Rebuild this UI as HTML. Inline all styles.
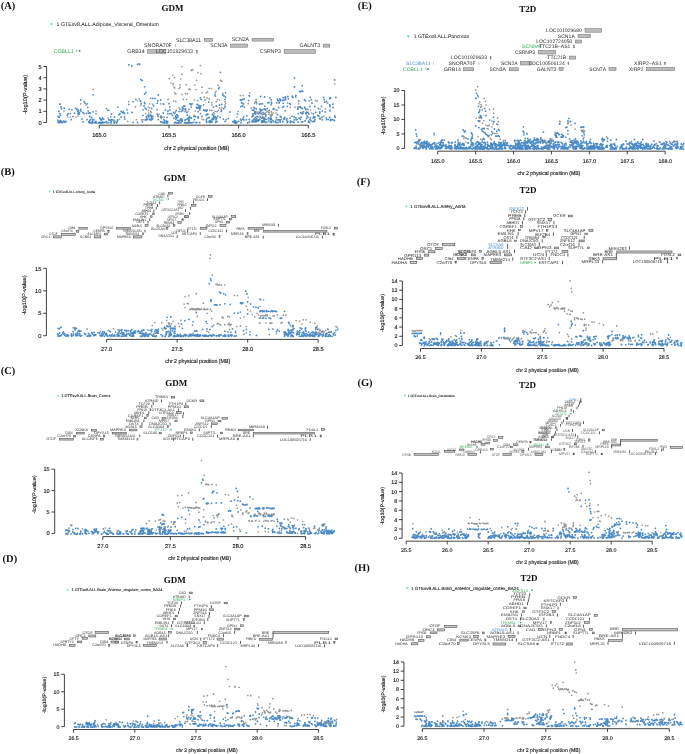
<!DOCTYPE html>
<html><head><meta charset="utf-8"><style>
html,body{margin:0;padding:0;background:#fff;}
svg{display:block;will-change:transform;}
text{font-family:'Liberation Sans',sans-serif;}
text.sb{font-family:'Liberation Serif',serif;font-weight:bold;}
</style></head><body>
<svg width="685" height="754" viewBox="0 0 685 754" fill="#222" text-rendering="geometricPrecision">
<rect width="685" height="754" fill="#fff"/>
<line x1="46.6" y1="122.5" x2="46.6" y2="66.5" stroke="#222" stroke-width="0.85"/>
<line x1="43.40" y1="122.50" x2="46.6" y2="122.50" stroke="#222" stroke-width="0.85"/>
<text x="41.6" y="124.6" font-size="5.72" text-anchor="end" fill="#111" stroke="#111" stroke-width="0.12">0</text>
<line x1="43.40" y1="111.30" x2="46.6" y2="111.30" stroke="#222" stroke-width="0.85"/>
<text x="41.6" y="113.4" font-size="5.72" text-anchor="end" fill="#111" stroke="#111" stroke-width="0.12">1</text>
<line x1="43.40" y1="100.10" x2="46.6" y2="100.10" stroke="#222" stroke-width="0.85"/>
<text x="41.6" y="102.2" font-size="5.72" text-anchor="end" fill="#111" stroke="#111" stroke-width="0.12">2</text>
<line x1="43.40" y1="88.90" x2="46.6" y2="88.90" stroke="#222" stroke-width="0.85"/>
<text x="41.6" y="91.0" font-size="5.72" text-anchor="end" fill="#111" stroke="#111" stroke-width="0.12">3</text>
<line x1="43.40" y1="77.70" x2="46.6" y2="77.70" stroke="#222" stroke-width="0.85"/>
<text x="41.6" y="79.8" font-size="5.72" text-anchor="end" fill="#111" stroke="#111" stroke-width="0.12">4</text>
<line x1="43.40" y1="66.50" x2="46.6" y2="66.50" stroke="#222" stroke-width="0.85"/>
<text x="41.6" y="68.6" font-size="5.72" text-anchor="end" fill="#111" stroke="#111" stroke-width="0.12">5</text>
<line x1="99.30" y1="125.2" x2="308.30" y2="125.2" stroke="#222" stroke-width="0.85"/>
<line x1="99.30" y1="125.2" x2="99.30" y2="128.40" stroke="#222" stroke-width="0.85"/>
<text x="99.3" y="136.7" font-size="5.72" text-anchor="middle" fill="#111" stroke="#111" stroke-width="0.12">165.0</text>
<line x1="168.97" y1="125.2" x2="168.97" y2="128.40" stroke="#222" stroke-width="0.85"/>
<text x="169.0" y="136.7" font-size="5.72" text-anchor="middle" fill="#111" stroke="#111" stroke-width="0.12">165.5</text>
<line x1="238.63" y1="125.2" x2="238.63" y2="128.40" stroke="#222" stroke-width="0.85"/>
<text x="238.6" y="136.7" font-size="5.72" text-anchor="middle" fill="#111" stroke="#111" stroke-width="0.12">166.0</text>
<line x1="308.30" y1="125.2" x2="308.30" y2="128.40" stroke="#222" stroke-width="0.85"/>
<text x="308.3" y="136.7" font-size="5.72" text-anchor="middle" fill="#111" stroke="#111" stroke-width="0.12">166.5</text>
<text x="196.8" y="149.7" font-size="5.72" text-anchor="middle" fill="#111" stroke="#111" stroke-width="0.12" textLength="65.1" lengthAdjust="spacingAndGlyphs">chr 2 physical position (MB)</text>
<text x="26.7" y="94.4" font-size="5.6" text-anchor="middle" fill="#111" stroke="#111" stroke-width="0.12" textLength="39.0" lengthAdjust="spacingAndGlyphs" transform="rotate(-90 26.72 94.4)">-log10(P-value)</text>
<line x1="404.6" y1="148.4" x2="404.6" y2="90.5" stroke="#222" stroke-width="0.85"/>
<line x1="401.40" y1="148.40" x2="404.6" y2="148.40" stroke="#222" stroke-width="0.85"/>
<text x="399.6" y="150.3" font-size="5.4" text-anchor="end" fill="#111" stroke="#111" stroke-width="0.12">0</text>
<line x1="401.40" y1="133.93" x2="404.6" y2="133.93" stroke="#222" stroke-width="0.85"/>
<text x="399.6" y="135.9" font-size="5.4" text-anchor="end" fill="#111" stroke="#111" stroke-width="0.12">5</text>
<line x1="401.40" y1="119.45" x2="404.6" y2="119.45" stroke="#222" stroke-width="0.85"/>
<text x="399.6" y="121.4" font-size="5.4" text-anchor="end" fill="#111" stroke="#111" stroke-width="0.12">10</text>
<line x1="401.40" y1="104.97" x2="404.6" y2="104.97" stroke="#222" stroke-width="0.85"/>
<text x="399.6" y="106.9" font-size="5.4" text-anchor="end" fill="#111" stroke="#111" stroke-width="0.12">15</text>
<line x1="401.40" y1="90.50" x2="404.6" y2="90.50" stroke="#222" stroke-width="0.85"/>
<text x="399.6" y="92.4" font-size="5.4" text-anchor="end" fill="#111" stroke="#111" stroke-width="0.12">20</text>
<line x1="437.70" y1="151.2" x2="665.20" y2="151.2" stroke="#222" stroke-width="0.85"/>
<line x1="437.70" y1="151.2" x2="437.70" y2="154.40" stroke="#222" stroke-width="0.85"/>
<text x="437.7" y="162.5" font-size="5.4" text-anchor="middle" fill="#111" stroke="#111" stroke-width="0.12">165.0</text>
<line x1="475.62" y1="151.2" x2="475.62" y2="154.40" stroke="#222" stroke-width="0.85"/>
<text x="475.6" y="162.5" font-size="5.4" text-anchor="middle" fill="#111" stroke="#111" stroke-width="0.12">165.5</text>
<line x1="513.53" y1="151.2" x2="513.53" y2="154.40" stroke="#222" stroke-width="0.85"/>
<text x="513.5" y="162.5" font-size="5.4" text-anchor="middle" fill="#111" stroke="#111" stroke-width="0.12">166.0</text>
<line x1="551.45" y1="151.2" x2="551.45" y2="154.40" stroke="#222" stroke-width="0.85"/>
<text x="551.5" y="162.5" font-size="5.4" text-anchor="middle" fill="#111" stroke="#111" stroke-width="0.12">166.5</text>
<line x1="589.37" y1="151.2" x2="589.37" y2="154.40" stroke="#222" stroke-width="0.85"/>
<text x="589.4" y="162.5" font-size="5.4" text-anchor="middle" fill="#111" stroke="#111" stroke-width="0.12">167.0</text>
<line x1="627.28" y1="151.2" x2="627.28" y2="154.40" stroke="#222" stroke-width="0.85"/>
<text x="627.3" y="162.5" font-size="5.4" text-anchor="middle" fill="#111" stroke="#111" stroke-width="0.12">167.5</text>
<line x1="665.20" y1="151.2" x2="665.20" y2="154.40" stroke="#222" stroke-width="0.85"/>
<text x="665.2" y="162.5" font-size="5.4" text-anchor="middle" fill="#111" stroke="#111" stroke-width="0.12">168.0</text>
<text x="548.9" y="174.5" font-size="5.4" text-anchor="middle" fill="#111" stroke="#111" stroke-width="0.12" textLength="62.8" lengthAdjust="spacingAndGlyphs">chr 2 physical position (MB)</text>
<text x="385.4" y="115.6" font-size="5.3" text-anchor="middle" fill="#111" stroke="#111" stroke-width="0.12" textLength="38.5" lengthAdjust="spacingAndGlyphs" transform="rotate(-90 385.41 115.6)">-log10(P-value)</text>
<line x1="46.4" y1="335.7" x2="46.4" y2="268.4" stroke="#222" stroke-width="0.85"/>
<line x1="43.20" y1="335.70" x2="46.4" y2="335.70" stroke="#222" stroke-width="0.85"/>
<text x="41.4" y="337.8" font-size="5.72" text-anchor="end" fill="#111" stroke="#111" stroke-width="0.12">0</text>
<line x1="43.20" y1="313.27" x2="46.4" y2="313.27" stroke="#222" stroke-width="0.85"/>
<text x="41.4" y="315.3" font-size="5.72" text-anchor="end" fill="#111" stroke="#111" stroke-width="0.12">5</text>
<line x1="43.20" y1="290.83" x2="46.4" y2="290.83" stroke="#222" stroke-width="0.85"/>
<text x="41.4" y="292.9" font-size="5.72" text-anchor="end" fill="#111" stroke="#111" stroke-width="0.12">10</text>
<line x1="43.20" y1="268.40" x2="46.4" y2="268.40" stroke="#222" stroke-width="0.85"/>
<text x="41.4" y="270.5" font-size="5.72" text-anchor="end" fill="#111" stroke="#111" stroke-width="0.12">15</text>
<line x1="106.60" y1="339.4" x2="318.20" y2="339.4" stroke="#222" stroke-width="0.85"/>
<line x1="106.60" y1="339.4" x2="106.60" y2="342.60" stroke="#222" stroke-width="0.85"/>
<text x="106.6" y="351.0" font-size="5.72" text-anchor="middle" fill="#111" stroke="#111" stroke-width="0.12">27.0</text>
<line x1="177.13" y1="339.4" x2="177.13" y2="342.60" stroke="#222" stroke-width="0.85"/>
<text x="177.1" y="351.0" font-size="5.72" text-anchor="middle" fill="#111" stroke="#111" stroke-width="0.12">27.5</text>
<line x1="247.67" y1="339.4" x2="247.67" y2="342.60" stroke="#222" stroke-width="0.85"/>
<text x="247.7" y="351.0" font-size="5.72" text-anchor="middle" fill="#111" stroke="#111" stroke-width="0.12">28.0</text>
<line x1="318.20" y1="339.4" x2="318.20" y2="342.60" stroke="#222" stroke-width="0.85"/>
<text x="318.2" y="351.0" font-size="5.72" text-anchor="middle" fill="#111" stroke="#111" stroke-width="0.12">28.5</text>
<text x="197.8" y="362.9" font-size="5.72" text-anchor="middle" fill="#111" stroke="#111" stroke-width="0.12" textLength="65.0" lengthAdjust="spacingAndGlyphs">chr 2 physical position (MB)</text>
<text x="26.3" y="295.1" font-size="5.3" text-anchor="middle" fill="#111" stroke="#111" stroke-width="0.12" textLength="39.5" lengthAdjust="spacingAndGlyphs" transform="rotate(-90 26.31 295.1)">-log10(P-value)</text>
<line x1="54.7" y1="533.4" x2="54.7" y2="469.2" stroke="#222" stroke-width="0.85"/>
<line x1="51.50" y1="533.40" x2="54.7" y2="533.40" stroke="#222" stroke-width="0.85"/>
<text x="49.7" y="535.4" font-size="5.62" text-anchor="end" fill="#111" stroke="#111" stroke-width="0.12">0</text>
<line x1="51.50" y1="512.00" x2="54.7" y2="512.00" stroke="#222" stroke-width="0.85"/>
<text x="49.7" y="514.0" font-size="5.62" text-anchor="end" fill="#111" stroke="#111" stroke-width="0.12">5</text>
<line x1="51.50" y1="490.60" x2="54.7" y2="490.60" stroke="#222" stroke-width="0.85"/>
<text x="49.7" y="492.6" font-size="5.62" text-anchor="end" fill="#111" stroke="#111" stroke-width="0.12">10</text>
<line x1="51.50" y1="469.20" x2="54.7" y2="469.20" stroke="#222" stroke-width="0.85"/>
<text x="49.7" y="471.2" font-size="5.62" text-anchor="end" fill="#111" stroke="#111" stroke-width="0.12">15</text>
<line x1="102.80" y1="536.6" x2="305.60" y2="536.6" stroke="#222" stroke-width="0.85"/>
<line x1="102.80" y1="536.6" x2="102.80" y2="539.80" stroke="#222" stroke-width="0.85"/>
<text x="102.8" y="547.9" font-size="5.62" text-anchor="middle" fill="#111" stroke="#111" stroke-width="0.12">27.0</text>
<line x1="170.40" y1="536.6" x2="170.40" y2="539.80" stroke="#222" stroke-width="0.85"/>
<text x="170.4" y="547.9" font-size="5.62" text-anchor="middle" fill="#111" stroke="#111" stroke-width="0.12">27.5</text>
<line x1="238.00" y1="536.6" x2="238.00" y2="539.80" stroke="#222" stroke-width="0.85"/>
<text x="238.0" y="547.9" font-size="5.62" text-anchor="middle" fill="#111" stroke="#111" stroke-width="0.12">28.0</text>
<line x1="305.60" y1="536.6" x2="305.60" y2="539.80" stroke="#222" stroke-width="0.85"/>
<text x="305.6" y="547.9" font-size="5.62" text-anchor="middle" fill="#111" stroke="#111" stroke-width="0.12">28.5</text>
<text x="199.6" y="560.3" font-size="5.62" text-anchor="middle" fill="#111" stroke="#111" stroke-width="0.12" textLength="62.8" lengthAdjust="spacingAndGlyphs">chr 2 physical position (MB)</text>
<text x="36.1" y="494.4" font-size="5.2" text-anchor="middle" fill="#111" stroke="#111" stroke-width="0.12" textLength="38.0" lengthAdjust="spacingAndGlyphs" transform="rotate(-90 36.07 494.4)">-log10(P-value)</text>
<line x1="64.4" y1="726.6" x2="64.4" y2="674.3" stroke="#222" stroke-width="0.85"/>
<line x1="61.20" y1="726.60" x2="64.4" y2="726.60" stroke="#222" stroke-width="0.85"/>
<text x="59.4" y="728.5" font-size="5.29" text-anchor="end" fill="#111" stroke="#111" stroke-width="0.12">0</text>
<line x1="61.20" y1="709.17" x2="64.4" y2="709.17" stroke="#222" stroke-width="0.85"/>
<text x="59.4" y="711.1" font-size="5.29" text-anchor="end" fill="#111" stroke="#111" stroke-width="0.12">5</text>
<line x1="61.20" y1="691.73" x2="64.4" y2="691.73" stroke="#222" stroke-width="0.85"/>
<text x="59.4" y="693.6" font-size="5.29" text-anchor="end" fill="#111" stroke="#111" stroke-width="0.12">10</text>
<line x1="61.20" y1="674.30" x2="64.4" y2="674.30" stroke="#222" stroke-width="0.85"/>
<text x="59.4" y="676.2" font-size="5.29" text-anchor="end" fill="#111" stroke="#111" stroke-width="0.12">15</text>
<line x1="73.60" y1="729.5" x2="318.40" y2="729.5" stroke="#222" stroke-width="0.85"/>
<line x1="73.60" y1="729.5" x2="73.60" y2="732.70" stroke="#222" stroke-width="0.85"/>
<text x="73.6" y="740.3" font-size="5.29" text-anchor="middle" fill="#111" stroke="#111" stroke-width="0.12">26.5</text>
<line x1="134.80" y1="729.5" x2="134.80" y2="732.70" stroke="#222" stroke-width="0.85"/>
<text x="134.8" y="740.3" font-size="5.29" text-anchor="middle" fill="#111" stroke="#111" stroke-width="0.12">27.0</text>
<line x1="196.00" y1="729.5" x2="196.00" y2="732.70" stroke="#222" stroke-width="0.85"/>
<text x="196.0" y="740.3" font-size="5.29" text-anchor="middle" fill="#111" stroke="#111" stroke-width="0.12">27.5</text>
<line x1="257.20" y1="729.5" x2="257.20" y2="732.70" stroke="#222" stroke-width="0.85"/>
<text x="257.2" y="740.3" font-size="5.29" text-anchor="middle" fill="#111" stroke="#111" stroke-width="0.12">28.0</text>
<line x1="318.40" y1="729.5" x2="318.40" y2="732.70" stroke="#222" stroke-width="0.85"/>
<text x="318.4" y="740.3" font-size="5.29" text-anchor="middle" fill="#111" stroke="#111" stroke-width="0.12">28.5</text>
<text x="206.8" y="752.1" font-size="5.29" text-anchor="middle" fill="#111" stroke="#111" stroke-width="0.12" textLength="61.6" lengthAdjust="spacingAndGlyphs">chr 2 physical position (MB)</text>
<text x="45.9" y="695.0" font-size="5.0" text-anchor="middle" fill="#111" stroke="#111" stroke-width="0.12" textLength="36.5" lengthAdjust="spacingAndGlyphs" transform="rotate(-90 45.90 695.0)">-log10(P-value)</text>
<line x1="402.4" y1="345.5" x2="402.4" y2="281.0" stroke="#222" stroke-width="0.85"/>
<line x1="399.20" y1="345.50" x2="402.4" y2="345.50" stroke="#222" stroke-width="0.85"/>
<text x="397.4" y="347.4" font-size="5.29" text-anchor="end" fill="#111" stroke="#111" stroke-width="0.12">0</text>
<line x1="399.20" y1="336.29" x2="402.4" y2="336.29" stroke="#222" stroke-width="0.85"/>
<text x="397.4" y="338.2" font-size="5.29" text-anchor="end" fill="#111" stroke="#111" stroke-width="0.12">2</text>
<line x1="399.20" y1="327.07" x2="402.4" y2="327.07" stroke="#222" stroke-width="0.85"/>
<text x="397.4" y="329.0" font-size="5.29" text-anchor="end" fill="#111" stroke="#111" stroke-width="0.12">4</text>
<line x1="399.20" y1="317.86" x2="402.4" y2="317.86" stroke="#222" stroke-width="0.85"/>
<text x="397.4" y="319.8" font-size="5.29" text-anchor="end" fill="#111" stroke="#111" stroke-width="0.12">6</text>
<line x1="399.20" y1="308.64" x2="402.4" y2="308.64" stroke="#222" stroke-width="0.85"/>
<text x="397.4" y="310.5" font-size="5.29" text-anchor="end" fill="#111" stroke="#111" stroke-width="0.12">8</text>
<line x1="399.20" y1="299.43" x2="402.4" y2="299.43" stroke="#222" stroke-width="0.85"/>
<text x="397.4" y="301.3" font-size="5.29" text-anchor="end" fill="#111" stroke="#111" stroke-width="0.12">10</text>
<line x1="399.20" y1="290.21" x2="402.4" y2="290.21" stroke="#222" stroke-width="0.85"/>
<text x="397.4" y="292.1" font-size="5.29" text-anchor="end" fill="#111" stroke="#111" stroke-width="0.12">12</text>
<line x1="399.20" y1="281.00" x2="402.4" y2="281.00" stroke="#222" stroke-width="0.85"/>
<text x="397.4" y="282.9" font-size="5.29" text-anchor="end" fill="#111" stroke="#111" stroke-width="0.12">14</text>
<line x1="420.50" y1="348.5" x2="664.00" y2="348.5" stroke="#222" stroke-width="0.85"/>
<line x1="420.50" y1="348.5" x2="420.50" y2="351.70" stroke="#222" stroke-width="0.85"/>
<text x="420.5" y="359.2" font-size="5.29" text-anchor="middle" fill="#111" stroke="#111" stroke-width="0.12">26.5</text>
<line x1="481.38" y1="348.5" x2="481.38" y2="351.70" stroke="#222" stroke-width="0.85"/>
<text x="481.4" y="359.2" font-size="5.29" text-anchor="middle" fill="#111" stroke="#111" stroke-width="0.12">27.0</text>
<line x1="542.25" y1="348.5" x2="542.25" y2="351.70" stroke="#222" stroke-width="0.85"/>
<text x="542.2" y="359.2" font-size="5.29" text-anchor="middle" fill="#111" stroke="#111" stroke-width="0.12">27.5</text>
<line x1="603.12" y1="348.5" x2="603.12" y2="351.70" stroke="#222" stroke-width="0.85"/>
<text x="603.1" y="359.2" font-size="5.29" text-anchor="middle" fill="#111" stroke="#111" stroke-width="0.12">28.0</text>
<line x1="664.00" y1="348.5" x2="664.00" y2="351.70" stroke="#222" stroke-width="0.85"/>
<text x="664.0" y="359.2" font-size="5.29" text-anchor="middle" fill="#111" stroke="#111" stroke-width="0.12">28.5</text>
<text x="547.3" y="371.8" font-size="5.29" text-anchor="middle" fill="#111" stroke="#111" stroke-width="0.12" textLength="63.0" lengthAdjust="spacingAndGlyphs">chr 2 physical position (MB)</text>
<text x="383.6" y="313.0" font-size="5.2" text-anchor="middle" fill="#111" stroke="#111" stroke-width="0.12" textLength="38.0" lengthAdjust="spacingAndGlyphs" transform="rotate(-90 383.57 313.0)">-log10(P-value)</text>
<line x1="402.1" y1="538.3" x2="402.1" y2="473.0" stroke="#222" stroke-width="0.85"/>
<line x1="398.90" y1="538.30" x2="402.1" y2="538.30" stroke="#222" stroke-width="0.85"/>
<text x="397.1" y="540.2" font-size="5.29" text-anchor="end" fill="#111" stroke="#111" stroke-width="0.12">0</text>
<line x1="398.90" y1="528.97" x2="402.1" y2="528.97" stroke="#222" stroke-width="0.85"/>
<text x="397.1" y="530.9" font-size="5.29" text-anchor="end" fill="#111" stroke="#111" stroke-width="0.12">2</text>
<line x1="398.90" y1="519.64" x2="402.1" y2="519.64" stroke="#222" stroke-width="0.85"/>
<text x="397.1" y="521.5" font-size="5.29" text-anchor="end" fill="#111" stroke="#111" stroke-width="0.12">4</text>
<line x1="398.90" y1="510.31" x2="402.1" y2="510.31" stroke="#222" stroke-width="0.85"/>
<text x="397.1" y="512.2" font-size="5.29" text-anchor="end" fill="#111" stroke="#111" stroke-width="0.12">6</text>
<line x1="398.90" y1="500.99" x2="402.1" y2="500.99" stroke="#222" stroke-width="0.85"/>
<text x="397.1" y="502.9" font-size="5.29" text-anchor="end" fill="#111" stroke="#111" stroke-width="0.12">8</text>
<line x1="398.90" y1="491.66" x2="402.1" y2="491.66" stroke="#222" stroke-width="0.85"/>
<text x="397.1" y="493.6" font-size="5.29" text-anchor="end" fill="#111" stroke="#111" stroke-width="0.12">10</text>
<line x1="398.90" y1="482.33" x2="402.1" y2="482.33" stroke="#222" stroke-width="0.85"/>
<text x="397.1" y="484.2" font-size="5.29" text-anchor="end" fill="#111" stroke="#111" stroke-width="0.12">12</text>
<line x1="398.90" y1="473.00" x2="402.1" y2="473.00" stroke="#222" stroke-width="0.85"/>
<text x="397.1" y="474.9" font-size="5.29" text-anchor="end" fill="#111" stroke="#111" stroke-width="0.12">14</text>
<line x1="406.20" y1="541.2" x2="652.20" y2="541.2" stroke="#222" stroke-width="0.85"/>
<line x1="406.20" y1="541.2" x2="406.20" y2="544.40" stroke="#222" stroke-width="0.85"/>
<text x="406.2" y="552.0" font-size="5.29" text-anchor="middle" fill="#111" stroke="#111" stroke-width="0.12">25.5</text>
<line x1="447.20" y1="541.2" x2="447.20" y2="544.40" stroke="#222" stroke-width="0.85"/>
<text x="447.2" y="552.0" font-size="5.29" text-anchor="middle" fill="#111" stroke="#111" stroke-width="0.12">26.0</text>
<line x1="488.20" y1="541.2" x2="488.20" y2="544.40" stroke="#222" stroke-width="0.85"/>
<text x="488.2" y="552.0" font-size="5.29" text-anchor="middle" fill="#111" stroke="#111" stroke-width="0.12">26.5</text>
<line x1="529.20" y1="541.2" x2="529.20" y2="544.40" stroke="#222" stroke-width="0.85"/>
<text x="529.2" y="552.0" font-size="5.29" text-anchor="middle" fill="#111" stroke="#111" stroke-width="0.12">27.0</text>
<line x1="570.20" y1="541.2" x2="570.20" y2="544.40" stroke="#222" stroke-width="0.85"/>
<text x="570.2" y="552.0" font-size="5.29" text-anchor="middle" fill="#111" stroke="#111" stroke-width="0.12">27.5</text>
<line x1="611.20" y1="541.2" x2="611.20" y2="544.40" stroke="#222" stroke-width="0.85"/>
<text x="611.2" y="552.0" font-size="5.29" text-anchor="middle" fill="#111" stroke="#111" stroke-width="0.12">28.0</text>
<line x1="652.20" y1="541.2" x2="652.20" y2="544.40" stroke="#222" stroke-width="0.85"/>
<text x="652.2" y="552.0" font-size="5.29" text-anchor="middle" fill="#111" stroke="#111" stroke-width="0.12">28.5</text>
<text x="547.3" y="563.9" font-size="5.29" text-anchor="middle" fill="#111" stroke="#111" stroke-width="0.12" textLength="63.0" lengthAdjust="spacingAndGlyphs">chr 2 physical position (MB)</text>
<text x="383.6" y="505.9" font-size="5.2" text-anchor="middle" fill="#111" stroke="#111" stroke-width="0.12" textLength="38.0" lengthAdjust="spacingAndGlyphs" transform="rotate(-90 383.57 505.9)">-log10(P-value)</text>
<line x1="403.9" y1="726.2" x2="403.9" y2="662.0" stroke="#222" stroke-width="0.85"/>
<line x1="400.70" y1="726.20" x2="403.9" y2="726.20" stroke="#222" stroke-width="0.85"/>
<text x="398.9" y="728.1" font-size="5.29" text-anchor="end" fill="#111" stroke="#111" stroke-width="0.12">0</text>
<line x1="400.70" y1="717.03" x2="403.9" y2="717.03" stroke="#222" stroke-width="0.85"/>
<text x="398.9" y="718.9" font-size="5.29" text-anchor="end" fill="#111" stroke="#111" stroke-width="0.12">2</text>
<line x1="400.70" y1="707.86" x2="403.9" y2="707.86" stroke="#222" stroke-width="0.85"/>
<text x="398.9" y="709.8" font-size="5.29" text-anchor="end" fill="#111" stroke="#111" stroke-width="0.12">4</text>
<line x1="400.70" y1="698.69" x2="403.9" y2="698.69" stroke="#222" stroke-width="0.85"/>
<text x="398.9" y="700.6" font-size="5.29" text-anchor="end" fill="#111" stroke="#111" stroke-width="0.12">6</text>
<line x1="400.70" y1="689.51" x2="403.9" y2="689.51" stroke="#222" stroke-width="0.85"/>
<text x="398.9" y="691.4" font-size="5.29" text-anchor="end" fill="#111" stroke="#111" stroke-width="0.12">8</text>
<line x1="400.70" y1="680.34" x2="403.9" y2="680.34" stroke="#222" stroke-width="0.85"/>
<text x="398.9" y="682.2" font-size="5.29" text-anchor="end" fill="#111" stroke="#111" stroke-width="0.12">10</text>
<line x1="400.70" y1="671.17" x2="403.9" y2="671.17" stroke="#222" stroke-width="0.85"/>
<text x="398.9" y="673.1" font-size="5.29" text-anchor="end" fill="#111" stroke="#111" stroke-width="0.12">12</text>
<line x1="400.70" y1="662.00" x2="403.9" y2="662.00" stroke="#222" stroke-width="0.85"/>
<text x="398.9" y="663.9" font-size="5.29" text-anchor="end" fill="#111" stroke="#111" stroke-width="0.12">14</text>
<line x1="422.30" y1="728.7" x2="669.30" y2="728.7" stroke="#222" stroke-width="0.85"/>
<line x1="422.30" y1="728.7" x2="422.30" y2="731.90" stroke="#222" stroke-width="0.85"/>
<text x="422.3" y="740.1" font-size="5.29" text-anchor="middle" fill="#111" stroke="#111" stroke-width="0.12">26.5</text>
<line x1="484.05" y1="728.7" x2="484.05" y2="731.90" stroke="#222" stroke-width="0.85"/>
<text x="484.1" y="740.1" font-size="5.29" text-anchor="middle" fill="#111" stroke="#111" stroke-width="0.12">27.0</text>
<line x1="545.80" y1="728.7" x2="545.80" y2="731.90" stroke="#222" stroke-width="0.85"/>
<text x="545.8" y="740.1" font-size="5.29" text-anchor="middle" fill="#111" stroke="#111" stroke-width="0.12">27.5</text>
<line x1="607.55" y1="728.7" x2="607.55" y2="731.90" stroke="#222" stroke-width="0.85"/>
<text x="607.5" y="740.1" font-size="5.29" text-anchor="middle" fill="#111" stroke="#111" stroke-width="0.12">28.0</text>
<line x1="669.30" y1="728.7" x2="669.30" y2="731.90" stroke="#222" stroke-width="0.85"/>
<text x="669.3" y="740.1" font-size="5.29" text-anchor="middle" fill="#111" stroke="#111" stroke-width="0.12">28.5</text>
<text x="548.8" y="752.1" font-size="5.29" text-anchor="middle" fill="#111" stroke="#111" stroke-width="0.12" textLength="63.1" lengthAdjust="spacingAndGlyphs">chr 2 physical position (MB)</text>
<text x="384.7" y="694.0" font-size="5.2" text-anchor="middle" fill="#111" stroke="#111" stroke-width="0.12" textLength="37.3" lengthAdjust="spacingAndGlyphs" transform="rotate(-90 384.67 694.0)">-log10(P-value)</text>
<text x="0.7" y="8.9" font-size="10.5" fill="#111" class="sb">(A)</text>
<text x="0.7" y="175.3" font-size="10.5" fill="#111" class="sb">(B)</text>
<text x="0.7" y="374.2" font-size="10.5" fill="#111" class="sb">(C)</text>
<text x="2.6" y="562.3" font-size="10.5" fill="#111" class="sb">(D)</text>
<text x="357.7" y="8.9" font-size="10.5" fill="#111" class="sb">(E)</text>
<text x="356.8" y="185.2" font-size="10.5" fill="#111" class="sb">(F)</text>
<text x="357.4" y="386.2" font-size="10.5" fill="#111" class="sb">(G)</text>
<text x="354.5" y="571.4" font-size="10.5" fill="#111" class="sb">(H)</text>
<text x="172.5" y="11.0" font-size="9" text-anchor="middle" fill="#111" class="sb">GDM</text>
<text x="174.7" y="180.5" font-size="9" text-anchor="middle" fill="#111" class="sb">GDM</text>
<text x="176.2" y="386.0" font-size="9" text-anchor="middle" fill="#111" class="sb">GDM</text>
<text x="174.8" y="582.6" font-size="9" text-anchor="middle" fill="#111" class="sb">GDM</text>
<text x="527.8" y="11.6" font-size="9" text-anchor="middle" fill="#111" class="sb">T2D</text>
<text x="527.9" y="193.0" font-size="9" text-anchor="middle" fill="#111" class="sb">T2D</text>
<text x="527.4" y="387.6" font-size="9" text-anchor="middle" fill="#111" class="sb">T2D</text>
<text x="529.1" y="580.9" font-size="9" text-anchor="middle" fill="#111" class="sb">T2D</text>
<circle cx="51.5" cy="23.9" r="1.26" fill="#86dcc4"/>
<text x="56.5" y="25.8" font-size="5.26" fill="#111" textLength="102.3" lengthAdjust="spacingAndGlyphs">1 GTExv8.ALL.Adipose_Visceral_Omentum</text>
<circle cx="408.4" cy="36.2" r="1.21" fill="#86dcc4"/>
<text x="413.7" y="38.0" font-size="5.04" fill="#111" textLength="55.5" lengthAdjust="spacingAndGlyphs">1 GTExv8.ALL.Pancreas</text>
<circle cx="49.6" cy="191.4" r="1.00" fill="#86dcc4"/>
<text x="52.8" y="192.6" font-size="3.4" fill="#111" textLength="42.1" lengthAdjust="spacingAndGlyphs" stroke="#111" stroke-width="0.08">1 GTExv8.ALL.Artery_Aorta</text>
<circle cx="58.2" cy="396.0" r="1.00" fill="#86dcc4"/>
<text x="61.3" y="397.4" font-size="3.89" fill="#111" textLength="49.1" lengthAdjust="spacingAndGlyphs" stroke="#111" stroke-width="0.08">1 GTExv8.ALL.Brain_Cortex</text>
<circle cx="67.7" cy="590.0" r="1.00" fill="#86dcc4"/>
<text x="71.5" y="591.4" font-size="3.78" fill="#111" textLength="90.8" lengthAdjust="spacingAndGlyphs" stroke="#111" stroke-width="0.08">1 GTExv8.ALL.Brain_Anterior_cingulate_cortex_BA24</text>
<circle cx="406.4" cy="206.5" r="1.07" fill="#86dcc4"/>
<text x="410.2" y="208.1" font-size="4.47" fill="#111" textLength="55.4" lengthAdjust="spacingAndGlyphs" stroke="#111" stroke-width="0.08">1 GTExv8.ALL.Artery_Aorta</text>
<circle cx="404.9" cy="395.6" r="1.00" fill="#86dcc4"/>
<text x="407.8" y="396.7" font-size="3.18" fill="#111" textLength="47.0" lengthAdjust="spacingAndGlyphs" stroke="#111" stroke-width="0.08">1 GTExv8.ALL.Brain_Cerebellum</text>
<circle cx="407.2" cy="588.0" r="1.08" fill="#86dcc4"/>
<text x="411.0" y="589.6" font-size="4.49" fill="#111" textLength="107.8" lengthAdjust="spacingAndGlyphs" stroke="#111" stroke-width="0.08">1 GTExv8.ALL.Brain_Anterior_cingulate_cortex_BA24</text>
<text x="53.8" y="52.7" font-size="5.4" fill="#3aaa5c" textLength="19.8" lengthAdjust="spacingAndGlyphs">COBLL1</text>
<rect x="76.50" y="49.50" width="0.60" height="2.60" fill="#3aaa5c"/>
<circle cx="79.6" cy="50.9" r="0.9" fill="#2e8a6a"/>
<text x="127.3" y="53.1" font-size="5.4" fill="#2a2a2a" textLength="17.5" lengthAdjust="spacingAndGlyphs">GRB14</text>
<rect x="147.60" y="49.60" width="18.20" height="3.60" fill="#bcbcbc" stroke="#6a6a6a" stroke-width="0.5"/>
<text x="155.8" y="53.1" font-size="5.4" fill="#3a3a3a" textLength="37.2" lengthAdjust="spacingAndGlyphs">LOC101929633</text>
<rect x="196.50" y="50.30" width="0.90" height="3.00" fill="#6a6a6a" stroke="#6a6a6a" stroke-width="0.3"/>
<text x="144.1" y="46.9" font-size="5.4" fill="#2a2a2a" textLength="27.7" lengthAdjust="spacingAndGlyphs">SNORA70F</text>
<rect x="174.90" y="43.90" width="0.60" height="2.80" fill="#888"/>
<text x="175.9" y="41.5" font-size="5.4" fill="#2a2a2a" textLength="25.1" lengthAdjust="spacingAndGlyphs">SLC38A11</text>
<rect x="204.40" y="38.50" width="8.30" height="2.80" fill="#bcbcbc" stroke="#6a6a6a" stroke-width="0.5"/>
<text x="231.7" y="41.3" font-size="5.4" fill="#2a2a2a" textLength="17.3" lengthAdjust="spacingAndGlyphs">SCN2A</text>
<rect x="252.10" y="38.30" width="21.50" height="2.80" fill="#bcbcbc" stroke="#6a6a6a" stroke-width="0.5"/>
<text x="210.2" y="47.2" font-size="5.4" fill="#2a2a2a" textLength="17.4" lengthAdjust="spacingAndGlyphs">SCN3A</text>
<rect x="230.70" y="44.00" width="16.90" height="3.20" fill="#bcbcbc" stroke="#6a6a6a" stroke-width="0.5"/>
<text x="299.5" y="47.2" font-size="5.4" fill="#2a2a2a" textLength="20.7" lengthAdjust="spacingAndGlyphs">GALNT3</text>
<rect x="323.20" y="44.10" width="6.60" height="3.00" fill="#bcbcbc" stroke="#6a6a6a" stroke-width="0.5"/>
<text x="259.9" y="52.9" font-size="5.4" fill="#2a2a2a" textLength="21.0" lengthAdjust="spacingAndGlyphs">CSRNP3</text>
<rect x="284.20" y="49.50" width="31.30" height="3.80" fill="#bcbcbc" stroke="#6a6a6a" stroke-width="0.5"/>
<text x="546.1" y="31.9" font-size="5.0" fill="#2a2a2a" textLength="35.7" lengthAdjust="spacingAndGlyphs">LOC101929680</text>
<rect x="585.00" y="28.60" width="16.60" height="3.60" fill="#bcbcbc" stroke="#6a6a6a" stroke-width="0.5"/>
<text x="557.8" y="37.5" font-size="5.0" fill="#2a2a2a" textLength="17.0" lengthAdjust="spacingAndGlyphs">SCN1A</text>
<rect x="578.00" y="34.40" width="12.60" height="3.20" fill="#bcbcbc" stroke="#6a6a6a" stroke-width="0.5"/>
<text x="536.3" y="43.0" font-size="5.0" fill="#2a2a2a" textLength="35.9" lengthAdjust="spacingAndGlyphs">LOC102724058</text>
<rect x="575.30" y="40.00" width="6.20" height="3.00" fill="#bcbcbc" stroke="#6a6a6a" stroke-width="0.5"/>
<text x="539.0" y="48.2" font-size="5.0" fill="#2a2a2a" textLength="31.4" lengthAdjust="spacingAndGlyphs">TTC21B−AS1</text>
<rect x="573.60" y="45.40" width="0.90" height="2.60" fill="#6a6a6a" stroke="#6a6a6a" stroke-width="0.3"/>
<text x="521.9" y="48.2" font-size="5.0" fill="#3aaa5c" textLength="17.5" lengthAdjust="spacingAndGlyphs">SCN9A</text>
<rect x="539.6" y="45.4" width="1.6" height="2" fill="#2e8a6a"/>
<text x="514.9" y="53.8" font-size="5.0" fill="#2a2a2a" textLength="20.1" lengthAdjust="spacingAndGlyphs">CSRNP3</text>
<rect x="538.20" y="50.40" width="17.50" height="3.60" fill="#bcbcbc" stroke="#6a6a6a" stroke-width="0.5"/>
<text x="547.3" y="59.1" font-size="5.0" fill="#2a2a2a" textLength="18.9" lengthAdjust="spacingAndGlyphs">TTC21B</text>
<rect x="569.20" y="56.10" width="6.50" height="3.00" fill="#bcbcbc" stroke="#6a6a6a" stroke-width="0.5"/>
<text x="500.9" y="64.7" font-size="5.0" fill="#2a2a2a" textLength="16.6" lengthAdjust="spacingAndGlyphs">SCN2A</text>
<rect x="520.50" y="61.40" width="11.00" height="3.60" fill="#bcbcbc" stroke="#6a6a6a" stroke-width="0.5"/>
<text x="528.9" y="64.7" font-size="5.0" fill="#2a2a2a" textLength="35.9" lengthAdjust="spacingAndGlyphs">LOC100506124</text>
<rect x="567.90" y="62.00" width="0.90" height="2.80" fill="#6a6a6a" stroke="#6a6a6a" stroke-width="0.3"/>
<text x="536.8" y="70.5" font-size="5.0" fill="#2a2a2a" textLength="19.6" lengthAdjust="spacingAndGlyphs">GALNT3</text>
<rect x="559.00" y="67.50" width="4.10" height="3.00" fill="#bcbcbc" stroke="#6a6a6a" stroke-width="0.5"/>
<text x="589.3" y="70.5" font-size="5.0" fill="#2a2a2a" textLength="16.7" lengthAdjust="spacingAndGlyphs">SCN7A</text>
<rect x="609.00" y="67.50" width="7.00" height="3.00" fill="#bcbcbc" stroke="#6a6a6a" stroke-width="0.5"/>
<text x="489.5" y="71.0" font-size="5.0" fill="#2a2a2a" textLength="16.3" lengthAdjust="spacingAndGlyphs">SCN3A</text>
<rect x="509.30" y="67.80" width="9.10" height="3.00" fill="#bcbcbc" stroke="#6a6a6a" stroke-width="0.5"/>
<text x="451.0" y="59.3" font-size="5.0" fill="#2a2a2a" textLength="36.0" lengthAdjust="spacingAndGlyphs">LOC101929633</text>
<rect x="490.10" y="56.50" width="0.90" height="2.60" fill="#6a6a6a" stroke="#6a6a6a" stroke-width="0.3"/>
<text x="406.0" y="65.0" font-size="5.0" fill="#4a90c8" textLength="24.5" lengthAdjust="spacingAndGlyphs">SLC38A11</text>
<rect x="433.40" y="62.20" width="0.60" height="2.40" fill="#7fb0d8"/>
<text x="448.6" y="65.2" font-size="5.0" fill="#2a2a2a" textLength="27.0" lengthAdjust="spacingAndGlyphs">SNORA70F</text>
<rect x="478.60" y="62.40" width="0.60" height="2.40" fill="#888"/>
<text x="403.0" y="70.8" font-size="5.0" fill="#3aaa5c" textLength="19.5" lengthAdjust="spacingAndGlyphs">COBLL1</text>
<rect x="425.60" y="67.80" width="0.60" height="2.40" fill="#3aaa5c"/>
<circle cx="428.0" cy="69.0" r="0.9" fill="#2e8a6a"/>
<text x="444.0" y="71.0" font-size="5.0" fill="#2a2a2a" textLength="16.9" lengthAdjust="spacingAndGlyphs">GRB14</text>
<rect x="463.50" y="67.80" width="10.20" height="3.00" fill="#bcbcbc" stroke="#6a6a6a" stroke-width="0.5"/>
<text x="634.0" y="65.0" font-size="5.0" fill="#2a2a2a" textLength="27.5" lengthAdjust="spacingAndGlyphs">XIRP2−AS1</text>
<rect x="664.60" y="62.10" width="0.90" height="2.60" fill="#6a6a6a" stroke="#6a6a6a" stroke-width="0.3"/>
<text x="629.0" y="70.5" font-size="5.0" fill="#2a2a2a" textLength="14.5" lengthAdjust="spacingAndGlyphs">XIRP2</text>
<rect x="646.50" y="67.40" width="28.20" height="3.20" fill="#bcbcbc" stroke="#6a6a6a" stroke-width="0.5"/>
<text x="41.1" y="237.8" font-size="3.5" fill="#2a2a2a" textLength="8.8" lengthAdjust="spacingAndGlyphs">ORC1</text>
<text x="49.0" y="234.7" font-size="3.5" fill="#2a2a2a" textLength="8.8" lengthAdjust="spacingAndGlyphs">OTOF</text>
<rect x="53.40" y="235.86" width="7.90" height="2.08" fill="#c6c6c6" stroke="#4a4a4a" stroke-width="0.55"/>
<text x="61.3" y="232.1" font-size="3.5" fill="#2a2a2a" textLength="11.4" lengthAdjust="spacingAndGlyphs">C2orf70</text>
<rect x="61.30" y="233.26" width="14.40" height="2.08" fill="#c6c6c6" stroke="#4a4a4a" stroke-width="0.55"/>
<text x="68.3" y="229.3" font-size="3.5" fill="#2a2a2a" textLength="7.0" lengthAdjust="spacingAndGlyphs">CIB4</text>
<rect x="76.20" y="230.20" width="2.60" height="2.00" fill="#c6c6c6" stroke="#4a4a4a" stroke-width="0.55"/>
<rect x="78.80" y="227.46" width="8.70" height="1.68" fill="#c6c6c6" stroke="#4a4a4a" stroke-width="0.55"/>
<text x="80.1" y="237.8" font-size="3.5" fill="#2a2a2a" textLength="10.9" lengthAdjust="spacingAndGlyphs">KCNK3</text>
<rect x="94.20" y="235.82" width="6.60" height="2.16" fill="#c6c6c6" stroke="#4a4a4a" stroke-width="0.55"/>
<text x="87.6" y="234.8" font-size="3.5" fill="#2a2a2a" textLength="13.6" lengthAdjust="spacingAndGlyphs">SLC35F6</text>
<rect x="104.30" y="233.22" width="3.00" height="1.76" fill="#c6c6c6" stroke="#4a4a4a" stroke-width="0.55"/>
<text x="93.3" y="232.1" font-size="3.5" fill="#2a2a2a" textLength="11.4" lengthAdjust="spacingAndGlyphs">CENPA</text>
<rect x="107.80" y="230.26" width="1.30" height="2.08" fill="#c6c6c6" stroke="#4a4a4a" stroke-width="0.55"/>
<text x="100.3" y="229.2" font-size="3.5" fill="#2a2a2a" textLength="13.2" lengthAdjust="spacingAndGlyphs">DPYSL5</text>
<rect x="116.50" y="227.50" width="14.00" height="1.60" fill="#c6c6c6" stroke="#4a4a4a" stroke-width="0.55"/>
<text x="117.0" y="237.8" font-size="3.5" fill="#2a2a2a" textLength="13.5" lengthAdjust="spacingAndGlyphs">MAPRE3</text>
<rect x="133.60" y="235.82" width="8.30" height="2.16" fill="#c6c6c6" stroke="#4a4a4a" stroke-width="0.55"/>
<text x="122.7" y="232.1" font-size="3.5" fill="#2a2a2a" textLength="19.2" lengthAdjust="spacingAndGlyphs">TMEM214-AS1</text>
<rect x="144.57" y="229.60" width="0.85" height="2.80" fill="#444"/>
<text x="125.3" y="234.8" font-size="3.5" fill="#2a2a2a" textLength="13.6" lengthAdjust="spacingAndGlyphs">TMEM214</text>
<rect x="142.30" y="232.84" width="1.10" height="1.92" fill="#c6c6c6" stroke="#4a4a4a" stroke-width="0.55"/>
<text x="131.7" y="226.6" font-size="3.5" fill="#2a2a2a" textLength="10.5" lengthAdjust="spacingAndGlyphs">AGBL5</text>
<rect x="145.10" y="224.52" width="2.90" height="1.76" fill="#c6c6c6" stroke="#4a4a4a" stroke-width="0.55"/>
<text x="158.5" y="194.7" font-size="3.5" fill="#2a2a2a" textLength="7.0" lengthAdjust="spacingAndGlyphs">CAD</text>
<rect x="168.50" y="192.68" width="4.00" height="1.44" fill="#c6c6c6" stroke="#4a4a4a" stroke-width="0.55"/>
<text x="153.3" y="197.6" font-size="3.5" fill="#2a2a2a" textLength="11.1" lengthAdjust="spacingAndGlyphs">ATRAID</text>
<rect x="167.47" y="194.60" width="0.85" height="2.80" fill="#444"/>
<text x="153.3" y="200.5" font-size="3.5" fill="#3aaa5c" textLength="10.5" lengthAdjust="spacingAndGlyphs">SLC5A6</text>
<rect x="166.15" y="198.06" width="0.50" height="2.07" fill="#7cc99a"/>
<circle cx="168.4" cy="199.1" r="0.75" fill="#2e9a7a"/>
<text x="146.3" y="203.5" font-size="3.5" fill="#2a2a2a" textLength="9.9" lengthAdjust="spacingAndGlyphs">TCF23</text>
<rect x="159.27" y="201.40" width="0.85" height="2.80" fill="#444"/>
<text x="143.4" y="206.4" font-size="3.5" fill="#2a2a2a" textLength="9.9" lengthAdjust="spacingAndGlyphs">PREB</text>
<rect x="156.97" y="204.20" width="0.85" height="2.80" fill="#444"/>
<text x="145.0" y="209.1" font-size="3.5" fill="#2a2a2a" textLength="8.3" lengthAdjust="spacingAndGlyphs">TPRB</text>
<rect x="155.77" y="206.80" width="0.85" height="2.80" fill="#444"/>
<text x="141.6" y="212.0" font-size="3.5" fill="#2a2a2a" textLength="9.9" lengthAdjust="spacingAndGlyphs">ABHD1</text>
<rect x="153.47" y="209.60" width="0.85" height="2.80" fill="#444"/>
<text x="135.2" y="214.9" font-size="3.5" fill="#2a2a2a" textLength="13.4" lengthAdjust="spacingAndGlyphs">CGREF1</text>
<rect x="152.70" y="213.00" width="1.80" height="1.60" fill="#c6c6c6" stroke="#4a4a4a" stroke-width="0.55"/>
<text x="139.9" y="217.8" font-size="3.5" fill="#2a2a2a" textLength="7.0" lengthAdjust="spacingAndGlyphs">KHK</text>
<rect x="150.40" y="215.80" width="1.70" height="1.60" fill="#c6c6c6" stroke="#4a4a4a" stroke-width="0.55"/>
<text x="132.8" y="220.8" font-size="3.5" fill="#2a2a2a" textLength="13.5" lengthAdjust="spacingAndGlyphs">EMILIN1</text>
<rect x="149.38" y="218.20" width="0.85" height="2.80" fill="#444"/>
<text x="136.4" y="223.4" font-size="3.5" fill="#2a2a2a" textLength="8.1" lengthAdjust="spacingAndGlyphs">OST4</text>
<rect x="147.57" y="220.90" width="0.85" height="2.80" fill="#444"/>
<text x="177.8" y="203.2" font-size="3.5" fill="#2a2a2a" textLength="5.8" lengthAdjust="spacingAndGlyphs">FTH1P3</text>
<rect x="193.07" y="200.70" width="0.85" height="3.00" fill="#444"/>
<rect x="191.60" y="204.42" width="4.40" height="1.76" fill="#c6c6c6" stroke="#4a4a4a" stroke-width="0.55"/>
<text x="177.2" y="206.2" font-size="3.5" fill="#2a2a2a" textLength="9.4" lengthAdjust="spacingAndGlyphs">PPM1G</text>
<text x="177.8" y="208.7" font-size="3.5" fill="#2a2a2a" textLength="5.8" lengthAdjust="spacingAndGlyphs">SNX17</text>
<rect x="190.17" y="206.90" width="0.85" height="2.80" fill="#444"/>
<text x="161.5" y="211.4" font-size="3.5" fill="#2a2a2a" textLength="17.5" lengthAdjust="spacingAndGlyphs">GTF3C2-AS1</text>
<rect x="184.97" y="209.10" width="0.85" height="2.80" fill="#444"/>
<text x="175.5" y="214.9" font-size="3.5" fill="#2a2a2a" textLength="8.1" lengthAdjust="spacingAndGlyphs">EIF2B4</text>
<rect x="189.27" y="212.10" width="0.85" height="2.80" fill="#444"/>
<text x="167.9" y="217.6" font-size="3.5" fill="#2a2a2a" textLength="9.9" lengthAdjust="spacingAndGlyphs">GTF3C2</text>
<rect x="184.20" y="215.80" width="4.10" height="1.60" fill="#c6c6c6" stroke="#4a4a4a" stroke-width="0.55"/>
<rect x="185.00" y="215.80" width="3.50" height="1.60" fill="#c6c6c6" stroke="#4a4a4a" stroke-width="0.55"/>
<text x="167.3" y="220.8" font-size="3.5" fill="#2a2a2a" textLength="8.8" lengthAdjust="spacingAndGlyphs">MPV17</text>
<rect x="181.90" y="218.80" width="1.70" height="1.60" fill="#c6c6c6" stroke="#4a4a4a" stroke-width="0.55"/>
<text x="163.2" y="223.7" font-size="3.5" fill="#2a2a2a" textLength="11.1" lengthAdjust="spacingAndGlyphs">TRIM54</text>
<rect x="177.80" y="221.70" width="3.50" height="1.60" fill="#c6c6c6" stroke="#4a4a4a" stroke-width="0.55"/>
<text x="156.2" y="226.6" font-size="3.5" fill="#2a2a2a" textLength="14.0" lengthAdjust="spacingAndGlyphs">SLC30A3</text>
<rect x="173.70" y="224.70" width="1.20" height="1.60" fill="#c6c6c6" stroke="#4a4a4a" stroke-width="0.55"/>
<text x="151.0" y="229.5" font-size="3.5" fill="#2a2a2a" textLength="14.0" lengthAdjust="spacingAndGlyphs">SLC5A6</text>
<rect x="166.10" y="227.60" width="1.80" height="1.60" fill="#c6c6c6" stroke="#4a4a4a" stroke-width="0.55"/>
<text x="187.3" y="229.5" font-size="3.5" fill="#2a2a2a" textLength="9.4" lengthAdjust="spacingAndGlyphs">IFT172</text>
<rect x="200.20" y="227.42" width="6.80" height="1.76" fill="#c6c6c6" stroke="#4a4a4a" stroke-width="0.55"/>
<text x="176.1" y="231.8" font-size="3.5" fill="#2a2a2a" textLength="9.3" lengthAdjust="spacingAndGlyphs">ZNF513</text>
<rect x="187.27" y="229.40" width="0.85" height="2.80" fill="#444"/>
<text x="171.4" y="234.2" font-size="3.5" fill="#2a2a2a" textLength="5.8" lengthAdjust="spacingAndGlyphs">UCN</text>
<text x="181.9" y="234.5" font-size="3.5" fill="#2a2a2a" textLength="14.8" lengthAdjust="spacingAndGlyphs">KRTCAP3</text>
<rect x="199.77" y="232.20" width="0.85" height="2.80" fill="#444"/>
<text x="158.5" y="237.3" font-size="3.5" fill="#2a2a2a" textLength="15.2" lengthAdjust="spacingAndGlyphs">DNAJC5G</text>
<rect x="176.77" y="235.20" width="0.85" height="2.80" fill="#444"/>
<text x="204.3" y="237.7" font-size="3.5" fill="#2a2a2a" textLength="11.7" lengthAdjust="spacingAndGlyphs">C2orf16</text>
<rect x="219.10" y="235.46" width="0.90" height="2.08" fill="#c6c6c6" stroke="#4a4a4a" stroke-width="0.55"/>
<text x="208.4" y="232.1" font-size="3.5" fill="#2a2a2a" textLength="14.6" lengthAdjust="spacingAndGlyphs">CCDC121</text>
<rect x="226.07" y="229.60" width="0.85" height="2.80" fill="#444"/>
<text x="205.4" y="226.6" font-size="3.5" fill="#2a2a2a" textLength="11.1" lengthAdjust="spacingAndGlyphs">ZNF512</text>
<rect x="220.00" y="224.70" width="5.90" height="1.60" fill="#c6c6c6" stroke="#4a4a4a" stroke-width="0.55"/>
<text x="214.8" y="223.4" font-size="3.5" fill="#2a2a2a" textLength="8.2" lengthAdjust="spacingAndGlyphs">GPN1</text>
<rect x="226.70" y="221.32" width="2.90" height="1.76" fill="#c6c6c6" stroke="#4a4a4a" stroke-width="0.55"/>
<text x="213.6" y="220.4" font-size="3.5" fill="#2a2a2a" textLength="12.3" lengthAdjust="spacingAndGlyphs">SUPT7L</text>
<rect x="229.70" y="218.40" width="1.80" height="1.60" fill="#c6c6c6" stroke="#4a4a4a" stroke-width="0.55"/>
<text x="211.9" y="217.6" font-size="3.5" fill="#2a2a2a" textLength="15.7" lengthAdjust="spacingAndGlyphs">SLC4A1AP</text>
<rect x="231.70" y="215.70" width="4.10" height="1.60" fill="#c6c6c6" stroke="#4a4a4a" stroke-width="0.55"/>
<text x="196.1" y="197.6" font-size="3.5" fill="#2a2a2a" textLength="8.8" lengthAdjust="spacingAndGlyphs">GCKR</text>
<rect x="208.40" y="195.70" width="3.70" height="1.60" fill="#c6c6c6" stroke="#4a4a4a" stroke-width="0.55"/>
<text x="193.2" y="200.5" font-size="3.5" fill="#2a2a2a" textLength="10.5" lengthAdjust="spacingAndGlyphs">FNDC4</text>
<rect x="206.97" y="198.20" width="0.85" height="2.80" fill="#444"/>
<text x="236.4" y="229.5" font-size="3.5" fill="#2a2a2a" textLength="8.2" lengthAdjust="spacingAndGlyphs">RBKS</text>
<rect x="248.10" y="227.46" width="15.50" height="1.68" fill="#c6c6c6" stroke="#4a4a4a" stroke-width="0.55"/>
<text x="253.9" y="232.1" font-size="3.5" fill="#2a2a2a" textLength="5.8" lengthAdjust="spacingAndGlyphs">BRE</text>
<rect x="263.60" y="230.28" width="63.30" height="1.84" fill="#c6c6c6" stroke="#4a4a4a" stroke-width="0.55"/>
<text x="231.1" y="234.8" font-size="3.5" fill="#2a2a2a" textLength="12.3" lengthAdjust="spacingAndGlyphs">MRPL33</text>
<rect x="247.10" y="232.72" width="0.90" height="1.76" fill="#c6c6c6" stroke="#4a4a4a" stroke-width="0.55"/>
<text x="245.1" y="237.7" font-size="3.5" fill="#2a2a2a" textLength="14.6" lengthAdjust="spacingAndGlyphs">BRE-AS1</text>
<rect x="262.77" y="235.80" width="0.85" height="2.80" fill="#444"/>
<text x="262.3" y="226.2" font-size="3.5" fill="#2a2a2a" textLength="13.1" lengthAdjust="spacingAndGlyphs">MIR4263</text>
<rect x="278.07" y="223.80" width="0.85" height="2.80" fill="#444"/>
<text x="320.7" y="229.0" font-size="3.5" fill="#2a2a2a" textLength="10.5" lengthAdjust="spacingAndGlyphs">FOSL2</text>
<rect x="334.30" y="227.18" width="3.10" height="1.84" fill="#c6c6c6" stroke="#4a4a4a" stroke-width="0.55"/>
<text x="315.0" y="235.2" font-size="3.5" fill="#2a2a2a" textLength="15.0" lengthAdjust="spacingAndGlyphs">PLB1</text>
<rect x="333.00" y="233.20" width="1.30" height="2.00" fill="#c6c6c6" stroke="#4a4a4a" stroke-width="0.55"/>
<text x="295.8" y="238.0" font-size="3.5" fill="#2a2a2a" textLength="23.0" lengthAdjust="spacingAndGlyphs">LOC100505716</text>
<rect x="321.88" y="235.80" width="0.85" height="2.80" fill="#444"/>
<text x="46.4" y="440.4" font-size="3.6" fill="#2a2a2a" textLength="9.4" lengthAdjust="spacingAndGlyphs">OTOF</text>
<rect x="59.30" y="438.32" width="14.00" height="1.76" fill="#c6c6c6" stroke="#4a4a4a" stroke-width="0.55"/>
<text x="57.3" y="437.4" font-size="3.6" fill="#2a2a2a" textLength="13.7" lengthAdjust="spacingAndGlyphs">C2orf70</text>
<rect x="73.60" y="435.50" width="2.00" height="1.60" fill="#c6c6c6" stroke="#4a4a4a" stroke-width="0.55"/>
<text x="65.1" y="434.3" font-size="3.6" fill="#2a2a2a" textLength="7.6" lengthAdjust="spacingAndGlyphs">CIB4</text>
<rect x="76.20" y="432.40" width="8.20" height="1.60" fill="#c6c6c6" stroke="#4a4a4a" stroke-width="0.55"/>
<text x="75.4" y="431.1" font-size="3.6" fill="#2a2a2a" textLength="12.5" lengthAdjust="spacingAndGlyphs">KCNK3</text>
<rect x="91.40" y="429.50" width="5.20" height="1.60" fill="#c6c6c6" stroke="#4a4a4a" stroke-width="0.55"/>
<text x="94.3" y="434.3" font-size="3.6" fill="#2a2a2a" textLength="14.6" lengthAdjust="spacingAndGlyphs">DPYSL5</text>
<rect x="112.20" y="432.40" width="14.20" height="1.60" fill="#c6c6c6" stroke="#4a4a4a" stroke-width="0.55"/>
<text x="88.1" y="437.4" font-size="3.6" fill="#2a2a2a" textLength="12.6" lengthAdjust="spacingAndGlyphs">CENPA</text>
<rect x="103.60" y="435.04" width="1.20" height="1.92" fill="#c6c6c6" stroke="#4a4a4a" stroke-width="0.55"/>
<text x="81.8" y="440.4" font-size="3.6" fill="#2a2a2a" textLength="16.0" lengthAdjust="spacingAndGlyphs">SLC35F6</text>
<rect x="100.70" y="438.32" width="2.90" height="1.76" fill="#c6c6c6" stroke="#4a4a4a" stroke-width="0.55"/>
<text x="110.0" y="431.1" font-size="3.6" fill="#2a2a2a" textLength="15.8" lengthAdjust="spacingAndGlyphs">MAPRE3</text>
<rect x="129.30" y="429.12" width="7.60" height="1.76" fill="#c6c6c6" stroke="#4a4a4a" stroke-width="0.55"/>
<text x="155.0" y="398.4" font-size="3.6" fill="#2a2a2a" textLength="12.8" lengthAdjust="spacingAndGlyphs">TRIM54</text>
<rect x="171.30" y="396.50" width="3.50" height="1.60" fill="#c6c6c6" stroke="#4a4a4a" stroke-width="0.55"/>
<text x="145.0" y="401.6" font-size="3.6" fill="#2a2a2a" textLength="13.5" lengthAdjust="spacingAndGlyphs">ATRAID</text>
<rect x="160.97" y="399.36" width="0.85" height="2.88" fill="#444"/>
<text x="138.6" y="404.7" font-size="3.6" fill="#2a2a2a" textLength="11.1" lengthAdjust="spacingAndGlyphs">TCF23</text>
<rect x="152.77" y="402.06" width="0.85" height="2.88" fill="#444"/>
<text x="136.3" y="407.7" font-size="3.6" fill="#2a2a2a" textLength="11.7" lengthAdjust="spacingAndGlyphs">PREB</text>
<rect x="151.38" y="404.86" width="0.85" height="2.88" fill="#444"/>
<text x="137.4" y="410.9" font-size="3.6" fill="#2a2a2a" textLength="9.4" lengthAdjust="spacingAndGlyphs">PPM1B</text>
<rect x="149.88" y="408.16" width="0.85" height="2.88" fill="#444"/>
<text x="133.9" y="413.8" font-size="3.6" fill="#2a2a2a" textLength="10.6" lengthAdjust="spacingAndGlyphs">ABHD1</text>
<rect x="148.38" y="411.16" width="0.85" height="2.88" fill="#444"/>
<text x="128.1" y="416.7" font-size="3.6" fill="#2a2a2a" textLength="15.2" lengthAdjust="spacingAndGlyphs">CGREF1</text>
<rect x="146.80" y="414.70" width="1.70" height="1.60" fill="#c6c6c6" stroke="#4a4a4a" stroke-width="0.55"/>
<text x="130.4" y="419.4" font-size="3.6" fill="#2a2a2a" textLength="8.8" lengthAdjust="spacingAndGlyphs">KHK</text>
<rect x="144.50" y="417.20" width="1.70" height="1.60" fill="#c6c6c6" stroke="#4a4a4a" stroke-width="0.55"/>
<text x="125.8" y="422.2" font-size="3.6" fill="#2a2a2a" textLength="14.0" lengthAdjust="spacingAndGlyphs">EMILIN1</text>
<rect x="143.47" y="419.56" width="0.85" height="2.88" fill="#444"/>
<text x="128.7" y="424.9" font-size="3.6" fill="#2a2a2a" textLength="9.9" lengthAdjust="spacingAndGlyphs">OST4</text>
<rect x="141.57" y="422.36" width="0.85" height="2.88" fill="#444"/>
<text x="125.2" y="427.8" font-size="3.6" fill="#2a2a2a" textLength="11.7" lengthAdjust="spacingAndGlyphs">AGBL5</text>
<rect x="139.80" y="425.80" width="2.30" height="1.60" fill="#c6c6c6" stroke="#4a4a4a" stroke-width="0.55"/>
<text x="114.7" y="437.2" font-size="3.6" fill="#2a2a2a" textLength="21.0" lengthAdjust="spacingAndGlyphs">TMEM214-AS1</text>
<rect x="139.38" y="434.56" width="0.85" height="2.88" fill="#444"/>
<text x="117.0" y="440.4" font-size="3.6" fill="#2a2a2a" textLength="17.5" lengthAdjust="spacingAndGlyphs">TMEM214</text>
<rect x="137.00" y="438.32" width="0.90" height="1.76" fill="#c6c6c6" stroke="#4a4a4a" stroke-width="0.55"/>
<text x="169.0" y="404.7" font-size="3.6" fill="#2a2a2a" textLength="14.0" lengthAdjust="spacingAndGlyphs">FTH1P3</text>
<rect x="185.38" y="402.36" width="0.85" height="2.88" fill="#444"/>
<rect x="184.30" y="405.84" width="4.30" height="1.92" fill="#c6c6c6" stroke="#4a4a4a" stroke-width="0.55"/>
<text x="167.8" y="407.7" font-size="3.6" fill="#2a2a2a" textLength="13.4" lengthAdjust="spacingAndGlyphs">PPM1G</text>
<text x="151.5" y="410.5" font-size="3.6" fill="#2a2a2a" textLength="23.3" lengthAdjust="spacingAndGlyphs">GTF3C2-AS1</text>
<text x="159.0" y="413.6" font-size="3.6" fill="#2a2a2a" textLength="14.6" lengthAdjust="spacingAndGlyphs">GTF3C2</text>
<rect x="176.60" y="411.44" width="4.60" height="1.92" fill="#c6c6c6" stroke="#4a4a4a" stroke-width="0.55"/>
<rect x="177.88" y="408.56" width="0.85" height="2.88" fill="#444"/>
<text x="167.2" y="415.5" font-size="3.6" fill="#2a2a2a" textLength="11.1" lengthAdjust="spacingAndGlyphs">SNX17</text>
<text x="166.6" y="419.1" font-size="3.6" fill="#2a2a2a" textLength="11.1" lengthAdjust="spacingAndGlyphs">EIF2B4</text>
<rect x="182.47" y="414.75" width="0.85" height="3.50" fill="#444"/>
<rect x="183.07" y="412.25" width="0.85" height="2.50" fill="#444"/>
<text x="159.0" y="422.2" font-size="3.6" fill="#2a2a2a" textLength="10.6" lengthAdjust="spacingAndGlyphs">MPV17</text>
<rect x="174.80" y="420.10" width="2.40" height="1.60" fill="#c6c6c6" stroke="#4a4a4a" stroke-width="0.55"/>
<text x="151.5" y="419.4" font-size="3.6" fill="#2a2a2a" textLength="7.5" lengthAdjust="spacingAndGlyphs">CAD</text>
<rect x="162.00" y="417.40" width="3.50" height="1.60" fill="#c6c6c6" stroke="#4a4a4a" stroke-width="0.55"/>
<text x="149.1" y="424.9" font-size="3.6" fill="#2a2a2a" textLength="18.1" lengthAdjust="spacingAndGlyphs">DNAJC5G</text>
<rect x="169.67" y="422.56" width="0.85" height="2.88" fill="#444"/>
<text x="148.0" y="427.8" font-size="3.6" fill="#2a2a2a" textLength="16.3" lengthAdjust="spacingAndGlyphs">SLC30A3</text>
<rect x="167.20" y="425.70" width="1.20" height="1.60" fill="#c6c6c6" stroke="#4a4a4a" stroke-width="0.55"/>
<text x="154.4" y="431.1" font-size="3.6" fill="#3aaa5c" textLength="12.2" lengthAdjust="spacingAndGlyphs">IFT172</text>
<rect x="169.65" y="428.76" width="0.50" height="2.07" fill="#7cc99a"/>
<circle cx="171.0" cy="429.8" r="0.75" fill="#2e9a7a"/>
<text x="143.3" y="434.3" font-size="3.6" fill="#2a2a2a" textLength="14.0" lengthAdjust="spacingAndGlyphs">SLC5A6</text>
<rect x="159.60" y="432.20" width="1.80" height="1.60" fill="#c6c6c6" stroke="#4a4a4a" stroke-width="0.55"/>
<text x="175.4" y="434.3" font-size="3.6" fill="#2a2a2a" textLength="12.3" lengthAdjust="spacingAndGlyphs">NRBP1</text>
<rect x="190.50" y="432.00" width="1.80" height="1.60" fill="#c6c6c6" stroke="#4a4a4a" stroke-width="0.55"/>
<text x="167.8" y="437.2" font-size="3.6" fill="#2a2a2a" textLength="13.4" lengthAdjust="spacingAndGlyphs">ZNF513</text>
<rect x="183.17" y="434.56" width="0.85" height="2.88" fill="#444"/>
<text x="163.1" y="440.4" font-size="3.6" fill="#2a2a2a" textLength="6.5" lengthAdjust="spacingAndGlyphs">UCN</text>
<text x="170.7" y="440.4" font-size="3.6" fill="#2a2a2a" textLength="19.3" lengthAdjust="spacingAndGlyphs">KRTCAP3</text>
<rect x="173.17" y="437.86" width="0.85" height="2.88" fill="#444"/>
<rect x="192.38" y="437.76" width="0.85" height="2.88" fill="#444"/>
<text x="186.4" y="401.6" font-size="3.6" fill="#2a2a2a" textLength="10.5" lengthAdjust="spacingAndGlyphs">GCKR</text>
<rect x="199.90" y="399.92" width="4.00" height="1.76" fill="#c6c6c6" stroke="#4a4a4a" stroke-width="0.55"/>
<text x="200.4" y="419.4" font-size="3.6" fill="#2a2a2a" textLength="19.3" lengthAdjust="spacingAndGlyphs">SLC4A1AP</text>
<rect x="222.00" y="417.60" width="5.30" height="1.60" fill="#c6c6c6" stroke="#4a4a4a" stroke-width="0.55"/>
<text x="205.1" y="422.2" font-size="3.6" fill="#2a2a2a" textLength="9.9" lengthAdjust="spacingAndGlyphs">GPN1</text>
<rect x="218.00" y="420.20" width="2.90" height="1.60" fill="#c6c6c6" stroke="#4a4a4a" stroke-width="0.55"/>
<text x="195.2" y="424.9" font-size="3.6" fill="#2a2a2a" textLength="13.4" lengthAdjust="spacingAndGlyphs">ZNF512</text>
<rect x="211.50" y="422.92" width="5.90" height="1.76" fill="#c6c6c6" stroke="#4a4a4a" stroke-width="0.55"/>
<text x="194.0" y="427.8" font-size="3.6" fill="#2a2a2a" textLength="13.4" lengthAdjust="spacingAndGlyphs">CCDC121</text>
<rect x="210.88" y="425.06" width="0.85" height="2.88" fill="#444"/>
<text x="184.1" y="431.1" font-size="3.6" fill="#2a2a2a" textLength="12.3" lengthAdjust="spacingAndGlyphs">EMX1</text>
<rect x="198.88" y="428.46" width="0.85" height="2.88" fill="#444"/>
<text x="203.4" y="434.3" font-size="3.6" fill="#2a2a2a" textLength="12.8" lengthAdjust="spacingAndGlyphs">SUPT7L</text>
<rect x="220.30" y="432.20" width="2.30" height="1.60" fill="#c6c6c6" stroke="#4a4a4a" stroke-width="0.55"/>
<text x="196.9" y="437.4" font-size="3.6" fill="#2a2a2a" textLength="17.6" lengthAdjust="spacingAndGlyphs">CCDC121</text>
<rect x="216.97" y="434.76" width="0.85" height="2.88" fill="#444"/>
<text x="219.1" y="440.4" font-size="3.6" fill="#2a2a2a" textLength="15.8" lengthAdjust="spacingAndGlyphs">MRPL33</text>
<rect x="237.20" y="438.12" width="1.20" height="1.76" fill="#c6c6c6" stroke="#4a4a4a" stroke-width="0.55"/>
<text x="225.0" y="431.1" font-size="3.6" fill="#2a2a2a" textLength="11.1" lengthAdjust="spacingAndGlyphs">RBKS</text>
<rect x="238.40" y="429.20" width="15.20" height="1.60" fill="#c6c6c6" stroke="#4a4a4a" stroke-width="0.55"/>
<text x="243.1" y="434.3" font-size="3.6" fill="#2a2a2a" textLength="7.0" lengthAdjust="spacingAndGlyphs">BRE</text>
<rect x="253.60" y="432.40" width="60.90" height="1.60" fill="#c6c6c6" stroke="#4a4a4a" stroke-width="0.55"/>
<text x="233.1" y="437.4" font-size="3.6" fill="#2a2a2a" textLength="17.6" lengthAdjust="spacingAndGlyphs">BRE-AS1</text>
<rect x="252.88" y="434.30" width="0.85" height="3.00" fill="#444"/>
<text x="248.9" y="428.4" font-size="3.6" fill="#2a2a2a" textLength="16.0" lengthAdjust="spacingAndGlyphs">MIR4263</text>
<rect x="266.97" y="425.86" width="0.85" height="2.88" fill="#444"/>
<text x="306.5" y="430.9" font-size="3.6" fill="#2a2a2a" textLength="11.7" lengthAdjust="spacingAndGlyphs">FOSL2</text>
<rect x="321.30" y="428.64" width="3.10" height="1.92" fill="#c6c6c6" stroke="#4a4a4a" stroke-width="0.55"/>
<text x="300.2" y="437.1" font-size="3.6" fill="#2a2a2a" textLength="16.8" lengthAdjust="spacingAndGlyphs">PLB1</text>
<rect x="320.10" y="435.04" width="1.60" height="1.92" fill="#c6c6c6" stroke="#4a4a4a" stroke-width="0.55"/>
<text x="279.8" y="440.5" font-size="3.6" fill="#2a2a2a" textLength="27.3" lengthAdjust="spacingAndGlyphs">LOC100505716</text>
<rect x="309.77" y="438.06" width="0.85" height="2.88" fill="#444"/>
<text x="82.4" y="633.6" font-size="3.6" fill="#2a2a2a" textLength="10.5" lengthAdjust="spacingAndGlyphs">OTOF</text>
<rect x="95.20" y="631.36" width="13.40" height="2.08" fill="#c6c6c6" stroke="#4a4a4a" stroke-width="0.55"/>
<text x="75.4" y="636.7" font-size="3.6" fill="#2a2a2a" textLength="10.5" lengthAdjust="spacingAndGlyphs">ORC1</text>
<rect x="88.80" y="635.00" width="7.00" height="2.00" fill="#c6c6c6" stroke="#4a4a4a" stroke-width="0.55"/>
<text x="69.5" y="640.0" font-size="3.6" fill="#2a2a2a" textLength="9.4" lengthAdjust="spacingAndGlyphs">CFTY</text>
<rect x="82.10" y="637.60" width="5.50" height="1.60" fill="#c6c6c6" stroke="#4a4a4a" stroke-width="0.55"/>
<text x="60.2" y="643.3" font-size="3.6" fill="#2a2a2a" textLength="13.4" lengthAdjust="spacingAndGlyphs">SPRTY2</text>
<rect x="77.50" y="641.02" width="4.30" height="1.76" fill="#c6c6c6" stroke="#4a4a4a" stroke-width="0.55"/>
<text x="53.2" y="646.4" font-size="3.6" fill="#2a2a2a" textLength="12.8" lengthAdjust="spacingAndGlyphs">HADHB</text>
<rect x="69.30" y="644.26" width="5.80" height="2.08" fill="#c6c6c6" stroke="#4a4a4a" stroke-width="0.55"/>
<text x="99.9" y="643.3" font-size="3.6" fill="#2a2a2a" textLength="8.2" lengthAdjust="spacingAndGlyphs">CIB4</text>
<rect x="111.00" y="641.00" width="7.60" height="2.00" fill="#c6c6c6" stroke="#4a4a4a" stroke-width="0.55"/>
<text x="92.3" y="646.4" font-size="3.6" fill="#2a2a2a" textLength="13.4" lengthAdjust="spacingAndGlyphs">C2orf70</text>
<rect x="108.60" y="644.34" width="1.20" height="1.92" fill="#c6c6c6" stroke="#4a4a4a" stroke-width="0.55"/>
<text x="109.2" y="640.0" font-size="3.6" fill="#2a2a2a" textLength="12.9" lengthAdjust="spacingAndGlyphs">KCNK3</text>
<text x="115.0" y="636.9" font-size="3.6" fill="#2a2a2a" textLength="15.8" lengthAdjust="spacingAndGlyphs">SLC30A3</text>
<rect x="133.70" y="634.92" width="1.70" height="1.76" fill="#c6c6c6" stroke="#4a4a4a" stroke-width="0.55"/>
<rect x="124.30" y="638.12" width="5.30" height="1.76" fill="#c6c6c6" stroke="#4a4a4a" stroke-width="0.55"/>
<text x="120.8" y="643.5" font-size="3.6" fill="#2a2a2a" textLength="12.3" lengthAdjust="spacingAndGlyphs">CENPA</text>
<rect x="136.00" y="641.32" width="1.20" height="1.76" fill="#c6c6c6" stroke="#4a4a4a" stroke-width="0.55"/>
<text x="178.7" y="594.2" font-size="3.6" fill="#2a2a2a" textLength="7.5" lengthAdjust="spacingAndGlyphs">CAD</text>
<rect x="189.20" y="592.10" width="3.50" height="1.60" fill="#c6c6c6" stroke="#4a4a4a" stroke-width="0.55"/>
<text x="172.8" y="597.6" font-size="3.6" fill="#2a2a2a" textLength="12.9" lengthAdjust="spacingAndGlyphs">ATRAID</text>
<rect x="188.77" y="595.56" width="0.85" height="2.88" fill="#444"/>
<text x="172.8" y="600.9" font-size="3.6" fill="#3aaa5c" textLength="12.3" lengthAdjust="spacingAndGlyphs">NRBP1</text>
<rect x="187.45" y="598.57" width="0.50" height="2.07" fill="#7cc99a"/>
<circle cx="189.8" cy="599.6" r="0.75" fill="#2e9a7a"/>
<text x="167.0" y="604.1" font-size="3.6" fill="#2a2a2a" textLength="11.1" lengthAdjust="spacingAndGlyphs">TCF23</text>
<rect x="181.17" y="601.56" width="0.85" height="2.88" fill="#444"/>
<text x="164.0" y="607.3" font-size="3.6" fill="#2a2a2a" textLength="12.3" lengthAdjust="spacingAndGlyphs">PREB</text>
<rect x="179.97" y="604.56" width="0.85" height="2.88" fill="#444"/>
<text x="165.8" y="610.6" font-size="3.6" fill="#2a2a2a" textLength="9.9" lengthAdjust="spacingAndGlyphs">PPM1B</text>
<rect x="179.07" y="607.86" width="0.85" height="2.88" fill="#444"/>
<text x="162.9" y="614.0" font-size="3.6" fill="#2a2a2a" textLength="11.7" lengthAdjust="spacingAndGlyphs">ABHD1</text>
<rect x="178.17" y="611.26" width="0.85" height="2.88" fill="#444"/>
<text x="156.5" y="617.2" font-size="3.6" fill="#2a2a2a" textLength="15.1" lengthAdjust="spacingAndGlyphs">CGREF1</text>
<rect x="175.10" y="615.20" width="2.40" height="1.60" fill="#c6c6c6" stroke="#4a4a4a" stroke-width="0.55"/>
<text x="162.9" y="620.4" font-size="3.6" fill="#2a2a2a" textLength="7.6" lengthAdjust="spacingAndGlyphs">KHK</text>
<rect x="173.40" y="618.20" width="2.30" height="1.60" fill="#c6c6c6" stroke="#4a4a4a" stroke-width="0.55"/>
<text x="154.7" y="623.7" font-size="3.6" fill="#2a2a2a" textLength="14.6" lengthAdjust="spacingAndGlyphs">EMILIN1</text>
<rect x="172.38" y="620.96" width="0.85" height="2.88" fill="#444"/>
<text x="159.4" y="627.2" font-size="3.6" fill="#2a2a2a" textLength="8.7" lengthAdjust="spacingAndGlyphs">OST4</text>
<rect x="171.17" y="624.46" width="0.85" height="2.88" fill="#444"/>
<text x="154.1" y="630.3" font-size="3.6" fill="#3aaa5c" textLength="12.9" lengthAdjust="spacingAndGlyphs">TRIM54</text>
<rect x="169.95" y="627.97" width="0.50" height="2.07" fill="#7cc99a"/>
<circle cx="172.0" cy="629.0" r="0.75" fill="#2e9a7a"/>
<text x="154.1" y="633.6" font-size="3.6" fill="#2a2a2a" textLength="11.7" lengthAdjust="spacingAndGlyphs">AGBL5</text>
<rect x="168.70" y="631.50" width="2.90" height="1.60" fill="#c6c6c6" stroke="#4a4a4a" stroke-width="0.55"/>
<text x="144.8" y="637.1" font-size="3.6" fill="#2a2a2a" textLength="22.8" lengthAdjust="spacingAndGlyphs">AGBL5-AS1</text>
<rect x="168.27" y="634.36" width="0.85" height="2.88" fill="#444"/>
<text x="143.6" y="640.3" font-size="3.6" fill="#2a2a2a" textLength="12.9" lengthAdjust="spacingAndGlyphs">MAPRE3</text>
<rect x="159.10" y="638.00" width="7.30" height="2.00" fill="#c6c6c6" stroke="#4a4a4a" stroke-width="0.55"/>
<text x="146.5" y="643.5" font-size="3.6" fill="#2a2a2a" textLength="16.4" lengthAdjust="spacingAndGlyphs">TMEM214</text>
<rect x="166.57" y="640.76" width="0.85" height="2.88" fill="#444"/>
<text x="126.7" y="646.8" font-size="3.6" fill="#2a2a2a" textLength="14.0" lengthAdjust="spacingAndGlyphs">DPYSL5</text>
<rect x="143.60" y="644.50" width="12.90" height="2.00" fill="#c6c6c6" stroke="#4a4a4a" stroke-width="0.55"/>
<text x="170.5" y="646.8" font-size="3.6" fill="#2a2a2a" textLength="13.4" lengthAdjust="spacingAndGlyphs">SLC5A6</text>
<rect x="186.97" y="644.06" width="0.85" height="2.88" fill="#444"/>
<text x="176.9" y="623.7" font-size="3.6" fill="#2a2a2a" textLength="18.1" lengthAdjust="spacingAndGlyphs">GTF3C2</text>
<text x="175.1" y="627.2" font-size="3.6" fill="#2a2a2a" textLength="16.4" lengthAdjust="spacingAndGlyphs">SLC30A3</text>
<text x="186.2" y="630.4" font-size="3.6" fill="#2a2a2a" textLength="11.1" lengthAdjust="spacingAndGlyphs">MPV17</text>
<rect x="201.40" y="628.30" width="1.10" height="1.60" fill="#c6c6c6" stroke="#4a4a4a" stroke-width="0.55"/>
<text x="175.7" y="633.7" font-size="3.6" fill="#2a2a2a" textLength="17.5" lengthAdjust="spacingAndGlyphs">DNAJC5G</text>
<rect x="196.88" y="630.96" width="0.85" height="2.88" fill="#444"/>
<text x="115.0" y="637.1" font-size="3.6" fill="#2a2a2a" textLength="15.8" lengthAdjust="spacingAndGlyphs">SLC35F6</text>
<text x="109.0" y="640.3" font-size="3.6" fill="#2a2a2a" textLength="11.3" lengthAdjust="spacingAndGlyphs">KCNK3</text>
<rect x="115.00" y="641.40" width="3.50" height="1.60" fill="#c6c6c6" stroke="#4a4a4a" stroke-width="0.55"/>
<text x="210.1" y="604.2" font-size="3.6" fill="#2a2a2a" textLength="10.5" lengthAdjust="spacingAndGlyphs">GCKR</text>
<rect x="224.10" y="602.20" width="3.50" height="1.60" fill="#c6c6c6" stroke="#4a4a4a" stroke-width="0.55"/>
<text x="194.3" y="607.4" font-size="3.6" fill="#2a2a2a" textLength="13.5" lengthAdjust="spacingAndGlyphs">FTH1P3</text>
<rect x="210.88" y="605.06" width="0.85" height="2.88" fill="#444"/>
<rect x="209.50" y="608.82" width="4.10" height="1.76" fill="#c6c6c6" stroke="#4a4a4a" stroke-width="0.55"/>
<text x="193.8" y="610.5" font-size="3.6" fill="#2a2a2a" textLength="13.4" lengthAdjust="spacingAndGlyphs">PPM1G</text>
<text x="193.2" y="614.1" font-size="3.6" fill="#2a2a2a" textLength="13.4" lengthAdjust="spacingAndGlyphs">ZNF513</text>
<text x="194.3" y="617.3" font-size="3.6" fill="#2a2a2a" textLength="11.1" lengthAdjust="spacingAndGlyphs">SNX17</text>
<rect x="209.17" y="611.90" width="0.85" height="3.20" fill="#444"/>
<rect x="208.57" y="614.90" width="0.85" height="3.20" fill="#444"/>
<text x="192.0" y="620.6" font-size="3.6" fill="#2a2a2a" textLength="12.9" lengthAdjust="spacingAndGlyphs">EIF2B4</text>
<rect x="207.38" y="618.06" width="0.85" height="2.88" fill="#444"/>
<text x="185.0" y="624.0" font-size="3.6" fill="#2a2a2a" textLength="16.4" lengthAdjust="spacingAndGlyphs">GTF3C2-AS1</text>
<rect x="203.88" y="621.36" width="0.85" height="2.88" fill="#444"/>
<rect x="193.80" y="625.12" width="1.00" height="1.76" fill="#c6c6c6" stroke="#4a4a4a" stroke-width="0.55"/>
<text x="223.0" y="617.1" font-size="3.6" fill="#2a2a2a" textLength="18.6" lengthAdjust="spacingAndGlyphs">SLC4A1AP</text>
<rect x="244.60" y="615.20" width="4.00" height="1.60" fill="#c6c6c6" stroke="#4a4a4a" stroke-width="0.55"/>
<text x="225.9" y="620.6" font-size="3.6" fill="#2a2a2a" textLength="14.0" lengthAdjust="spacingAndGlyphs">SUPT7L</text>
<rect x="243.60" y="618.62" width="1.00" height="1.76" fill="#c6c6c6" stroke="#4a4a4a" stroke-width="0.55"/>
<text x="227.0" y="626.9" font-size="3.6" fill="#2a2a2a" textLength="10.0" lengthAdjust="spacingAndGlyphs">GPN1</text>
<rect x="240.50" y="624.80" width="2.90" height="1.60" fill="#c6c6c6" stroke="#4a4a4a" stroke-width="0.55"/>
<text x="218.9" y="630.4" font-size="3.6" fill="#2a2a2a" textLength="12.8" lengthAdjust="spacingAndGlyphs">ZNF512</text>
<rect x="234.60" y="628.22" width="5.30" height="1.76" fill="#c6c6c6" stroke="#4a4a4a" stroke-width="0.55"/>
<text x="218.3" y="633.7" font-size="3.6" fill="#2a2a2a" textLength="12.8" lengthAdjust="spacingAndGlyphs">C2orf16</text>
<rect x="234.17" y="630.96" width="0.85" height="2.88" fill="#444"/>
<text x="207.8" y="636.9" font-size="3.6" fill="#2a2a2a" textLength="12.2" lengthAdjust="spacingAndGlyphs">FNDC4</text>
<rect x="223.07" y="634.16" width="0.85" height="2.88" fill="#444"/>
<text x="189.7" y="640.4" font-size="3.6" fill="#2a2a2a" textLength="8.1" lengthAdjust="spacingAndGlyphs">UCN</text>
<rect x="200.38" y="637.66" width="0.85" height="2.88" fill="#444"/>
<text x="203.1" y="640.4" font-size="3.6" fill="#2a2a2a" textLength="11.7" lengthAdjust="spacingAndGlyphs">IFT172</text>
<rect x="217.10" y="638.10" width="6.40" height="2.00" fill="#c6c6c6" stroke="#4a4a4a" stroke-width="0.55"/>
<text x="185.0" y="643.6" font-size="3.6" fill="#2a2a2a" textLength="15.2" lengthAdjust="spacingAndGlyphs">GTF3C2</text>
<rect x="203.10" y="641.30" width="3.50" height="2.00" fill="#c6c6c6" stroke="#4a4a4a" stroke-width="0.55"/>
<text x="197.3" y="646.8" font-size="3.6" fill="#2a2a2a" textLength="17.5" lengthAdjust="spacingAndGlyphs">KRTCAP3</text>
<rect x="217.27" y="644.06" width="0.85" height="2.88" fill="#444"/>
<text x="220.0" y="643.6" font-size="3.6" fill="#2a2a2a" textLength="17.0" lengthAdjust="spacingAndGlyphs">CCDC121</text>
<rect x="240.07" y="640.86" width="0.85" height="2.88" fill="#444"/>
<text x="240.5" y="646.8" font-size="3.6" fill="#2a2a2a" textLength="14.6" lengthAdjust="spacingAndGlyphs">MRPL33</text>
<rect x="258.18" y="644.06" width="0.85" height="2.88" fill="#444"/>
<text x="246.3" y="640.4" font-size="3.6" fill="#2a2a2a" textLength="9.9" lengthAdjust="spacingAndGlyphs">RBKS</text>
<rect x="259.30" y="638.20" width="13.10" height="2.00" fill="#c6c6c6" stroke="#4a4a4a" stroke-width="0.55"/>
<text x="252.7" y="636.8" font-size="3.6" fill="#2a2a2a" textLength="16.6" lengthAdjust="spacingAndGlyphs">BRE-AS1</text>
<text x="261.8" y="633.7" font-size="3.6" fill="#2a2a2a" textLength="7.5" lengthAdjust="spacingAndGlyphs">BRE</text>
<rect x="273.00" y="631.48" width="55.80" height="2.24" fill="#c6c6c6" stroke="#4a4a4a" stroke-width="0.55"/>
<rect x="272.57" y="632.50" width="0.85" height="6.00" fill="#444"/>
<text x="268.0" y="643.6" font-size="3.6" fill="#2a2a2a" textLength="14.9" lengthAdjust="spacingAndGlyphs">MIR4263</text>
<rect x="285.57" y="640.86" width="0.85" height="2.88" fill="#444"/>
<text x="320.1" y="640.2" font-size="3.6" fill="#2a2a2a" textLength="11.8" lengthAdjust="spacingAndGlyphs">FOSL2</text>
<rect x="335.00" y="638.02" width="2.50" height="1.76" fill="#c6c6c6" stroke="#4a4a4a" stroke-width="0.55"/>
<text x="313.9" y="643.6" font-size="3.6" fill="#2a2a2a" textLength="17.4" lengthAdjust="spacingAndGlyphs">PLB1</text>
<rect x="333.80" y="641.42" width="1.20" height="1.76" fill="#c6c6c6" stroke="#4a4a4a" stroke-width="0.55"/>
<text x="295.3" y="647.1" font-size="3.6" fill="#2a2a2a" textLength="26.1" lengthAdjust="spacingAndGlyphs">LOC100505716</text>
<rect x="324.07" y="644.36" width="0.85" height="2.88" fill="#444"/>
<rect x="187.00" y="644.62" width="0.80" height="1.76" fill="#c6c6c6" stroke="#4a4a4a" stroke-width="0.55"/>
<text x="427.0" y="246.1" font-size="4.2" fill="#2a2a2a" textLength="12.3" lengthAdjust="spacingAndGlyphs">OTOF</text>
<rect x="442.20" y="243.58" width="12.60" height="2.24" fill="#c6c6c6" stroke="#4a4a4a" stroke-width="0.55"/>
<text x="420.0" y="249.6" font-size="4.2" fill="#2a2a2a" textLength="12.3" lengthAdjust="spacingAndGlyphs">ORC1</text>
<rect x="435.50" y="247.46" width="7.00" height="2.08" fill="#c6c6c6" stroke="#4a4a4a" stroke-width="0.55"/>
<text x="414.8" y="253.1" font-size="4.2" fill="#2a2a2a" textLength="9.9" lengthAdjust="spacingAndGlyphs">EFR3B</text>
<rect x="428.40" y="250.76" width="6.60" height="2.08" fill="#c6c6c6" stroke="#4a4a4a" stroke-width="0.55"/>
<text x="404.3" y="256.6" font-size="4.2" fill="#2a2a2a" textLength="16.9" lengthAdjust="spacingAndGlyphs">GPR113</text>
<rect x="424.50" y="254.06" width="4.30" height="2.08" fill="#c6c6c6" stroke="#4a4a4a" stroke-width="0.55"/>
<text x="397.8" y="260.1" font-size="4.2" fill="#2a2a2a" textLength="15.2" lengthAdjust="spacingAndGlyphs">HADHB</text>
<rect x="416.30" y="257.64" width="6.30" height="1.92" fill="#c6c6c6" stroke="#4a4a4a" stroke-width="0.55"/>
<text x="391.4" y="263.6" font-size="4.2" fill="#2a2a2a" textLength="15.8" lengthAdjust="spacingAndGlyphs">HADHA</text>
<rect x="410.10" y="261.26" width="6.70" height="2.08" fill="#c6c6c6" stroke="#4a4a4a" stroke-width="0.55"/>
<text x="444.6" y="260.1" font-size="4.2" fill="#2a2a2a" textLength="8.7" lengthAdjust="spacingAndGlyphs">CIB4</text>
<rect x="457.30" y="257.64" width="7.70" height="1.92" fill="#c6c6c6" stroke="#4a4a4a" stroke-width="0.55"/>
<text x="436.4" y="263.6" font-size="4.2" fill="#2a2a2a" textLength="15.8" lengthAdjust="spacingAndGlyphs">C2orf70</text>
<rect x="455.00" y="261.14" width="1.50" height="1.92" fill="#c6c6c6" stroke="#4a4a4a" stroke-width="0.55"/>
<text x="453.3" y="256.4" font-size="4.2" fill="#2a2a2a" textLength="13.4" lengthAdjust="spacingAndGlyphs">KCNK3</text>
<rect x="471.40" y="253.94" width="4.00" height="1.92" fill="#c6c6c6" stroke="#4a4a4a" stroke-width="0.55"/>
<text x="457.9" y="253.1" font-size="4.2" fill="#2a2a2a" textLength="12.1" lengthAdjust="spacingAndGlyphs">SLC30A3</text>
<text x="508.7" y="210.3" font-size="4.2" fill="#4a90c8" textLength="15.2" lengthAdjust="spacingAndGlyphs">ZNF513</text>
<rect x="526.98" y="207.12" width="0.85" height="3.36" fill="#444"/>
<text x="510.5" y="213.2" font-size="4.2" fill="#2a2a2a" textLength="12.2" lengthAdjust="spacingAndGlyphs">TCF23</text>
<rect x="525.28" y="210.22" width="0.85" height="3.36" fill="#444"/>
<text x="508.1" y="216.7" font-size="4.2" fill="#2a2a2a" textLength="13.5" lengthAdjust="spacingAndGlyphs">PREB</text>
<rect x="524.38" y="213.62" width="0.85" height="3.36" fill="#444"/>
<text x="509.3" y="220.2" font-size="4.2" fill="#2a2a2a" textLength="11.1" lengthAdjust="spacingAndGlyphs">PPM1B</text>
<rect x="523.48" y="217.02" width="0.85" height="3.36" fill="#444"/>
<text x="506.4" y="224.3" font-size="4.2" fill="#2a2a2a" textLength="12.8" lengthAdjust="spacingAndGlyphs">ABHD1</text>
<rect x="522.18" y="221.12" width="0.85" height="3.36" fill="#444"/>
<text x="499.4" y="227.8" font-size="4.2" fill="#2a2a2a" textLength="17.5" lengthAdjust="spacingAndGlyphs">CGREF1</text>
<rect x="520.40" y="225.70" width="2.30" height="1.60" fill="#c6c6c6" stroke="#4a4a4a" stroke-width="0.55"/>
<text x="507.0" y="231.6" font-size="4.2" fill="#2a2a2a" textLength="8.7" lengthAdjust="spacingAndGlyphs">KHK</text>
<rect x="518.60" y="229.20" width="1.80" height="1.60" fill="#c6c6c6" stroke="#4a4a4a" stroke-width="0.55"/>
<text x="497.6" y="235.1" font-size="4.2" fill="#2a2a2a" textLength="16.4" lengthAdjust="spacingAndGlyphs">EMILIN1</text>
<rect x="517.68" y="231.92" width="0.85" height="3.36" fill="#444"/>
<text x="503.5" y="238.6" font-size="4.2" fill="#2a2a2a" textLength="9.9" lengthAdjust="spacingAndGlyphs">OST4</text>
<rect x="516.48" y="235.42" width="0.85" height="3.36" fill="#444"/>
<text x="497.6" y="242.4" font-size="4.2" fill="#2a2a2a" textLength="14.0" lengthAdjust="spacingAndGlyphs">AGBL5</text>
<rect x="514.60" y="240.10" width="1.70" height="1.60" fill="#c6c6c6" stroke="#4a4a4a" stroke-width="0.55"/>
<text x="488.3" y="245.9" font-size="4.2" fill="#4a90c8" textLength="15.2" lengthAdjust="spacingAndGlyphs">SLC5A6</text>
<text x="488.3" y="249.1" font-size="4.2" fill="#4a90c8" textLength="15.2" lengthAdjust="spacingAndGlyphs">ATRAID</text>
<rect x="507.18" y="243.90" width="0.85" height="5.00" fill="#444"/>
<text x="457.9" y="252.9" font-size="4.2" fill="#2a2a2a" textLength="18.7" lengthAdjust="spacingAndGlyphs">SLC35F6</text>
<rect x="479.50" y="250.60" width="1.80" height="1.60" fill="#c6c6c6" stroke="#4a4a4a" stroke-width="0.55"/>
<text x="486.5" y="252.9" font-size="4.2" fill="#2a2a2a" textLength="24.6" lengthAdjust="spacingAndGlyphs">AGBL5-AS1</text>
<rect x="514.18" y="249.72" width="0.85" height="3.36" fill="#444"/>
<text x="455.0" y="256.4" font-size="4.2" fill="#2a2a2a" textLength="11.7" lengthAdjust="spacingAndGlyphs">KCNK3</text>
<text x="483.6" y="256.4" font-size="4.2" fill="#2a2a2a" textLength="17.5" lengthAdjust="spacingAndGlyphs">MAPRE3</text>
<rect x="504.60" y="253.94" width="7.00" height="1.92" fill="#c6c6c6" stroke="#4a4a4a" stroke-width="0.55"/>
<text x="464.9" y="259.9" font-size="4.2" fill="#2a2a2a" textLength="14.0" lengthAdjust="spacingAndGlyphs">CENPA</text>
<rect x="481.90" y="257.52" width="1.70" height="1.76" fill="#c6c6c6" stroke="#4a4a4a" stroke-width="0.55"/>
<text x="490.0" y="260.5" font-size="4.2" fill="#2a2a2a" textLength="19.9" lengthAdjust="spacingAndGlyphs">TMEM214</text>
<rect x="512.38" y="257.32" width="0.85" height="3.36" fill="#444"/>
<text x="470.2" y="264.0" font-size="4.2" fill="#2a2a2a" textLength="16.3" lengthAdjust="spacingAndGlyphs">DPYSL5</text>
<rect x="490.00" y="261.46" width="11.70" height="2.08" fill="#c6c6c6" stroke="#4a4a4a" stroke-width="0.55"/>
<text x="520.0" y="264.0" font-size="4.2" fill="#3aaa5c" textLength="12.8" lengthAdjust="spacingAndGlyphs">NRBP1</text>
<rect x="533.85" y="261.46" width="0.50" height="2.07" fill="#7cc99a"/>
<circle cx="535.2" cy="262.5" r="0.75" fill="#2e9a7a"/>
<text x="528.2" y="221.1" font-size="4.2" fill="#2a2a2a" textLength="16.9" lengthAdjust="spacingAndGlyphs">GTF3C2</text>
<rect x="548.00" y="218.72" width="3.80" height="1.76" fill="#c6c6c6" stroke="#4a4a4a" stroke-width="0.55"/>
<text x="536.4" y="224.3" font-size="4.2" fill="#2a2a2a" textLength="14.6" lengthAdjust="spacingAndGlyphs">SNX17</text>
<rect x="553.48" y="221.12" width="0.85" height="3.36" fill="#444"/>
<text x="537.5" y="228.1" font-size="4.2" fill="#2a2a2a" textLength="16.4" lengthAdjust="spacingAndGlyphs">FTH1P3</text>
<rect x="555.78" y="224.92" width="0.85" height="3.36" fill="#444"/>
<text x="528.8" y="231.9" font-size="4.2" fill="#2a2a2a" textLength="14.6" lengthAdjust="spacingAndGlyphs">MPV17</text>
<rect x="546.30" y="229.60" width="1.70" height="1.60" fill="#c6c6c6" stroke="#4a4a4a" stroke-width="0.55"/>
<text x="535.2" y="235.6" font-size="4.2" fill="#2a2a2a" textLength="15.2" lengthAdjust="spacingAndGlyphs">EIF2B4</text>
<rect x="552.88" y="232.42" width="0.85" height="3.36" fill="#444"/>
<text x="524.7" y="238.6" font-size="4.2" fill="#2a2a2a" textLength="14.6" lengthAdjust="spacingAndGlyphs">TRIM54</text>
<rect x="542.80" y="236.30" width="2.30" height="1.60" fill="#c6c6c6" stroke="#4a4a4a" stroke-width="0.55"/>
<text x="520.0" y="242.4" font-size="4.2" fill="#2a2a2a" textLength="18.7" lengthAdjust="spacingAndGlyphs">DNAJC5G</text>
<rect x="541.78" y="239.22" width="0.85" height="3.36" fill="#444"/>
<text x="520.0" y="245.6" font-size="4.2" fill="#2a2a2a" textLength="15.8" lengthAdjust="spacingAndGlyphs">SLC30A3</text>
<rect x="538.88" y="242.42" width="0.85" height="3.36" fill="#444"/>
<text x="520.0" y="249.4" font-size="4.2" fill="#2a2a2a" textLength="11.7" lengthAdjust="spacingAndGlyphs">CAD</text>
<rect x="534.60" y="247.10" width="3.50" height="1.60" fill="#c6c6c6" stroke="#4a4a4a" stroke-width="0.55"/>
<text x="537.5" y="249.4" font-size="4.2" fill="#2a2a2a" textLength="14.0" lengthAdjust="spacingAndGlyphs">GPN3</text>
<rect x="554.50" y="247.02" width="4.00" height="1.76" fill="#c6c6c6" stroke="#4a4a4a" stroke-width="0.55"/>
<text x="545.1" y="252.9" font-size="4.2" fill="#2a2a2a" textLength="12.3" lengthAdjust="spacingAndGlyphs">IFT172</text>
<rect x="562.00" y="250.40" width="5.90" height="2.00" fill="#c6c6c6" stroke="#4a4a4a" stroke-width="0.55"/>
<text x="532.8" y="256.4" font-size="4.2" fill="#2a2a2a" textLength="11.1" lengthAdjust="spacingAndGlyphs">UCN</text>
<rect x="545.88" y="253.22" width="0.85" height="3.36" fill="#444"/>
<text x="550.4" y="256.4" font-size="4.2" fill="#2a2a2a" textLength="14.6" lengthAdjust="spacingAndGlyphs">FNDC4</text>
<rect x="567.48" y="253.22" width="0.85" height="3.36" fill="#444"/>
<text x="520.0" y="259.9" font-size="4.2" fill="#2a2a2a" textLength="26.3" lengthAdjust="spacingAndGlyphs">GTF3C2-AS1</text>
<rect x="548.78" y="256.72" width="0.85" height="3.36" fill="#444"/>
<text x="538.7" y="264.0" font-size="4.2" fill="#2a2a2a" textLength="19.8" lengthAdjust="spacingAndGlyphs">KRTCAP3</text>
<rect x="562.18" y="260.82" width="0.85" height="3.36" fill="#444"/>
<text x="553.3" y="217.3" font-size="4.2" fill="#2a2a2a" textLength="12.2" lengthAdjust="spacingAndGlyphs">GCKR</text>
<rect x="568.50" y="215.12" width="4.10" height="1.76" fill="#c6c6c6" stroke="#4a4a4a" stroke-width="0.55"/>
<text x="563.8" y="231.9" font-size="4.2" fill="#2a2a2a" textLength="21.6" lengthAdjust="spacingAndGlyphs">SLC4A1AP</text>
<rect x="588.90" y="229.52" width="4.10" height="1.76" fill="#c6c6c6" stroke="#4a4a4a" stroke-width="0.55"/>
<text x="570.2" y="235.4" font-size="4.2" fill="#2a2a2a" textLength="11.1" lengthAdjust="spacingAndGlyphs">GPN1</text>
<rect x="584.80" y="233.10" width="2.90" height="1.60" fill="#c6c6c6" stroke="#4a4a4a" stroke-width="0.55"/>
<text x="560.9" y="238.9" font-size="4.2" fill="#2a2a2a" textLength="16.9" lengthAdjust="spacingAndGlyphs">CCDC121</text>
<rect x="583.78" y="235.72" width="0.85" height="3.36" fill="#444"/>
<text x="559.7" y="242.4" font-size="4.2" fill="#2a2a2a" textLength="15.2" lengthAdjust="spacingAndGlyphs">ZNF512</text>
<rect x="579.00" y="240.02" width="5.20" height="1.76" fill="#c6c6c6" stroke="#4a4a4a" stroke-width="0.55"/>
<text x="559.7" y="245.9" font-size="4.2" fill="#2a2a2a" textLength="15.2" lengthAdjust="spacingAndGlyphs">C2orf16</text>
<rect x="578.58" y="242.72" width="0.85" height="3.36" fill="#444"/>
<text x="567.9" y="249.4" font-size="4.2" fill="#2a2a2a" textLength="16.3" lengthAdjust="spacingAndGlyphs">SUPT7L</text>
<rect x="587.70" y="247.10" width="1.80" height="1.60" fill="#c6c6c6" stroke="#4a4a4a" stroke-width="0.55"/>
<text x="581.5" y="263.3" font-size="4.2" fill="#2a2a2a" textLength="17.7" lengthAdjust="spacingAndGlyphs">MRPL33</text>
<rect x="602.28" y="260.12" width="0.85" height="3.36" fill="#444"/>
<text x="608.4" y="249.5" font-size="4.2" fill="#2a2a2a" textLength="18.4" lengthAdjust="spacingAndGlyphs">MIR4263</text>
<rect x="628.98" y="246.32" width="0.85" height="3.36" fill="#444"/>
<text x="604.5" y="252.6" font-size="4.2" fill="#2a2a2a" textLength="8.5" lengthAdjust="spacingAndGlyphs">BRE</text>
<rect x="616.80" y="250.96" width="55.20" height="2.08" fill="#c6c6c6" stroke="#4a4a4a" stroke-width="0.55"/>
<text x="593.0" y="256.4" font-size="4.2" fill="#2a2a2a" textLength="20.0" lengthAdjust="spacingAndGlyphs">BRE-AS1</text>
<text x="588.4" y="259.5" font-size="4.2" fill="#2a2a2a" textLength="11.6" lengthAdjust="spacingAndGlyphs">RBKS</text>
<rect x="603.00" y="257.76" width="13.80" height="2.08" fill="#c6c6c6" stroke="#4a4a4a" stroke-width="0.55"/>
<rect x="615.88" y="253.00" width="0.85" height="5.00" fill="#444"/>
<text x="661.2" y="256.4" font-size="4.2" fill="#2a2a2a" textLength="13.8" lengthAdjust="spacingAndGlyphs">FOSL2</text>
<rect x="678.10" y="254.02" width="2.80" height="1.76" fill="#c6c6c6" stroke="#4a4a4a" stroke-width="0.55"/>
<text x="653.6" y="259.5" font-size="4.2" fill="#2a2a2a" textLength="19.9" lengthAdjust="spacingAndGlyphs">PLB1</text>
<rect x="676.50" y="257.12" width="1.00" height="1.76" fill="#c6c6c6" stroke="#4a4a4a" stroke-width="0.55"/>
<text x="632.9" y="263.3" font-size="4.2" fill="#2a2a2a" textLength="29.1" lengthAdjust="spacingAndGlyphs">LOC100505716</text>
<rect x="666.98" y="260.12" width="0.85" height="3.36" fill="#444"/>
<text x="402.2" y="455.7" font-size="3.55" fill="#505050" textLength="8.6" lengthAdjust="spacingAndGlyphs">DTNB</text>
<rect x="414.10" y="453.52" width="24.30" height="1.76" fill="#c6c6c6" stroke="#4a4a4a" stroke-width="0.55"/>
<text x="431.8" y="452.6" font-size="3.55" fill="#505050" textLength="8.5" lengthAdjust="spacingAndGlyphs">NCOA1</text>
<rect x="444.30" y="450.42" width="10.50" height="1.76" fill="#c6c6c6" stroke="#4a4a4a" stroke-width="0.55"/>
<text x="446.9" y="450.5" font-size="3.55" fill="#505050" textLength="9.2" lengthAdjust="spacingAndGlyphs">ADCY3</text>
<text x="459.4" y="448.2" font-size="3.55" fill="#3aaa5c" textLength="12.5" lengthAdjust="spacingAndGlyphs">SELENOI</text>
<rect x="459.40" y="448.96" width="4.60" height="1.28" fill="#c6c6c6" stroke="#4a4a4a" stroke-width="0.55"/>
<rect x="476.05" y="446.10" width="0.50" height="1.80" fill="#7cc99a"/>
<circle cx="477.2" cy="447.0" r="0.75" fill="#2e9a7a"/>
<text x="463.3" y="452.8" font-size="3.55" fill="#505050" textLength="11.9" lengthAdjust="spacingAndGlyphs">CAMKMT</text>
<text x="455.4" y="455.7" font-size="3.55" fill="#505050" textLength="9.2" lengthAdjust="spacingAndGlyphs">RAB10</text>
<rect x="467.90" y="453.52" width="8.60" height="1.76" fill="#c6c6c6" stroke="#4a4a4a" stroke-width="0.55"/>
<text x="467.3" y="445.6" font-size="3.55" fill="#505050" textLength="9.2" lengthAdjust="spacingAndGlyphs">HADHB</text>
<text x="471.2" y="443.0" font-size="3.55" fill="#505050" textLength="11.2" lengthAdjust="spacingAndGlyphs">HADHA</text>
<rect x="481.10" y="443.60" width="3.90" height="1.60" fill="#c6c6c6" stroke="#4a4a4a" stroke-width="0.55"/>
<text x="475.3" y="450.5" font-size="3.55" fill="#505050" textLength="12.4" lengthAdjust="spacingAndGlyphs">GPR113</text>
<rect x="479.97" y="450.58" width="0.85" height="2.84" fill="#444"/>
<text x="487.1" y="438.4" font-size="3.55" fill="#505050" textLength="8.5" lengthAdjust="spacingAndGlyphs">ORC1</text>
<rect x="498.30" y="436.62" width="4.60" height="1.76" fill="#c6c6c6" stroke="#4a4a4a" stroke-width="0.55"/>
<text x="482.5" y="441.0" font-size="3.55" fill="#505050" textLength="8.5" lengthAdjust="spacingAndGlyphs">EFR3B</text>
<rect x="493.70" y="439.70" width="3.90" height="1.60" fill="#c6c6c6" stroke="#4a4a4a" stroke-width="0.55"/>
<text x="471.3" y="443.4" font-size="3.55" fill="#505050" textLength="10.5" lengthAdjust="spacingAndGlyphs">HADHB</text>
<rect x="485.80" y="442.12" width="3.90" height="1.76" fill="#c6c6c6" stroke="#4a4a4a" stroke-width="0.55"/>
<rect x="490.40" y="448.40" width="3.30" height="1.60" fill="#c6c6c6" stroke="#4a4a4a" stroke-width="0.55"/>
<text x="496.9" y="448.2" font-size="3.55" fill="#505050" textLength="12.5" lengthAdjust="spacingAndGlyphs">C2orf70</text>
<rect x="510.70" y="446.20" width="2.00" height="1.60" fill="#c6c6c6" stroke="#4a4a4a" stroke-width="0.55"/>
<text x="502.9" y="446.0" font-size="3.55" fill="#505050" textLength="7.2" lengthAdjust="spacingAndGlyphs">CIB4</text>
<rect x="513.40" y="443.90" width="4.60" height="1.60" fill="#c6c6c6" stroke="#4a4a4a" stroke-width="0.55"/>
<text x="516.0" y="443.4" font-size="3.55" fill="#505050" textLength="11.8" lengthAdjust="spacingAndGlyphs">CENPA</text>
<rect x="529.80" y="441.30" width="1.30" height="1.60" fill="#c6c6c6" stroke="#4a4a4a" stroke-width="0.55"/>
<text x="509.4" y="452.8" font-size="3.55" fill="#505050" textLength="9.9" lengthAdjust="spacingAndGlyphs">KCNK3</text>
<rect x="521.90" y="450.70" width="2.00" height="1.60" fill="#c6c6c6" stroke="#4a4a4a" stroke-width="0.55"/>
<text x="491.7" y="455.7" font-size="3.55" fill="#505050" textLength="8.5" lengthAdjust="spacingAndGlyphs">OTOF</text>
<rect x="502.90" y="453.52" width="8.50" height="1.76" fill="#c6c6c6" stroke="#4a4a4a" stroke-width="0.55"/>
<text x="519.9" y="455.7" font-size="3.55" fill="#505050" textLength="11.9" lengthAdjust="spacingAndGlyphs">DPYSL5</text>
<rect x="535.00" y="453.52" width="7.90" height="1.76" fill="#c6c6c6" stroke="#4a4a4a" stroke-width="0.55"/>
<text x="513.4" y="450.5" font-size="3.55" fill="#505050" textLength="11.1" lengthAdjust="spacingAndGlyphs">SLC35F6</text>
<rect x="528.08" y="447.78" width="0.85" height="2.84" fill="#444"/>
<text x="529.1" y="448.2" font-size="3.55" fill="#505050" textLength="13.2" lengthAdjust="spacingAndGlyphs">MAPRE3</text>
<rect x="545.60" y="446.02" width="3.90" height="1.76" fill="#c6c6c6" stroke="#4a4a4a" stroke-width="0.55"/>
<text x="531.1" y="452.8" font-size="3.55" fill="#505050" textLength="15.1" lengthAdjust="spacingAndGlyphs">AGBL5-AS1</text>
<rect x="551.08" y="450.08" width="0.85" height="2.84" fill="#444"/>
<text x="533.1" y="445.6" font-size="3.55" fill="#3aaa5c" textLength="10.5" lengthAdjust="spacingAndGlyphs">ATRAID</text>
<rect x="546.55" y="443.40" width="0.50" height="1.80" fill="#7cc99a"/>
<circle cx="547.6" cy="444.3" r="0.75" fill="#2e9a7a"/>
<text x="533.1" y="441.0" font-size="3.55" fill="#505050" textLength="14.4" lengthAdjust="spacingAndGlyphs">TMEM214</text>
<text x="538.3" y="438.1" font-size="3.55" fill="#505050" textLength="10.5" lengthAdjust="spacingAndGlyphs">AGBL5</text>
<text x="538.3" y="433.8" font-size="3.55" fill="#505050" textLength="11.2" lengthAdjust="spacingAndGlyphs">EMILIN1</text>
<text x="541.6" y="431.2" font-size="3.55" fill="#505050" textLength="7.2" lengthAdjust="spacingAndGlyphs">KHK</text>
<text x="539.6" y="428.9" font-size="3.55" fill="#505050" textLength="11.2" lengthAdjust="spacingAndGlyphs">CGREF1</text>
<text x="550.2" y="450.5" font-size="3.55" fill="#505050" textLength="9.8" lengthAdjust="spacingAndGlyphs">SLC5A6</text>
<rect x="551.50" y="436.20" width="1.90" height="1.60" fill="#c6c6c6" stroke="#4a4a4a" stroke-width="0.55"/>
<text x="569.0" y="400.6" font-size="3.55" fill="#4a90c8" textLength="9.2" lengthAdjust="spacingAndGlyphs">GPN1</text>
<rect x="580.38" y="398.08" width="0.85" height="2.84" fill="#444"/>
<text x="565.0" y="402.7" font-size="3.55" fill="#505050" textLength="10.2" lengthAdjust="spacingAndGlyphs">ZNF513</text>
<rect x="579.80" y="401.00" width="1.40" height="1.60" fill="#c6c6c6" stroke="#4a4a4a" stroke-width="0.55"/>
<text x="565.0" y="404.9" font-size="3.55" fill="#505050" textLength="9.2" lengthAdjust="spacingAndGlyphs">TCF23</text>
<text x="564.0" y="407.0" font-size="3.55" fill="#505050" textLength="9.2" lengthAdjust="spacingAndGlyphs">PREB</text>
<text x="556.8" y="409.2" font-size="3.55" fill="#505050" textLength="10.2" lengthAdjust="spacingAndGlyphs">PPM1B</text>
<text x="552.7" y="411.6" font-size="3.55" fill="#505050" textLength="14.3" lengthAdjust="spacingAndGlyphs">ABHD1</text>
<rect x="570.68" y="408.88" width="0.85" height="2.84" fill="#444"/>
<text x="556.3" y="414.9" font-size="3.55" fill="#3aaa5c" textLength="10.7" lengthAdjust="spacingAndGlyphs">IFT172</text>
<rect x="569.65" y="412.70" width="0.50" height="1.80" fill="#7cc99a"/>
<circle cx="570.8" cy="413.6" r="0.75" fill="#2e9a7a"/>
<text x="551.7" y="417.2" font-size="3.55" fill="#505050" textLength="10.2" lengthAdjust="spacingAndGlyphs">SLC30A3</text>
<text x="549.6" y="419.7" font-size="3.55" fill="#505050" textLength="11.3" lengthAdjust="spacingAndGlyphs">DNAJC5G</text>
<rect x="566.00" y="417.60" width="1.20" height="1.60" fill="#c6c6c6" stroke="#4a4a4a" stroke-width="0.55"/>
<text x="547.6" y="421.8" font-size="3.55" fill="#505050" textLength="10.2" lengthAdjust="spacingAndGlyphs">TRIM54</text>
<text x="545.5" y="424.1" font-size="3.55" fill="#505050" textLength="11.3" lengthAdjust="spacingAndGlyphs">MPV17</text>
<text x="545.5" y="426.4" font-size="3.55" fill="#505050" textLength="10.3" lengthAdjust="spacingAndGlyphs">CAD</text>
<text x="540.4" y="428.9" font-size="3.55" fill="#505050" textLength="12.3" lengthAdjust="spacingAndGlyphs">EMILIN1</text>
<rect x="555.30" y="426.80" width="1.20" height="1.60" fill="#c6c6c6" stroke="#4a4a4a" stroke-width="0.55"/>
<text x="544.5" y="431.5" font-size="3.55" fill="#505050" textLength="6.2" lengthAdjust="spacingAndGlyphs">OST4</text>
<text x="538.4" y="433.7" font-size="3.55" fill="#505050" textLength="12.3" lengthAdjust="spacingAndGlyphs">AGBL5</text>
<text x="542.5" y="436.1" font-size="3.55" fill="#505050" textLength="6.1" lengthAdjust="spacingAndGlyphs">KHK</text>
<text x="541.5" y="438.1" font-size="3.55" fill="#505050" textLength="6.1" lengthAdjust="spacingAndGlyphs">ABHD1</text>
<text x="533.3" y="440.7" font-size="3.55" fill="#505050" textLength="13.3" lengthAdjust="spacingAndGlyphs">TMEM214</text>
<rect x="579.08" y="402.25" width="0.85" height="2.50" fill="#444"/>
<rect x="577.88" y="404.55" width="0.85" height="2.50" fill="#444"/>
<rect x="576.58" y="406.75" width="0.85" height="2.50" fill="#444"/>
<rect x="573.08" y="410.25" width="0.85" height="2.50" fill="#444"/>
<rect x="568.58" y="414.75" width="0.85" height="2.50" fill="#444"/>
<rect x="567.08" y="417.25" width="0.85" height="2.50" fill="#444"/>
<rect x="563.08" y="419.55" width="0.85" height="2.50" fill="#444"/>
<rect x="561.58" y="421.75" width="0.85" height="2.50" fill="#444"/>
<rect x="560.08" y="424.05" width="0.85" height="2.50" fill="#444"/>
<rect x="556.58" y="428.75" width="0.85" height="2.50" fill="#444"/>
<rect x="555.08" y="431.25" width="0.85" height="2.50" fill="#444"/>
<rect x="553.88" y="433.55" width="0.85" height="2.50" fill="#444"/>
<rect x="552.58" y="435.75" width="0.85" height="2.50" fill="#444"/>
<rect x="551.08" y="438.25" width="0.85" height="2.50" fill="#444"/>
<text x="566.1" y="423.9" font-size="3.55" fill="#505050" textLength="15.2" lengthAdjust="spacingAndGlyphs">KRTCAP3</text>
<rect x="583.18" y="421.18" width="0.85" height="2.84" fill="#444"/>
<text x="565.5" y="426.3" font-size="3.55" fill="#505050" textLength="14.0" lengthAdjust="spacingAndGlyphs">FTH1P3</text>
<rect x="579.68" y="423.58" width="0.85" height="2.84" fill="#444"/>
<text x="563.2" y="431.7" font-size="3.55" fill="#505050" textLength="7.0" lengthAdjust="spacingAndGlyphs">UCN</text>
<rect x="572.08" y="428.98" width="0.85" height="2.84" fill="#444"/>
<text x="583.0" y="431.2" font-size="3.55" fill="#505050" textLength="15.8" lengthAdjust="spacingAndGlyphs">SLC4A1AP</text>
<rect x="602.30" y="429.20" width="2.30" height="1.60" fill="#c6c6c6" stroke="#4a4a4a" stroke-width="0.55"/>
<text x="581.3" y="434.1" font-size="3.55" fill="#505050" textLength="14.6" lengthAdjust="spacingAndGlyphs">CCDC121</text>
<rect x="598.98" y="431.38" width="0.85" height="2.84" fill="#444"/>
<text x="555.0" y="436.4" font-size="3.55" fill="#505050" textLength="19.3" lengthAdjust="spacingAndGlyphs">GTF3C2-AS1</text>
<rect x="574.98" y="433.68" width="0.85" height="2.84" fill="#444"/>
<text x="565.5" y="439.1" font-size="3.55" fill="#505050" textLength="9.4" lengthAdjust="spacingAndGlyphs">SNX17</text>
<rect x="577.38" y="435.58" width="0.85" height="2.84" fill="#444"/>
<text x="576.0" y="441.1" font-size="3.55" fill="#505050" textLength="9.4" lengthAdjust="spacingAndGlyphs">GPN1</text>
<rect x="588.30" y="438.88" width="1.70" height="2.24" fill="#c6c6c6" stroke="#4a4a4a" stroke-width="0.55"/>
<text x="574.3" y="443.1" font-size="3.55" fill="#505050" textLength="11.1" lengthAdjust="spacingAndGlyphs">ZNF512</text>
<text x="559.1" y="445.4" font-size="3.55" fill="#505050" textLength="11.7" lengthAdjust="spacingAndGlyphs">GTF3C2</text>
<rect x="574.30" y="443.20" width="2.30" height="1.60" fill="#c6c6c6" stroke="#4a4a4a" stroke-width="0.55"/>
<text x="569.0" y="447.7" font-size="3.55" fill="#505050" textLength="10.5" lengthAdjust="spacingAndGlyphs">EIF2B4</text>
<rect x="582.58" y="444.78" width="0.85" height="2.84" fill="#444"/>
<text x="580.7" y="450.4" font-size="3.55" fill="#505050" textLength="11.7" lengthAdjust="spacingAndGlyphs">DNAJC5G</text>
<text x="580.7" y="452.8" font-size="3.55" fill="#505050" textLength="12.8" lengthAdjust="spacingAndGlyphs">C2orf16</text>
<rect x="594.88" y="450.08" width="0.85" height="2.84" fill="#444"/>
<text x="586.0" y="455.4" font-size="3.55" fill="#505050" textLength="12.2" lengthAdjust="spacingAndGlyphs">SUPT7L</text>
<rect x="601.10" y="453.20" width="1.20" height="1.60" fill="#c6c6c6" stroke="#4a4a4a" stroke-width="0.55"/>
<text x="559.1" y="455.4" font-size="3.55" fill="#505050" textLength="11.1" lengthAdjust="spacingAndGlyphs">MPV17</text>
<rect x="573.10" y="453.20" width="1.20" height="1.60" fill="#c6c6c6" stroke="#4a4a4a" stroke-width="0.55"/>
<text x="555.0" y="450.8" font-size="3.55" fill="#505050" textLength="7.0" lengthAdjust="spacingAndGlyphs">SLC30A3</text>
<rect x="563.80" y="448.70" width="1.00" height="1.60" fill="#c6c6c6" stroke="#4a4a4a" stroke-width="0.55"/>
<text x="611.1" y="440.5" font-size="3.55" fill="#505050" textLength="5.8" lengthAdjust="spacingAndGlyphs">BRE</text>
<text x="602.9" y="442.8" font-size="3.55" fill="#505050" textLength="14.0" lengthAdjust="spacingAndGlyphs">BRE-AS1</text>
<text x="600.5" y="445.4" font-size="3.55" fill="#505050" textLength="8.2" lengthAdjust="spacingAndGlyphs">RBKS</text>
<rect x="611.60" y="444.04" width="8.80" height="1.92" fill="#c6c6c6" stroke="#4a4a4a" stroke-width="0.55"/>
<text x="595.3" y="448.1" font-size="3.55" fill="#505050" textLength="13.4" lengthAdjust="spacingAndGlyphs">MRPL33</text>
<rect x="611.18" y="445.58" width="0.85" height="2.84" fill="#444"/>
<rect x="620.40" y="439.24" width="37.10" height="1.92" fill="#c6c6c6" stroke="#4a4a4a" stroke-width="0.55"/>
<rect x="619.98" y="440.50" width="0.85" height="5.00" fill="#444"/>
<text x="613.4" y="452.8" font-size="3.55" fill="#505050" textLength="12.8" lengthAdjust="spacingAndGlyphs">MIR4263</text>
<rect x="629.28" y="450.08" width="0.85" height="2.84" fill="#444"/>
<text x="648.9" y="450.3" font-size="3.55" fill="#505050" textLength="10.0" lengthAdjust="spacingAndGlyphs">FOSL2</text>
<text x="644.7" y="453.1" font-size="3.55" fill="#505050" textLength="13.3" lengthAdjust="spacingAndGlyphs">PLB1</text>
<rect x="661.28" y="448.58" width="0.85" height="2.84" fill="#444"/>
<text x="629.0" y="455.0" font-size="3.55" fill="#505050" textLength="22.8" lengthAdjust="spacingAndGlyphs">LOC100505716</text>
<rect x="655.18" y="452.28" width="0.85" height="2.84" fill="#444"/>
<text x="659.8" y="447.9" font-size="3.55" fill="#505050" textLength="7.2" lengthAdjust="spacingAndGlyphs">PPP1CB</text>
<rect x="670.30" y="446.52" width="12.30" height="1.76" fill="#c6c6c6" stroke="#4a4a4a" stroke-width="0.55"/>
<rect x="662.78" y="447.25" width="0.85" height="3.50" fill="#444"/>
<text x="429.5" y="627.4" font-size="3.7" fill="#2a2a2a" textLength="11.0" lengthAdjust="spacingAndGlyphs">OTOF</text>
<rect x="444.60" y="625.36" width="12.30" height="2.08" fill="#c6c6c6" stroke="#4a4a4a" stroke-width="0.55"/>
<text x="422.4" y="630.9" font-size="3.7" fill="#2a2a2a" textLength="12.3" lengthAdjust="spacingAndGlyphs">ORC1</text>
<rect x="437.60" y="628.86" width="7.00" height="2.08" fill="#c6c6c6" stroke="#4a4a4a" stroke-width="0.55"/>
<text x="417.2" y="634.1" font-size="3.7" fill="#2a2a2a" textLength="9.3" lengthAdjust="spacingAndGlyphs">EFR3B</text>
<rect x="430.60" y="631.92" width="6.40" height="1.76" fill="#c6c6c6" stroke="#4a4a4a" stroke-width="0.55"/>
<text x="406.1" y="637.9" font-size="3.7" fill="#2a2a2a" textLength="16.9" lengthAdjust="spacingAndGlyphs">GPR113</text>
<rect x="426.50" y="635.76" width="4.10" height="2.08" fill="#c6c6c6" stroke="#4a4a4a" stroke-width="0.55"/>
<text x="399.7" y="641.4" font-size="3.7" fill="#2a2a2a" textLength="14.6" lengthAdjust="spacingAndGlyphs">HADHB</text>
<rect x="418.40" y="639.26" width="5.60" height="2.08" fill="#c6c6c6" stroke="#4a4a4a" stroke-width="0.55"/>
<text x="395.0" y="644.9" font-size="3.7" fill="#2a2a2a" textLength="12.8" lengthAdjust="spacingAndGlyphs">HADHA</text>
<rect x="411.40" y="642.76" width="6.40" height="2.08" fill="#c6c6c6" stroke="#4a4a4a" stroke-width="0.55"/>
<text x="447.0" y="641.4" font-size="3.7" fill="#2a2a2a" textLength="9.3" lengthAdjust="spacingAndGlyphs">CIB4</text>
<rect x="459.80" y="639.14" width="7.60" height="1.92" fill="#c6c6c6" stroke="#4a4a4a" stroke-width="0.55"/>
<text x="438.8" y="644.9" font-size="3.7" fill="#2a2a2a" textLength="16.9" lengthAdjust="spacingAndGlyphs">C2orf70</text>
<rect x="457.50" y="642.64" width="1.70" height="1.92" fill="#c6c6c6" stroke="#4a4a4a" stroke-width="0.55"/>
<text x="456.3" y="637.9" font-size="3.7" fill="#2a2a2a" textLength="14.6" lengthAdjust="spacingAndGlyphs">KCNK3</text>
<rect x="473.70" y="635.36" width="4.70" height="2.08" fill="#c6c6c6" stroke="#4a4a4a" stroke-width="0.55"/>
<text x="461.0" y="634.3" font-size="3.7" fill="#2a2a2a" textLength="18.5" lengthAdjust="spacingAndGlyphs">SLC35F6</text>
<rect x="482.40" y="632.02" width="1.80" height="1.76" fill="#c6c6c6" stroke="#4a4a4a" stroke-width="0.55"/>
<text x="512.2" y="591.6" font-size="3.7" fill="#3aaa5c" textLength="15.8" lengthAdjust="spacingAndGlyphs">ZNF513</text>
<rect x="531.05" y="589.26" width="0.50" height="2.07" fill="#7cc99a"/>
<circle cx="532.2" cy="590.3" r="0.75" fill="#2e9a7a"/>
<text x="513.4" y="594.7" font-size="3.7" fill="#2a2a2a" textLength="12.8" lengthAdjust="spacingAndGlyphs">TCF23</text>
<rect x="529.28" y="593.30" width="0.85" height="3.00" fill="#444"/>
<text x="511.1" y="598.0" font-size="3.7" fill="#2a2a2a" textLength="14.6" lengthAdjust="spacingAndGlyphs">PREB</text>
<rect x="528.58" y="596.32" width="0.85" height="2.96" fill="#444"/>
<text x="513.4" y="601.3" font-size="3.7" fill="#2a2a2a" textLength="11.7" lengthAdjust="spacingAndGlyphs">PPM1B</text>
<rect x="527.88" y="599.12" width="0.85" height="2.96" fill="#444"/>
<text x="508.7" y="605.0" font-size="3.7" fill="#2a2a2a" textLength="15.2" lengthAdjust="spacingAndGlyphs">ABHD1</text>
<rect x="526.98" y="602.22" width="0.85" height="2.96" fill="#444"/>
<text x="502.9" y="609.1" font-size="3.7" fill="#2a2a2a" textLength="18.1" lengthAdjust="spacingAndGlyphs">CGREF1</text>
<rect x="523.90" y="607.20" width="2.30" height="1.60" fill="#c6c6c6" stroke="#4a4a4a" stroke-width="0.55"/>
<text x="509.9" y="612.9" font-size="3.7" fill="#2a2a2a" textLength="8.7" lengthAdjust="spacingAndGlyphs">KHK</text>
<rect x="522.70" y="610.80" width="1.80" height="1.60" fill="#c6c6c6" stroke="#4a4a4a" stroke-width="0.55"/>
<text x="501.1" y="616.4" font-size="3.7" fill="#2a2a2a" textLength="17.0" lengthAdjust="spacingAndGlyphs">EMILIN1</text>
<rect x="521.18" y="613.62" width="0.85" height="2.96" fill="#444"/>
<text x="505.8" y="620.2" font-size="3.7" fill="#2a2a2a" textLength="11.1" lengthAdjust="spacingAndGlyphs">OST4</text>
<rect x="519.98" y="617.42" width="0.85" height="2.96" fill="#444"/>
<text x="500.5" y="623.7" font-size="3.7" fill="#3aaa5c" textLength="15.2" lengthAdjust="spacingAndGlyphs">TRIM54</text>
<rect x="518.65" y="621.37" width="0.50" height="2.07" fill="#7cc99a"/>
<circle cx="520.7" cy="622.4" r="0.75" fill="#2e9a7a"/>
<text x="501.1" y="627.2" font-size="3.7" fill="#2a2a2a" textLength="14.0" lengthAdjust="spacingAndGlyphs">AGBL5</text>
<rect x="518.10" y="625.10" width="2.30" height="1.60" fill="#c6c6c6" stroke="#4a4a4a" stroke-width="0.55"/>
<text x="491.8" y="630.9" font-size="3.7" fill="#4a90c8" textLength="15.8" lengthAdjust="spacingAndGlyphs">ATRAID</text>
<rect x="510.07" y="628.12" width="0.85" height="2.96" fill="#444"/>
<text x="490.0" y="634.2" font-size="3.7" fill="#2a2a2a" textLength="24.6" lengthAdjust="spacingAndGlyphs">AGBL5-AS1</text>
<rect x="517.68" y="631.42" width="0.85" height="2.96" fill="#444"/>
<text x="486.5" y="637.7" font-size="3.7" fill="#2a2a2a" textLength="18.7" lengthAdjust="spacingAndGlyphs">MAPRE3</text>
<rect x="508.10" y="635.36" width="7.00" height="2.08" fill="#c6c6c6" stroke="#4a4a4a" stroke-width="0.55"/>
<text x="467.8" y="641.2" font-size="3.7" fill="#2a2a2a" textLength="14.1" lengthAdjust="spacingAndGlyphs">CENPA</text>
<rect x="484.80" y="639.02" width="1.10" height="1.76" fill="#c6c6c6" stroke="#4a4a4a" stroke-width="0.55"/>
<text x="493.0" y="641.2" font-size="3.7" fill="#2a2a2a" textLength="20.4" lengthAdjust="spacingAndGlyphs">TMEM214</text>
<rect x="515.88" y="638.42" width="0.85" height="2.96" fill="#444"/>
<text x="473.1" y="645.3" font-size="3.7" fill="#2a2a2a" textLength="16.9" lengthAdjust="spacingAndGlyphs">DPYSL5</text>
<rect x="493.00" y="642.96" width="12.80" height="2.08" fill="#c6c6c6" stroke="#4a4a4a" stroke-width="0.55"/>
<text x="557.4" y="598.6" font-size="3.7" fill="#2a2a2a" textLength="12.8" lengthAdjust="spacingAndGlyphs">GCKR</text>
<rect x="573.10" y="596.62" width="3.50" height="1.76" fill="#c6c6c6" stroke="#4a4a4a" stroke-width="0.55"/>
<text x="543.4" y="601.7" font-size="3.7" fill="#2a2a2a" textLength="21.0" lengthAdjust="spacingAndGlyphs">KRTCAP3</text>
<rect x="566.28" y="598.92" width="0.85" height="2.96" fill="#444"/>
<text x="541.0" y="605.6" font-size="3.7" fill="#2a2a2a" textLength="16.4" lengthAdjust="spacingAndGlyphs">FTH1P3</text>
<rect x="559.88" y="602.82" width="0.85" height="2.96" fill="#444"/>
<text x="540.4" y="609.4" font-size="3.7" fill="#2a2a2a" textLength="14.6" lengthAdjust="spacingAndGlyphs">SNX17</text>
<rect x="557.58" y="606.62" width="0.85" height="2.96" fill="#444"/>
<text x="532.3" y="612.9" font-size="3.7" fill="#2a2a2a" textLength="16.9" lengthAdjust="spacingAndGlyphs">GTF3C2</text>
<rect x="552.10" y="610.72" width="3.50" height="1.76" fill="#c6c6c6" stroke="#4a4a4a" stroke-width="0.55"/>
<text x="539.3" y="616.4" font-size="3.7" fill="#2a2a2a" textLength="14.6" lengthAdjust="spacingAndGlyphs">EIF2B4</text>
<rect x="556.98" y="613.62" width="0.85" height="2.96" fill="#444"/>
<text x="520.0" y="620.4" font-size="3.7" fill="#2a2a2a" textLength="19.3" lengthAdjust="spacingAndGlyphs">SLC30A3</text>
<rect x="543.48" y="617.62" width="0.85" height="2.96" fill="#444"/>
<text x="532.8" y="623.7" font-size="3.7" fill="#2a2a2a" textLength="14.1" lengthAdjust="spacingAndGlyphs">MPV17</text>
<rect x="550.40" y="621.52" width="1.10" height="1.76" fill="#c6c6c6" stroke="#4a4a4a" stroke-width="0.55"/>
<text x="520.0" y="627.2" font-size="3.7" fill="#2a2a2a" textLength="22.8" lengthAdjust="spacingAndGlyphs">DNAJC5G</text>
<rect x="545.88" y="624.42" width="0.85" height="2.96" fill="#444"/>
<text x="525.8" y="630.7" font-size="3.7" fill="#2a2a2a" textLength="9.4" lengthAdjust="spacingAndGlyphs">CAD</text>
<rect x="538.70" y="628.52" width="3.50" height="1.76" fill="#c6c6c6" stroke="#4a4a4a" stroke-width="0.55"/>
<text x="542.8" y="630.7" font-size="3.7" fill="#2a2a2a" textLength="13.4" lengthAdjust="spacingAndGlyphs">GPN3</text>
<rect x="559.10" y="628.52" width="3.50" height="1.76" fill="#c6c6c6" stroke="#4a4a4a" stroke-width="0.55"/>
<text x="546.9" y="634.2" font-size="3.7" fill="#2a2a2a" textLength="14.0" lengthAdjust="spacingAndGlyphs">NRBP1</text>
<rect x="565.00" y="632.02" width="1.70" height="1.76" fill="#c6c6c6" stroke="#4a4a4a" stroke-width="0.55"/>
<text x="536.9" y="637.5" font-size="3.7" fill="#2a2a2a" textLength="10.5" lengthAdjust="spacingAndGlyphs">UCN</text>
<rect x="549.38" y="634.72" width="0.85" height="2.96" fill="#444"/>
<text x="555.0" y="637.7" font-size="3.7" fill="#2a2a2a" textLength="15.2" lengthAdjust="spacingAndGlyphs">FNDC4</text>
<rect x="572.68" y="634.92" width="0.85" height="2.96" fill="#444"/>
<text x="522.3" y="641.0" font-size="3.7" fill="#2a2a2a" textLength="27.5" lengthAdjust="spacingAndGlyphs">GTF3C2-AS1</text>
<rect x="552.88" y="638.22" width="0.85" height="2.96" fill="#444"/>
<text x="517.5" y="645.3" font-size="3.7" fill="#2a2a2a" textLength="17.7" lengthAdjust="spacingAndGlyphs">SLC5A6</text>
<rect x="536.90" y="643.12" width="1.20" height="1.76" fill="#c6c6c6" stroke="#4a4a4a" stroke-width="0.55"/>
<text x="550.4" y="645.3" font-size="3.7" fill="#2a2a2a" textLength="13.4" lengthAdjust="spacingAndGlyphs">IFT172</text>
<rect x="566.70" y="642.96" width="5.90" height="2.08" fill="#c6c6c6" stroke="#4a4a4a" stroke-width="0.55"/>
<text x="567.9" y="616.4" font-size="3.7" fill="#2a2a2a" textLength="22.8" lengthAdjust="spacingAndGlyphs">SLC4A1AP</text>
<rect x="594.20" y="614.52" width="3.50" height="1.76" fill="#c6c6c6" stroke="#4a4a4a" stroke-width="0.55"/>
<text x="566.1" y="620.4" font-size="3.7" fill="#2a2a2a" textLength="18.1" lengthAdjust="spacingAndGlyphs">CCDC121</text>
<rect x="589.08" y="617.62" width="0.85" height="2.96" fill="#444"/>
<text x="565.0" y="623.9" font-size="3.7" fill="#2a2a2a" textLength="15.7" lengthAdjust="spacingAndGlyphs">ZNF512</text>
<rect x="584.20" y="621.64" width="5.30" height="1.92" fill="#c6c6c6" stroke="#4a4a4a" stroke-width="0.55"/>
<text x="564.4" y="627.4" font-size="3.7" fill="#2a2a2a" textLength="16.3" lengthAdjust="spacingAndGlyphs">C2orf16</text>
<rect x="583.18" y="624.62" width="0.85" height="2.96" fill="#444"/>
<text x="574.3" y="630.7" font-size="3.7" fill="#2a2a2a" textLength="11.7" lengthAdjust="spacingAndGlyphs">GPN1</text>
<rect x="589.50" y="628.52" width="2.90" height="1.76" fill="#c6c6c6" stroke="#4a4a4a" stroke-width="0.55"/>
<text x="573.1" y="634.2" font-size="3.7" fill="#2a2a2a" textLength="15.8" lengthAdjust="spacingAndGlyphs">SUPT7L</text>
<rect x="592.40" y="632.02" width="1.80" height="1.76" fill="#c6c6c6" stroke="#4a4a4a" stroke-width="0.55"/>
<text x="610.1" y="630.4" font-size="3.7" fill="#2a2a2a" textLength="9.0" lengthAdjust="spacingAndGlyphs">BRE</text>
<rect x="622.30" y="628.68" width="55.40" height="2.24" fill="#c6c6c6" stroke="#4a4a4a" stroke-width="0.55"/>
<text x="614.3" y="634.2" font-size="3.7" fill="#2a2a2a" textLength="18.0" lengthAdjust="spacingAndGlyphs">MIR4263</text>
<rect x="635.08" y="631.52" width="0.85" height="2.96" fill="#444"/>
<text x="599.0" y="637.4" font-size="3.7" fill="#2a2a2a" textLength="20.1" lengthAdjust="spacingAndGlyphs">BRE-AS1</text>
<text x="594.2" y="640.4" font-size="3.7" fill="#2a2a2a" textLength="10.4" lengthAdjust="spacingAndGlyphs">RBKS</text>
<rect x="608.40" y="639.36" width="13.90" height="2.08" fill="#c6c6c6" stroke="#4a4a4a" stroke-width="0.55"/>
<rect x="621.88" y="631.80" width="0.85" height="7.00" fill="#444"/>
<text x="590.0" y="644.6" font-size="3.7" fill="#2a2a2a" textLength="14.6" lengthAdjust="spacingAndGlyphs">MRPL33</text>
<rect x="607.58" y="641.82" width="0.85" height="2.96" fill="#444"/>
<text x="639.2" y="644.6" font-size="3.7" fill="#2a2a2a" textLength="31.9" lengthAdjust="spacingAndGlyphs">LOC100505716</text>
<rect x="673.88" y="641.82" width="0.85" height="2.96" fill="#444"/>
<path d="M59.9 103.8h0M64.0 111.0h0M67.5 117.0h0M70.3 117.0h0M80.7 103.8h0M86.0 105.0h0M93.2 89.6h0M96.0 110.9h0M78.0 116.0h0M76.0 117.0h0M104.0 119.0h0M108.0 118.0h0M115.0 121.0h0M119.5 119.0h0M181.9 66.6h0M181.9 74.2h0M191.2 70.4h0M192.3 69.9h0M169.3 78.6h0M170.9 83.0h0M173.1 84.6h0M174.7 87.9h0M179.1 88.5h0M180.2 87.4h0M186.2 84.6h0M189.0 89.0h0M190.0 89.6h0M174.7 92.8h0M175.8 93.9h0M181.9 94.5h0M173.6 101.0h0M175.8 101.4h0M163.8 104.3h0M160.5 103.8h0M152.8 104.3h0M149.6 103.8h0M139.2 98.9h0M137.5 101.0h0M148.5 107.0h0M149.6 108.0h0M148.5 110.4h0M150.7 111.5h0M151.2 112.6h0M179.1 108.2h0M184.6 109.3h0M185.7 110.4h0M187.9 111.5h0M164.3 117.0h0M162.7 117.0h0M127.7 121.3h0M136.4 119.7h0M143.0 119.7h0M123.3 111.0h0M128.8 101.6h0M200.4 65.5h0M191.1 70.4h0M192.7 69.9h0M201.0 73.7h0M220.4 80.3h0M194.9 85.0h0M202.0 87.2h0M190.0 89.0h0M196.0 89.6h0M202.0 92.8h0M206.4 92.8h0M207.5 91.8h0M204.2 97.2h0M207.0 97.8h0M209.2 98.9h0M215.2 92.8h0M222.8 93.4h0M194.4 100.0h0M197.7 100.5h0M211.9 102.7h0M216.3 101.6h0M211.9 104.9h0M225.0 101.6h0M225.6 103.2h0M225.0 104.9h0M219.6 108.2h0M221.8 107.6h0M211.9 110.4h0M213.5 112.5h0M215.2 111.5h0M214.1 113.6h0M194.4 115.3h0M202.0 119.1h0M203.7 119.7h0M240.4 95.6h0M243.1 95.6h0M249.7 92.8h0M255.7 101.6h0M256.2 99.4h0M254.6 103.2h0M256.8 103.8h0M251.3 108.2h0M253.5 107.1h0M238.2 111.5h0M237.1 117.0h0M240.4 119.1h0M258.3 121.2h0M256.9 112.0h0M261.6 118.2h0M257.7 113.7h0M258.0 120.2h0M259.8 119.2h0M263.6 112.3h0M255.9 113.5h0M262.3 121.3h0M260.1 113.2h0M255.7 117.3h0M264.3 119.3h0M263.7 114.2h0M258.0 112.0h0M257.1 121.1h0M262.0 118.1h0M262.4 112.5h0M262.8 116.6h0M334.7 84.0h0M298.5 103.8h0M298.0 106.7h0M290.4 107.3h0M327.7 103.2h0M330.0 106.7h0M265.7 109.5h0M276.1 113.1h0M265.1 108.9h0M268.7 114.3h0M268.4 112.2h0M266.1 114.7h0M277.0 110.2h0M271.4 114.9h0M262.6 109.8h0M264.0 108.8h0M271.2 111.5h0M267.1 111.2h0M271.7 113.0h0M273.0 113.0h0M269.3 112.8h0M272.3 114.9h0M265.9 112.5h0M275.0 109.7h0M303.6 111.7h0M303.0 111.8h0M305.9 109.8h0M306.0 109.6h0M302.4 112.1h0M302.7 112.8h0M325.4 109.0h0M330.0 110.2h0M315.0 117.2h0M320.7 118.4h0M209.3 88.4h0M168.1 99.2h0M186.5 99.5h0M172.8 75.3h0M221.8 81.2h0M211.5 88.5h0M221.0 109.5h0M219.5 100.0h0M174.4 77.5h0M218.0 85.3h0M185.0 111.6h0M174.0 87.1h0M180.7 78.8h0M173.2 83.7h0M217.4 99.6h0M180.0 109.2h0M183.2 99.4h0M175.4 111.9h0M218.4 110.2h0M216.0 91.3h0M209.7 110.1h0M195.3 111.0h0M185.5 93.5h0M196.6 80.3h0M215.3 96.2h0M221.6 111.1h0M187.5 93.8h0M180.1 84.8h0M197.9 72.6h0M248.2 103.6h0M242.4 103.6h0M265.0 118.6h0M287.6 103.2h0M324.0 116.2h0M283.8 118.3h0M311.7 113.2h0M301.4 107.7h0M271.0 116.7h0M320.1 119.2h0M310.5 110.1h0M281.7 119.0h0M295.0 107.1h0M283.9 119.4h0M262.6 103.7h0M268.6 118.8h0M320.1 109.0h0M254.8 119.2h0M271.0 118.1h0M255.3 113.4h0M258.0 117.0h0M309.2 100.8h0M331.4 119.6h0M276.5 119.6h0M315.5 100.5h0M157.2 109.7h0M146.2 118.9h0M135.5 106.9h0M159.0 114.1h0M141.7 119.9h0M151.3 119.1h0M140.8 102.0h0M143.0 119.6h0M148.7 113.0h0M145.6 113.6h0M140.9 105.5h0M157.9 115.6h0M147.4 118.6h0M150.5 115.9h0M73.2 327.7h0M75.0 327.7h0M74.5 328.0h0M108.3 330.4h0M87.0 328.9h0M101.8 334.0h0M113.5 328.6h0M92.0 332.7h0M100.5 331.6h0M185.1 296.6h0M188.9 295.8h0M196.3 293.7h0M184.1 304.0h0M187.3 303.5h0M188.3 303.7h0M185.1 307.5h0M194.1 309.3h0M192.6 309.5h0M195.5 309.6h0M190.3 309.2h0M192.8 308.6h0M198.3 308.8h0M191.6 308.6h0M199.1 309.3h0M189.9 309.6h0M194.7 309.2h0M197.6 308.6h0M200.0 309.2h0M194.9 309.2h0M193.5 309.0h0M195.7 309.4h0M199.4 309.4h0M197.3 316.2h0M154.9 322.6h0M152.3 325.5h0M161.8 322.8h0M166.6 320.4h0M172.9 321.3h0M169.4 324.0h0M168.4 322.8h0M169.6 323.4h0M171.6 323.8h0M169.1 324.6h0M178.8 323.6h0M180.9 320.4h0M179.3 326.3h0M161.8 328.4h0M162.9 330.0h0M192.6 325.2h0M193.1 333.2h0M150.5 333.3h0M146.1 335.0h0M153.6 333.6h0M145.7 332.5h0M153.7 334.9h0M142.4 333.5h0M210.5 254.8h0M209.9 258.4h0M212.3 275.1h0M221.6 285.1h0M224.8 285.0h0M218.6 285.1h0M217.2 284.4h0M219.6 284.7h0M216.1 284.4h0M234.4 295.4h0M237.4 295.6h0M248.2 297.5h0M196.2 293.6h0M203.4 303.2h0M204.3 309.1h0M210.4 309.5h0M195.7 309.1h0M207.2 309.4h0M205.7 309.5h0M199.7 309.7h0M204.1 308.7h0M198.0 309.0h0M203.6 309.3h0M205.0 309.6h0M210.5 309.2h0M201.4 309.2h0M197.4 309.7h0M196.7 308.8h0M197.6 309.7h0M207.8 309.2h0M207.5 309.1h0M195.2 309.7h0M211.7 311.0h0M207.0 313.3h0M197.4 316.3h0M246.4 306.2h0M247.6 309.7h0M250.6 311.0h0M252.3 314.5h0M254.7 316.9h0M257.1 313.3h0M258.3 315.1h0M222.7 317.8h0M223.1 317.8h0M222.1 317.1h0M229.7 317.0h0M223.1 317.6h0M240.4 318.1h0M244.0 316.9h0M211.7 318.7h0M220.3 324.7h0M229.9 325.3h0M231.2 324.3h0M224.8 324.7h0M213.8 325.1h0M229.2 323.2h0M230.1 325.0h0M218.8 323.6h0M231.2 324.3h0M231.0 324.6h0M220.4 325.1h0M217.2 323.9h0M229.6 325.0h0M228.1 324.6h0M207.0 323.5h0M236.8 326.5h0M240.4 325.9h0M246.4 326.5h0M229.6 329.4h0M235.6 331.2h0M250.0 331.8h0M207.0 331.2h0M208.7 332.4h0M246.4 333.0h0M244.0 334.2h0M259.5 322.9h0M260.7 318.1h0M263.5 300.0h0M260.0 306.6h0M273.0 316.0h0M267.4 314.8h0M260.6 315.9h0M267.2 315.9h0M265.9 315.2h0M265.4 315.7h0M283.2 315.4h0M265.3 315.3h0M285.9 315.2h0M262.1 315.4h0M283.6 315.0h0M263.7 315.8h0M274.4 315.9h0M277.2 314.9h0M260.0 323.0h0M265.8 323.0h0M270.0 323.3h0M271.9 322.9h0M270.7 323.1h0M281.1 323.1h0M281.3 322.6h0M282.1 322.6h0M296.2 320.6h0M299.7 321.2h0M303.2 319.8h0M306.1 319.8h0M310.2 322.1h0M314.9 323.3h0M302.0 324.1h0M317.2 325.9h0M320.7 330.0h0M325.4 330.5h0M335.9 326.5h0M337.1 327.1h0M269.3 334.6h0M276.4 334.0h0M326.9 333.2h0M322.6 331.9h0M318.2 332.6h0M328.2 329.6h0M319.0 329.1h0M331.0 331.8h0M319.7 333.2h0M320.6 333.8h0M319.6 330.8h0M325.6 330.5h0M328.6 332.3h0M329.8 332.2h0M324.0 331.9h0M322.6 331.0h0M71.9 525.0h0M70.9 524.9h0M71.2 525.7h0M146.7 523.5h0M149.4 520.9h0M94.5 528.6h0M85.5 531.2h0M131.5 530.2h0M105.4 528.0h0M117.1 531.0h0M82.6 528.9h0M201.5 460.5h0M204.1 475.3h0M206.2 484.3h0M208.3 484.6h0M188.6 493.1h0M177.7 495.7h0M181.9 495.4h0M177.2 502.9h0M179.8 502.6h0M178.3 506.5h0M189.0 507.9h0M187.5 507.6h0M194.8 508.0h0M188.7 507.5h0M193.3 508.0h0M185.3 507.3h0M196.1 507.2h0M195.1 508.0h0M182.9 508.0h0M189.2 507.6h0M191.6 507.9h0M197.0 507.4h0M193.6 508.2h0M190.9 507.9h0M189.9 507.5h0M199.7 507.9h0M191.5 508.0h0M198.4 507.9h0M195.8 502.4h0M199.0 512.2h0M189.6 514.3h0M203.6 509.6h0M203.6 516.9h0M205.2 521.0h0M207.7 522.0h0M146.2 523.6h0M149.3 521.0h0M155.5 521.0h0M164.7 521.0h0M158.9 520.2h0M163.2 521.0h0M165.0 521.3h0M160.4 519.4h0M175.1 521.8h0M171.4 521.9h0M173.8 524.2h0M174.4 521.7h0M173.4 524.1h0M185.5 523.0h0M200.0 522.0h0M166.2 530.3h0M164.6 529.4h0M168.2 526.2h0M157.8 527.1h0M163.5 529.7h0M170.8 530.3h0M159.6 529.8h0M159.5 529.7h0M164.1 527.1h0M162.0 529.0h0M160.2 530.3h0M167.9 527.1h0M159.5 527.1h0M156.3 530.0h0M184.5 531.4h0M186.5 530.8h0M205.9 484.2h0M208.4 484.8h0M208.8 484.6h0M206.8 484.4h0M211.9 484.4h0M216.2 485.1h0M225.4 494.5h0M228.5 495.0h0M238.2 497.1h0M253.0 499.1h0M236.7 505.3h0M237.2 508.3h0M240.8 509.9h0M242.8 512.9h0M245.9 511.9h0M246.9 510.9h0M232.1 516.2h0M232.0 515.2h0M232.6 516.4h0M217.7 517.0h0M216.7 515.4h0M217.8 515.1h0M213.3 515.6h0M214.1 517.9h0M271.5 514.8h0M271.6 514.0h0M258.9 514.5h0M259.1 513.0h0M248.9 512.8h0M248.0 513.4h0M242.8 514.3h0M273.2 514.9h0M268.9 514.4h0M254.1 514.8h0M260.6 515.0h0M259.3 513.3h0M272.7 514.6h0M264.3 513.2h0M262.9 515.0h0M273.6 514.4h0M264.1 514.6h0M254.9 514.0h0M264.6 514.3h0M258.8 513.1h0M274.2 514.6h0M269.7 515.0h0M260.7 513.8h0M267.0 514.4h0M266.3 513.2h0M248.9 520.7h0M251.7 521.2h0M272.1 520.5h0M263.9 521.3h0M249.3 520.9h0M268.2 521.1h0M255.6 520.9h0M255.9 520.7h0M259.4 521.0h0M265.5 520.4h0M266.3 520.7h0M274.0 521.1h0M266.7 520.8h0M252.4 521.2h0M219.4 522.5h0M211.0 522.8h0M214.0 521.8h0M207.8 522.9h0M208.0 522.7h0M205.9 522.1h0M211.7 522.0h0M223.4 520.0h0M228.5 525.2h0M231.6 524.2h0M233.6 530.8h0M239.7 529.3h0M258.1 531.8h0M265.3 531.3h0M268.4 531.8h0M274.1 513.9h0M271.0 521.0h0M284.3 519.2h0M287.9 519.0h0M288.4 520.0h0M291.5 518.0h0M294.0 518.3h0M297.6 520.0h0M290.4 522.1h0M302.7 521.6h0M294.5 525.1h0M304.7 524.6h0M281.2 522.6h0M279.2 531.3h0M281.2 530.8h0M309.1 528.4h0M314.8 527.9h0M318.0 529.6h0M319.3 528.2h0M308.4 528.1h0M313.5 528.3h0M324.9 524.0h0M323.5 524.1h0M324.5 524.5h0M323.2 524.3h0M297.6 533.3h0M106.2 719.8h0M135.9 721.2h0M133.2 721.0h0M136.0 721.3h0M91.0 724.9h0M136.7 721.5h0M97.4 724.9h0M116.1 722.3h0M110.9 722.3h0M203.8 696.2h0M207.3 695.7h0M213.5 694.1h0M203.2 702.0h0M206.3 701.8h0M204.3 704.9h0M209.5 705.6h0M212.4 706.4h0M214.3 705.3h0M211.4 705.2h0M212.5 705.7h0M207.1 705.7h0M175.1 718.6h0M177.7 716.6h0M183.8 716.6h0M186.9 715.1h0M191.0 715.1h0M193.0 716.1h0M192.9 721.2h0M187.2 721.5h0M192.0 720.9h0M185.5 721.5h0M195.0 721.6h0M187.5 721.1h0M201.0 718.8h0M199.0 716.8h0M200.4 717.3h0M210.4 718.1h0M214.5 717.1h0M158.9 722.5h0M160.7 723.0h0M164.8 722.4h0M159.1 723.8h0M153.7 723.5h0M159.0 723.7h0M154.2 721.2h0M225.8 666.5h0M227.9 679.3h0M234.7 686.9h0M235.0 686.6h0M229.5 686.5h0M234.9 686.7h0M239.1 687.3h0M213.6 694.1h0M250.7 695.7h0M250.7 695.5h0M247.8 695.5h0M259.0 697.2h0M272.8 698.7h0M225.3 699.2h0M219.7 701.3h0M222.3 706.2h0M219.2 706.4h0M214.2 706.5h0M217.9 706.4h0M211.4 706.4h0M215.2 706.6h0M221.4 706.1h0M213.9 706.5h0M212.7 706.3h0M223.8 706.2h0M219.0 706.5h0M221.5 706.1h0M220.9 706.1h0M222.8 706.5h0M222.8 708.9h0M214.6 711.5h0M227.4 707.4h0M257.5 703.8h0M258.0 705.4h0M269.8 703.8h0M262.1 707.7h0M269.5 707.5h0M262.4 712.9h0M273.9 708.9h0M269.8 712.8h0M280.0 710.2h0M275.6 712.0h0M264.9 712.4h0M268.9 712.7h0M266.8 710.3h0M265.2 712.7h0M264.8 712.9h0M270.6 712.1h0M270.2 712.7h0M279.5 711.5h0M279.0 711.2h0M264.8 711.3h0M263.8 710.5h0M262.5 712.7h0M279.4 709.7h0M267.8 711.7h0M267.8 711.6h0M232.1 717.3h0M240.3 718.0h0M225.4 717.5h0M238.0 717.0h0M236.3 717.8h0M232.3 716.8h0M230.5 717.7h0M236.8 717.6h0M241.8 717.2h0M231.7 718.0h0M239.1 717.0h0M237.1 717.5h0M241.7 717.9h0M232.3 717.6h0M241.4 721.4h0M245.6 722.8h0M242.7 721.1h0M243.7 722.0h0M256.6 718.7h0M255.1 718.7h0M255.5 719.9h0M278.0 725.8h0M286.0 710.9h0M288.9 711.0h0M284.6 710.7h0M283.0 710.9h0M291.4 710.4h0M287.3 710.9h0M279.2 710.8h0M276.9 713.2h0M301.6 715.1h0M304.4 714.9h0M307.7 714.5h0M310.1 714.5h0M313.4 715.6h0M307.3 717.5h0M298.2 718.5h0M336.7 719.4h0M288.7 716.5h0M290.0 717.0h0M286.9 716.2h0M283.3 716.6h0M320.3 724.1h0M327.1 723.4h0M324.7 723.9h0M332.2 723.1h0M320.8 723.0h0M324.7 721.8h0M336.4 721.5h0M328.8 724.1h0M325.0 721.5h0M323.7 723.2h0M321.6 724.2h0M323.1 724.1h0M328.4 722.9h0M330.7 721.6h0M277.8 726.0h0M284.5 725.6h0M286.4 725.6h0M434.1 133.0h0M463.2 136.1h0M464.3 137.0h0M463.8 138.5h0M466.0 142.0h0M468.0 143.0h0M449.0 145.0h0M450.0 146.0h0M477.6 86.6h0M475.8 89.9h0M478.4 97.0h0M484.2 98.3h0M485.6 101.4h0M479.8 101.9h0M478.9 103.7h0M481.1 104.6h0M481.6 106.3h0M480.7 107.2h0M486.0 105.0h0M489.6 109.4h0M493.6 108.8h0M493.6 113.4h0M482.4 109.9h0M476.2 118.3h0M478.9 117.4h0M479.8 117.9h0M483.8 120.6h0M482.4 123.2h0M491.8 121.0h0M493.1 124.1h0M496.7 124.1h0M498.4 121.9h0M497.6 117.9h0M486.0 125.0h0M487.8 125.9h0M489.1 125.4h0M487.3 128.6h0M488.2 129.0h0M492.0 126.8h0M494.9 133.4h0M496.7 133.4h0M478.0 136.6h0M480.7 139.2h0M490.4 138.3h0M491.3 139.7h0M500.2 139.2h0M503.8 140.1h0M505.6 140.6h0M516.2 140.6h0M518.9 141.5h0M523.3 132.1h0M524.2 133.0h0M559.7 121.0h0M560.3 122.0h0M568.9 122.0h0M571.0 125.0h0M575.1 129.1h0M581.3 130.3h0M584.0 130.9h0M583.7 130.1h0M582.2 131.7h0M582.4 131.6h0M584.6 131.0h0M567.9 134.2h0M557.1 133.1h0M555.1 134.7h0M558.0 133.3h0M559.1 134.2h0M559.4 134.6h0M555.1 132.7h0M584.0 137.3h0M541.9 140.9h0M543.8 140.9h0M537.2 139.9h0M541.5 139.3h0M540.4 138.9h0M544.2 140.0h0M549.1 140.7h0M538.1 140.9h0M551.2 140.6h0M533.8 140.3h0M545.6 140.6h0M535.2 139.4h0M541.0 139.5h0M541.7 140.2h0M553.4 140.4h0M551.9 139.1h0M557.7 142.0h0M574.8 146.5h0M572.1 145.3h0M574.7 146.7h0M573.3 146.3h0M602.4 138.4h0M607.7 139.0h0M604.2 140.0h0M607.6 138.1h0M606.6 136.8h0M665.8 141.5h0M663.8 143.7h0M677.1 141.2h0M675.7 141.5h0M669.6 141.2h0M659.3 141.5h0M672.3 142.4h0M412.4 330.7h0M413.7 330.8h0M414.9 331.2h0M416.1 330.5h0M417.7 330.7h0M419.2 330.4h0M420.4 330.7h0M421.9 330.6h0M440.6 334.6h0M460.8 330.3h0M455.4 335.7h0M456.5 336.3h0M451.0 336.8h0M429.3 338.8h0M436.1 338.3h0M434.5 339.3h0M432.5 339.1h0M504.6 328.2h0M514.3 337.4h0M506.9 338.0h0M509.5 338.8h0M519.0 338.8h0M521.3 338.7h0M508.3 338.0h0M510.4 338.0h0M506.3 338.3h0M518.4 337.7h0M516.7 338.2h0M507.2 338.6h0M517.6 338.6h0M507.3 338.2h0M513.1 338.7h0M505.8 338.8h0M507.3 338.4h0M507.2 337.6h0M518.5 337.9h0M486.3 341.6h0M488.2 341.4h0M487.5 341.5h0M523.0 330.7h0M530.2 331.7h0M532.2 330.1h0M536.3 332.7h0M538.4 334.7h0M540.4 336.3h0M530.4 332.7h0M531.8 332.8h0M533.6 332.5h0M535.4 332.6h0M541.2 341.8h0M538.7 341.5h0M540.8 341.1h0M543.9 341.3h0M542.6 341.5h0M544.4 331.0h0M545.0 328.8h0M544.0 331.1h0M528.1 340.4h0M570.1 280.9h0M571.2 288.3h0M571.7 291.9h0M558.4 301.6h0M552.3 302.6h0M548.2 304.6h0M549.7 306.7h0M551.2 305.1h0M554.4 308.8h0M562.2 308.1h0M556.4 308.2h0M562.7 308.5h0M564.4 308.2h0M562.8 308.9h0M560.9 308.9h0M554.2 308.4h0M561.4 308.6h0M554.2 307.8h0M563.0 308.5h0M564.2 308.9h0M557.5 307.6h0M555.1 308.8h0M558.4 308.8h0M564.7 308.1h0M564.5 311.3h0M567.1 313.8h0M568.6 309.7h0M570.7 310.8h0M572.2 311.3h0M583.4 312.8h0M580.6 319.1h0M578.4 318.8h0M576.7 317.9h0M574.7 317.9h0M574.5 319.6h0M577.5 318.5h0M582.0 319.5h0M584.7 319.2h0M582.3 319.4h0M575.3 325.1h0M585.9 324.8h0M584.2 325.6h0M584.4 324.3h0M588.8 324.9h0M592.1 322.0h0M594.2 322.0h0M599.3 323.5h0M603.4 325.1h0M586.0 328.1h0M586.0 330.2h0M570.1 328.1h0M543.5 332.1h0M544.5 330.9h0M546.0 333.1h0M544.1 331.2h0M559.4 332.7h0M567.6 334.3h0M568.6 336.3h0M571.7 338.9h0M548.6 341.7h0M549.3 341.6h0M546.9 341.1h0M546.5 342.6h0M552.4 341.8h0M552.1 342.3h0M586.1 344.4h0M585.1 344.2h0M580.8 344.0h0M582.4 344.2h0M601.2 343.2h0M601.8 344.1h0M609.5 344.7h0M608.6 342.3h0M605.0 344.6h0M601.3 344.0h0M616.7 325.9h0M628.3 339.8h0M613.6 340.1h0M612.5 340.4h0M630.6 340.1h0M612.1 340.9h0M635.4 340.2h0M620.6 340.4h0M631.0 340.9h0M620.5 339.6h0M635.3 341.0h0M622.4 340.7h0M629.0 340.9h0M623.0 339.5h0M621.4 339.9h0M650.6 334.0h0M650.5 334.0h0M652.9 333.9h0M657.0 332.1h0M658.7 338.0h0M665.7 339.7h0M670.4 337.4h0M412.7 523.5h0M442.2 530.1h0M444.4 531.8h0M460.8 529.6h0M470.1 517.5h0M468.3 523.2h0M469.4 523.6h0M471.7 523.1h0M473.0 523.5h0M474.5 523.8h0M475.7 523.6h0M444.9 534.7h0M436.2 532.5h0M426.1 531.8h0M422.4 534.4h0M429.8 535.8h0M444.1 536.0h0M435.2 533.8h0M442.8 532.6h0M419.4 533.4h0M416.1 535.2h0M458.3 535.8h0M445.4 535.8h0M449.3 535.0h0M457.3 532.0h0M479.4 519.5h0M476.0 523.9h0M477.2 523.9h0M479.4 523.3h0M480.7 523.5h0M483.0 523.2h0M484.8 523.6h0M486.3 523.4h0M487.8 523.4h0M517.2 525.7h0M501.8 527.4h0M511.1 529.6h0M512.2 528.5h0M545.1 521.4h0M543.6 530.8h0M545.2 530.7h0M547.4 530.6h0M548.4 531.1h0M490.3 528.5h0M491.4 530.7h0M505.8 534.3h0M503.7 533.2h0M537.6 536.5h0M531.9 536.7h0M514.5 536.6h0M505.6 535.9h0M543.7 534.1h0M500.7 533.5h0M516.2 537.0h0M522.1 534.6h0M546.3 533.3h0M506.4 534.9h0M495.6 536.2h0M533.3 536.2h0M589.1 472.4h0M590.0 480.5h0M590.5 483.7h0M581.3 493.4h0M577.2 494.6h0M574.6 496.2h0M576.2 497.7h0M576.9 500.0h0M585.6 500.3h0M576.0 500.5h0M577.4 500.1h0M579.7 500.7h0M585.4 500.2h0M580.1 499.9h0M585.4 503.3h0M586.9 506.4h0M590.0 503.8h0M598.1 504.9h0M594.5 512.0h0M597.3 511.5h0M597.2 511.3h0M598.8 511.4h0M598.0 511.6h0M593.0 517.6h0M598.1 517.6h0M601.2 515.6h0M605.3 514.6h0M608.9 516.1h0M611.4 517.6h0M600.2 521.3h0M599.4 521.0h0M545.0 521.7h0M562.6 527.3h0M569.8 528.4h0M565.1 526.3h0M558.4 525.0h0M569.0 528.2h0M571.5 528.4h0M573.1 526.4h0M564.0 523.6h0M564.4 527.4h0M564.8 524.4h0M573.5 524.9h0M565.7 524.6h0M565.4 524.7h0M564.2 525.9h0M573.4 522.9h0M566.4 526.0h0M566.5 528.3h0M561.3 522.9h0M580.2 525.4h0M585.4 527.4h0M547.5 531.2h0M547.8 531.1h0M552.8 531.0h0M553.4 530.4h0M611.6 518.0h0M621.0 519.0h0M628.5 532.5h0M633.7 531.9h0M618.1 532.7h0M616.7 532.8h0M627.5 532.7h0M618.3 531.7h0M632.2 532.7h0M623.6 532.3h0M617.6 532.9h0M627.4 532.8h0M625.4 532.9h0M616.6 531.8h0M623.8 532.7h0M629.5 532.3h0M645.7 525.6h0M642.1 525.0h0M647.8 525.6h0M615.7 535.9h0M611.5 536.3h0M613.9 535.9h0M670.3 533.3h0M660.8 532.5h0M655.8 532.4h0M675.6 534.2h0M666.1 532.1h0M652.2 532.8h0M414.7 712.0h0M416.4 712.3h0M417.8 711.8h0M418.6 712.2h0M420.0 712.1h0M421.5 712.2h0M422.9 711.7h0M463.1 711.3h0M452.9 717.6h0M457.0 717.6h0M459.0 716.6h0M465.2 719.6h0M442.7 721.6h0M431.2 721.5h0M444.1 722.6h0M442.3 722.6h0M447.8 721.6h0M507.7 709.4h0M517.1 718.2h0M502.2 719.1h0M522.4 718.2h0M506.8 718.8h0M522.2 718.7h0M504.8 718.2h0M506.7 719.0h0M507.7 718.2h0M511.7 717.9h0M511.8 719.0h0M523.1 719.0h0M511.8 719.1h0M502.5 718.8h0M525.8 719.0h0M511.9 717.9h0M523.9 717.9h0M519.4 717.9h0M514.1 718.5h0M516.3 718.2h0M506.0 717.7h0M520.1 717.8h0M522.4 718.7h0M529.2 712.1h0M529.0 713.5h0M527.1 713.9h0M486.1 721.5h0M491.7 723.0h0M490.5 722.6h0M487.7 722.0h0M537.5 719.6h0M541.7 717.6h0M545.0 719.5h0M537.5 717.9h0M574.7 661.8h0M575.8 669.9h0M576.3 673.0h0M563.0 682.5h0M552.3 685.0h0M555.3 685.5h0M556.9 684.0h0M553.3 688.1h0M557.9 687.1h0M562.5 688.8h0M563.2 689.7h0M560.1 689.6h0M561.4 688.9h0M560.7 689.2h0M567.6 689.8h0M566.5 688.9h0M558.9 689.2h0M568.3 689.4h0M564.8 688.9h0M558.8 689.2h0M568.5 689.8h0M560.0 689.8h0M566.4 689.5h0M569.1 692.2h0M572.7 690.7h0M574.7 691.7h0M576.3 692.5h0M571.7 695.3h0M588.0 693.7h0M589.3 699.8h0M581.4 699.0h0M579.4 700.7h0M579.2 700.6h0M585.4 698.9h0M578.6 700.3h0M581.1 699.1h0M580.5 699.6h0M579.6 700.7h0M581.6 700.2h0M587.3 700.1h0M579.6 700.7h0M583.1 700.2h0M582.7 700.4h0M579.9 706.0h0M590.5 703.4h0M596.8 705.2h0M596.9 705.0h0M591.4 704.5h0M595.6 705.7h0M592.2 704.3h0M604.4 704.5h0M608.5 706.0h0M592.1 709.2h0M591.7 709.3h0M549.8 709.6h0M547.6 710.4h0M548.6 710.6h0M548.6 712.3h0M547.1 713.5h0M572.7 715.7h0M573.7 718.2h0M576.8 719.8h0M606.9 718.8h0M544.4 724.4h0M543.9 724.2h0M548.9 722.0h0M547.2 723.5h0M608.5 706.1h0M622.3 706.9h0M633.0 717.1h0M648.2 716.9h0M653.5 715.1h0M658.6 714.5h0M656.9 714.4h0M662.8 712.8h0M661.6 719.0h0M668.9 718.6h0M673.2 719.2h0M664.3 718.4h0M672.0 719.6h0M664.3 718.9h0" stroke="#959595" stroke-width="1.7" stroke-linecap="round" fill="none"/>
<path d="M58.9 122.1h0M58.2 121.3h0M60.8 121.6h0M62.1 122.5h0M61.4 122.5h0M58.3 122.5h0M64.9 121.9h0M59.5 122.4h0M66.0 121.4h0M61.1 121.5h0M57.9 120.1h0M60.1 120.6h0M58.6 122.4h0M64.8 122.2h0M62.7 122.4h0M60.9 121.3h0M58.1 121.6h0M59.4 122.5h0M61.3 121.2h0M62.8 122.2h0M60.2 121.8h0M63.8 120.8h0M62.7 122.3h0M65.4 121.7h0M60.1 121.0h0M59.9 104.3h0M61.0 107.0h0M61.5 108.7h0M64.2 108.2h0M58.8 111.5h0M59.9 113.6h0M60.4 115.3h0M58.2 116.4h0M59.3 117.2h0M69.2 109.3h0M71.9 109.8h0M70.3 113.6h0M68.1 113.6h0M67.5 115.0h0M75.7 108.2h0M79.5 112.6h0M77.9 113.8h0M79.0 114.0h0M78.4 110.2h0M76.9 109.2h0M78.6 110.8h0M77.7 111.6h0M80.7 109.5h0M79.0 112.3h0M79.2 113.9h0M81.0 111.1h0M76.7 109.7h0M79.0 112.8h0M80.7 100.0h0M84.0 101.6h0M85.0 103.2h0M87.2 103.8h0M83.0 112.5h0M84.0 113.6h0M82.0 119.0h0M83.0 122.0h0M88.3 113.1h0M93.2 94.8h0M96.0 113.6h0M91.5 117.5h0M93.8 119.7h0M90.5 119.7h0M89.4 121.3h0M101.9 123.0h0M91.5 122.8h0M111.0 123.0h0M95.4 122.9h0M114.1 122.2h0M101.5 122.9h0M114.5 121.6h0M113.9 120.1h0M100.5 122.5h0M114.5 122.3h0M92.5 119.3h0M95.0 122.8h0M102.5 122.7h0M95.9 121.4h0M100.6 123.0h0M105.0 122.3h0M108.7 119.3h0M106.5 121.7h0M89.6 120.9h0M111.4 119.7h0M111.9 119.8h0M100.0 122.2h0M107.0 122.9h0M90.0 123.0h0M92.9 122.7h0M89.6 122.4h0M92.5 123.0h0M98.9 122.9h0M114.2 123.0h0M92.5 121.3h0M98.4 122.6h0M91.7 122.3h0M117.8 120.0h0M102.5 121.9h0M91.1 122.9h0M95.9 122.4h0M92.8 120.1h0M116.5 123.0h0M92.4 121.6h0M88.8 121.6h0M117.4 121.6h0M108.9 119.9h0M99.0 122.6h0M111.2 122.8h0M111.4 121.6h0M94.7 122.4h0M117.5 120.2h0M112.2 119.9h0M110.2 120.2h0M103.5 122.7h0M88.9 122.3h0M96.4 123.0h0M108.8 122.6h0M101.4 119.3h0M99.8 118.0h0M101.5 120.2h0M117.9 107.1h0M119.0 114.7h0M120.0 113.6h0M122.3 112.5h0M124.5 113.1h0M128.8 64.9h0M131.8 66.0h0M137.5 64.4h0M139.2 63.8h0M139.7 64.4h0M140.8 79.7h0M142.4 80.3h0M144.6 86.8h0M145.7 92.3h0M144.6 94.0h0M158.3 95.0h0M150.7 98.3h0M152.8 98.3h0M155.0 98.3h0M135.9 99.4h0M133.1 101.6h0M128.8 104.3h0M144.9 103.7h0M141.2 103.8h0M140.4 100.9h0M140.2 100.8h0M144.4 102.5h0M157.8 101.0h0M157.2 103.2h0M144.0 106.0h0M145.2 108.2h0M146.3 109.3h0M143.0 109.8h0M127.1 109.8h0M127.7 113.1h0M124.4 113.6h0M123.3 112.5h0M132.0 112.5h0M124.4 117.0h0M124.9 119.1h0M121.1 117.0h0M133.1 122.4h0M137.5 122.4h0M148.8 116.3h0M151.4 117.6h0M150.3 119.9h0M151.3 115.7h0M148.8 116.9h0M151.3 119.7h0M151.4 119.2h0M148.2 115.2h0M152.6 118.9h0M146.4 117.1h0M146.2 119.9h0M151.5 115.8h0M151.6 119.8h0M150.3 115.2h0M149.4 119.2h0M145.1 119.8h0M150.2 115.2h0M152.5 118.3h0M152.0 118.8h0M146.7 116.4h0M147.3 119.5h0M149.7 119.6h0M143.0 115.3h0M142.4 121.9h0M157.2 114.2h0M160.5 117.0h0M158.3 119.7h0M163.7 122.6h0M167.5 122.9h0M164.0 122.3h0M167.5 121.4h0M167.6 122.1h0M164.6 121.8h0M160.6 121.7h0M161.9 122.0h0M166.7 123.0h0M164.1 122.8h0M164.8 120.7h0M164.5 122.4h0M166.5 121.5h0M164.8 122.9h0M162.6 122.6h0M164.4 120.4h0M166.4 121.5h0M163.9 119.6h0M170.0 110.0h0M168.0 111.0h0M171.5 113.6h0M173.6 112.5h0M174.7 113.6h0M175.8 115.8h0M177.0 114.7h0M181.3 111.5h0M182.4 107.1h0M179.0 111.5h0M181.9 119.5h0M185.0 120.4h0M182.3 120.9h0M189.0 120.7h0M188.0 118.6h0M177.9 115.8h0M189.1 120.0h0M175.8 117.1h0M180.9 122.8h0M177.5 122.9h0M184.6 122.9h0M188.3 117.7h0M185.3 122.7h0M175.9 119.0h0M189.5 116.5h0M189.2 122.4h0M181.6 121.3h0M187.3 115.1h0M180.7 122.6h0M179.2 120.4h0M178.8 122.5h0M173.9 118.4h0M180.8 120.1h0M179.0 123.0h0M182.0 119.4h0M189.8 122.9h0M189.5 117.7h0M178.0 122.8h0M186.4 123.0h0M175.7 122.1h0M188.5 121.2h0M177.8 117.3h0M188.7 122.7h0M185.1 119.9h0M174.5 122.9h0M180.6 118.8h0M189.0 122.9h0M186.7 119.3h0M187.6 122.9h0M187.7 122.9h0M179.2 120.9h0M188.8 120.1h0M175.7 122.1h0M177.5 120.3h0M176.2 122.8h0M190.0 103.8h0M192.3 103.8h0M191.2 107.1h0M189.0 109.3h0M186.8 112.5h0M220.4 72.3h0M219.0 87.4h0M218.7 88.7h0M215.0 94.8h0M222.8 95.0h0M224.0 96.1h0M225.6 97.2h0M225.6 92.8h0M225.0 99.4h0M200.4 97.8h0M201.0 99.4h0M190.7 103.9h0M191.0 104.2h0M191.0 104.7h0M190.6 104.4h0M196.7 107.5h0M196.7 107.8h0M199.0 105.6h0M198.7 107.9h0M197.1 104.3h0M198.5 105.1h0M200.3 106.9h0M198.8 107.3h0M200.9 105.9h0M200.3 107.5h0M199.4 105.8h0M198.1 107.3h0M197.2 108.2h0M199.9 108.2h0M203.8 110.2h0M207.2 109.9h0M206.4 111.3h0M204.2 110.3h0M205.3 110.3h0M205.2 110.1h0M200.4 113.6h0M219.6 105.0h0M221.8 104.3h0M221.2 111.5h0M225.0 107.0h0M216.3 106.0h0M198.2 117.0h0M202.0 116.4h0M194.4 119.7h0M217.0 121.5h0M212.4 114.4h0M217.0 121.6h0M210.3 121.3h0M210.6 122.4h0M211.9 120.0h0M212.0 121.9h0M209.3 122.4h0M210.8 122.3h0M206.6 122.4h0M209.0 121.3h0M212.2 119.0h0M213.6 117.2h0M216.1 117.6h0M210.0 120.7h0M208.0 114.2h0M213.5 117.5h0M215.6 122.4h0M213.3 115.5h0M215.3 117.4h0M212.2 122.1h0M215.6 119.8h0M215.5 116.6h0M216.2 119.0h0M214.0 118.0h0M206.7 121.7h0M210.4 122.1h0M215.6 122.2h0M213.3 119.3h0M213.9 118.6h0M206.4 119.9h0M214.6 116.7h0M212.3 119.8h0M207.1 118.3h0M209.2 117.4h0M209.3 122.3h0M223.4 119.1h0M226.1 119.7h0M228.3 118.6h0M225.0 121.3h0M230.0 112.0h0M192.0 122.7h0M199.7 122.7h0M193.8 122.4h0M196.8 122.4h0M196.1 122.7h0M190.8 122.6h0M234.9 122.9h0M235.4 121.0h0M232.8 121.7h0M235.1 123.0h0M238.8 121.3h0M235.3 121.3h0M236.8 121.9h0M233.7 122.1h0M234.5 120.3h0M240.9 119.8h0M236.7 123.0h0M241.2 120.6h0M235.1 122.2h0M241.0 122.8h0M237.6 114.2h0M240.4 100.0h0M242.6 99.4h0M244.2 98.9h0M241.5 102.7h0M243.7 103.8h0M240.9 106.5h0M242.6 106.0h0M244.2 107.1h0M249.7 96.1h0M249.1 95.6h0M243.7 117.0h0M246.9 115.8h0M246.4 119.7h0M249.5 122.2h0M249.3 122.1h0M247.6 123.0h0M254.6 111.7h0M255.5 112.0h0M256.3 109.0h0M252.5 110.2h0M254.6 108.0h0M253.7 110.0h0M260.0 103.8h0M261.7 103.8h0M264.5 97.2h0M256.0 122.0h0M262.8 121.0h0M261.6 122.4h0M252.9 115.1h0M261.1 113.7h0M255.3 114.1h0M256.7 120.6h0M259.4 112.5h0M257.2 120.7h0M252.0 121.3h0M262.7 122.2h0M264.1 121.2h0M254.9 121.5h0M253.9 119.2h0M264.4 120.5h0M262.4 114.4h0M263.8 117.9h0M258.8 113.5h0M252.0 116.7h0M257.5 116.6h0M260.1 116.3h0M252.0 121.2h0M253.0 113.7h0M256.0 119.6h0M261.4 121.1h0M254.9 112.9h0M255.4 117.6h0M256.7 118.7h0M253.5 121.9h0M263.7 121.7h0M254.3 119.4h0M265.0 114.0h0M253.2 119.9h0M252.5 121.8h0M252.5 120.8h0M254.8 121.5h0M263.5 118.6h0M257.0 116.3h0M258.5 120.2h0M255.9 120.5h0M294.5 77.8h0M294.5 86.9h0M302.3 85.7h0M300.9 91.5h0M302.1 91.0h0M302.8 91.3h0M299.6 91.7h0M334.7 79.9h0M264.7 96.8h0M269.9 98.0h0M280.4 100.8h0M285.7 99.0h0M278.3 100.8h0M284.3 99.5h0M280.1 100.1h0M277.6 99.2h0M282.9 100.4h0M285.0 97.1h0M283.1 97.6h0M280.4 100.6h0M285.7 97.1h0M277.8 100.3h0M285.4 99.6h0M280.5 100.0h0M288.3 98.8h0M277.9 100.6h0M282.4 100.3h0M279.8 98.8h0M295.7 96.9h0M292.3 96.2h0M293.0 97.3h0M292.5 97.0h0M295.9 95.5h0M271.5 102.5h0M267.9 102.9h0M269.0 102.4h0M271.5 103.2h0M279.2 102.9h0M283.2 103.3h0M276.8 102.8h0M279.2 102.4h0M282.6 107.3h0M283.4 106.3h0M278.7 107.5h0M290.4 104.4h0M260.0 103.8h0M264.7 106.1h0M273.1 109.2h0M260.4 109.9h0M265.3 109.8h0M264.6 109.4h0M260.0 109.2h0M264.9 109.3h0M261.7 110.1h0M304.4 99.7h0M305.5 100.9h0M310.2 97.4h0M311.4 99.7h0M312.0 103.2h0M323.6 97.4h0M324.2 99.7h0M326.6 101.5h0M330.7 98.0h0M335.9 97.4h0M330.0 105.5h0M299.8 107.1h0M306.9 112.5h0M302.4 108.7h0M302.9 113.7h0M308.1 112.4h0M301.6 113.3h0M297.8 107.9h0M306.8 112.2h0M297.9 109.2h0M298.1 113.7h0M300.4 107.6h0M307.8 109.4h0M300.6 112.6h0M304.6 107.2h0M305.7 113.0h0M300.6 112.7h0M306.2 113.7h0M304.8 107.7h0M319.7 111.8h0M322.4 111.1h0M325.1 111.9h0M330.0 110.8h0M334.7 116.0h0M335.3 117.2h0M330.8 119.7h0M332.5 119.7h0M330.3 120.6h0M334.2 120.4h0M334.4 120.4h0M278.0 119.7h0M279.9 121.6h0M264.3 118.2h0M301.4 122.1h0M263.6 121.9h0M290.4 122.5h0M313.9 121.5h0M314.3 117.2h0M264.6 121.8h0M287.4 122.4h0M284.6 118.9h0M282.9 121.9h0M297.1 119.6h0M306.6 118.5h0M266.7 119.3h0M276.2 117.7h0M280.5 120.0h0M271.0 118.6h0M273.5 121.9h0M308.6 122.2h0M277.9 119.9h0M314.6 121.2h0M272.7 120.4h0M295.9 118.0h0M265.6 116.1h0M305.1 120.7h0M310.3 117.7h0M276.2 122.5h0M270.4 122.3h0M292.1 116.3h0M280.5 116.8h0M284.7 117.4h0M302.8 121.8h0M265.8 116.6h0M294.1 119.8h0M280.3 122.0h0M271.2 122.3h0M293.0 121.9h0M271.2 119.4h0M278.0 122.5h0M270.2 119.1h0M271.2 121.6h0M290.1 118.1h0M265.6 122.4h0M290.3 121.2h0M265.0 119.5h0M298.2 122.2h0M275.6 121.1h0M312.4 121.6h0M291.2 121.6h0M282.9 121.4h0M314.8 117.4h0M270.8 121.3h0M271.2 118.7h0M309.6 122.5h0M305.1 121.0h0M308.6 121.1h0M268.9 120.8h0M290.3 122.5h0M310.0 119.5h0M294.2 122.4h0M287.7 121.3h0M275.6 122.3h0M310.9 120.4h0M287.0 122.4h0M313.2 118.0h0M267.0 122.1h0M313.7 116.6h0M262.9 120.6h0M281.3 116.8h0M294.1 117.0h0M268.8 117.8h0M319.6 118.4h0M321.9 117.2h0M283.4 106.7h0M285.1 110.8h0M207.3 114.5h0M163.3 113.0h0M153.6 105.9h0M169.0 103.7h0M223.8 108.7h0M199.8 109.9h0M150.1 115.2h0M161.2 117.9h0M182.4 109.2h0M217.2 111.6h0M167.0 117.4h0M151.7 108.3h0M176.6 118.0h0M176.8 117.6h0M193.8 116.4h0M165.3 109.9h0M185.6 109.0h0M220.2 117.3h0M161.2 116.2h0M197.9 117.6h0M208.7 102.2h0M169.8 113.8h0M198.4 118.0h0M176.3 110.5h0M183.3 108.5h0M205.0 100.1h0M217.8 116.1h0M189.9 117.9h0M167.8 113.7h0M208.4 117.8h0M191.3 118.0h0M160.7 100.0h0M195.6 116.7h0M198.1 111.7h0M163.1 103.9h0M172.5 115.3h0M216.7 117.9h0M203.7 104.8h0M213.3 118.0h0M184.9 105.9h0M183.9 106.0h0M157.9 116.4h0M152.9 116.3h0M206.2 114.9h0M213.4 107.2h0M169.9 106.8h0M182.7 110.7h0M289.7 103.3h0M301.0 117.4h0M260.6 96.5h0M241.4 99.9h0M262.4 117.5h0M329.7 104.9h0M271.1 104.8h0M271.2 99.9h0M326.2 117.8h0M305.8 108.6h0M333.0 107.5h0M319.8 113.1h0M321.5 106.4h0M308.8 113.9h0M269.2 110.4h0M299.1 118.2h0M326.5 119.7h0M242.6 119.1h0M328.3 119.4h0M253.5 115.9h0M244.0 119.9h0M300.2 106.6h0M310.0 106.5h0M296.1 119.8h0M317.7 115.5h0M324.7 102.2h0M322.4 119.8h0M329.7 98.5h0M259.5 119.4h0M243.3 119.4h0M317.1 101.1h0M318.4 108.5h0M267.3 108.6h0M249.3 119.5h0M259.5 104.4h0M280.3 116.4h0M264.4 120.0h0M308.0 117.1h0M270.5 115.4h0M287.9 96.5h0M298.7 101.0h0M279.2 119.9h0M313.4 113.9h0M306.9 115.9h0M260.6 111.3h0M248.6 100.6h0M256.2 102.2h0M259.2 120.0h0M332.9 104.2h0M286.6 120.0h0M315.7 112.5h0M287.0 118.6h0M319.0 115.9h0M329.7 117.5h0M260.4 117.1h0M287.3 106.4h0M300.5 119.4h0M314.9 119.7h0M314.8 106.5h0M273.8 108.7h0M277.5 114.7h0M88.2 111.1h0M103.2 119.1h0M71.3 119.7h0M58.5 117.0h0M114.5 116.9h0M93.0 111.9h0M90.3 113.1h0M100.7 119.5h0M110.8 116.8h0M87.8 107.3h0M111.4 114.2h0M72.9 116.6h0M121.1 111.4h0M107.8 110.3h0M106.3 108.6h0M89.6 112.9h0M102.5 117.9h0M87.0 119.7h0M108.8 110.1h0M74.5 113.2h0M89.7 116.5h0M86.3 113.3h0M133.8 336.1h0M61.2 335.5h0M88.1 335.8h0M89.5 336.2h0M111.4 335.3h0M77.5 335.5h0M114.8 335.9h0M98.0 332.7h0M119.5 335.9h0M73.4 335.4h0M117.5 336.1h0M106.4 333.5h0M100.8 335.1h0M132.2 335.9h0M106.8 335.5h0M120.6 333.4h0M79.8 335.1h0M66.6 334.8h0M84.5 333.3h0M77.7 333.2h0M76.6 335.5h0M71.3 335.3h0M113.2 336.2h0M76.0 335.7h0M94.3 335.7h0M106.6 335.3h0M85.1 334.3h0M123.6 332.8h0M121.5 336.2h0M118.1 332.9h0M121.8 336.1h0M58.0 334.4h0M131.2 336.2h0M76.4 334.3h0M68.0 336.1h0M117.5 335.9h0M68.7 335.6h0M118.7 332.9h0M126.5 336.0h0M117.9 334.5h0M126.7 334.2h0M122.4 333.6h0M111.0 336.0h0M114.8 334.9h0M125.8 335.2h0M77.5 334.8h0M67.7 335.9h0M61.4 335.0h0M68.1 335.1h0M95.8 335.0h0M124.3 334.8h0M122.5 336.2h0M100.8 335.1h0M122.5 334.2h0M89.6 335.5h0M62.7 332.6h0M106.5 334.4h0M104.5 336.2h0M129.6 334.2h0M133.6 335.6h0M94.7 335.0h0M59.5 333.0h0M105.7 334.0h0M124.2 335.6h0M93.9 335.5h0M117.1 334.9h0M90.8 335.9h0M100.1 335.3h0M79.7 333.4h0M88.4 333.4h0M78.0 335.0h0M133.0 335.0h0M118.7 334.3h0M81.6 335.6h0M102.7 335.7h0M118.1 334.4h0M113.3 336.2h0M99.5 333.0h0M80.3 336.2h0M71.7 336.2h0M104.4 332.8h0M118.5 334.3h0M104.6 332.9h0M105.8 334.5h0M103.4 334.1h0M73.4 334.2h0M92.6 334.2h0M64.7 333.7h0M59.7 336.0h0M128.3 333.7h0M85.6 334.3h0M118.3 333.4h0M77.0 334.7h0M89.8 335.7h0M90.5 335.6h0M129.8 334.4h0M101.2 336.2h0M66.1 336.2h0M101.8 333.5h0M91.7 332.8h0M87.1 336.2h0M130.1 334.6h0M94.0 332.4h0M64.8 335.3h0M73.4 334.4h0M58.0 336.0h0M110.3 336.2h0M132.4 336.1h0M124.8 336.1h0M58.2 336.1h0M75.7 334.0h0M71.5 333.9h0M117.3 336.2h0M123.7 334.0h0M63.4 333.9h0M112.3 334.4h0M129.7 335.2h0M132.2 335.8h0M57.7 334.0h0M107.7 336.2h0M63.0 333.4h0M113.8 335.7h0M124.1 336.0h0M61.5 335.1h0M101.8 335.5h0M109.7 335.2h0M119.2 336.1h0M107.2 335.5h0M89.5 334.4h0M118.3 335.4h0M118.2 329.8h0M79.7 331.2h0M133.0 332.3h0M121.5 330.8h0M104.2 331.9h0M121.8 329.6h0M80.9 331.1h0M126.3 331.6h0M110.4 331.8h0M126.9 331.1h0M79.0 330.4h0M77.4 332.3h0M102.7 331.7h0M126.2 330.3h0M122.0 332.3h0M124.6 330.3h0M78.2 331.2h0M119.9 330.2h0M128.3 330.8h0M63.5 331.8h0M119.2 331.3h0M115.5 332.1h0M75.1 329.8h0M109.8 331.1h0M73.0 331.5h0M60.8 327.5h0M59.3 328.6h0M61.0 327.2h0M58.2 328.5h0M76.5 328.4h0M74.6 328.8h0M74.9 328.2h0M130.6 331.8h0M158.3 333.2h0M143.9 329.9h0M137.5 331.6h0M142.2 330.5h0M151.9 329.4h0M157.6 330.2h0M131.1 332.8h0M135.2 332.9h0M131.5 333.1h0M154.9 331.6h0M157.1 332.1h0M131.8 329.6h0M141.4 331.4h0M157.4 333.1h0M146.1 332.8h0M157.4 331.2h0M141.2 331.1h0M134.6 332.1h0M158.4 329.2h0M131.1 332.9h0M140.1 332.8h0M155.9 329.7h0M131.3 330.1h0M150.3 330.4h0M158.2 331.2h0M134.1 333.2h0M156.9 330.6h0M138.5 331.0h0M151.7 331.5h0M139.3 333.1h0M133.6 332.8h0M134.8 332.0h0M134.1 332.8h0M130.4 331.0h0M135.6 330.8h0M156.5 333.2h0M156.7 332.9h0M155.4 329.9h0M142.8 333.1h0M156.6 333.1h0M148.0 330.1h0M139.7 332.1h0M143.7 330.2h0M134.1 331.3h0M132.1 334.0h0M133.1 334.4h0M154.4 336.3h0M147.1 336.1h0M144.9 336.3h0M145.9 334.0h0M148.4 336.2h0M155.0 335.9h0M156.2 336.3h0M154.8 336.4h0M144.0 334.8h0M145.2 335.5h0M143.8 336.1h0M156.4 335.8h0M155.3 333.2h0M145.2 336.3h0M141.5 333.7h0M145.3 334.5h0M140.9 333.3h0M146.0 334.2h0M140.6 336.3h0M149.0 334.1h0M147.5 336.2h0M144.1 333.7h0M142.8 335.2h0M152.9 336.2h0M143.7 334.6h0M142.0 336.4h0M148.5 335.0h0M143.9 336.0h0M151.9 335.0h0M149.9 334.2h0M141.6 336.2h0M147.1 334.5h0M167.1 317.3h0M170.8 317.0h0M164.7 327.1h0M168.3 326.7h0M175.0 326.5h0M164.2 328.0h0M170.1 326.2h0M167.4 326.4h0M174.6 328.8h0M166.1 328.4h0M171.6 328.4h0M170.6 329.0h0M170.5 328.2h0M173.1 328.9h0M175.0 326.7h0M173.0 328.5h0M173.5 328.4h0M175.1 329.0h0M170.3 326.0h0M170.7 327.9h0M164.3 327.9h0M166.8 325.9h0M165.3 328.8h0M174.4 328.7h0M166.0 334.2h0M167.1 331.9h0M171.4 334.2h0M170.5 332.6h0M166.1 331.9h0M172.6 330.9h0M166.3 334.2h0M170.3 332.9h0M166.3 333.7h0M166.5 333.3h0M174.1 332.5h0M171.1 334.0h0M166.7 331.6h0M174.9 331.2h0M169.5 333.4h0M170.6 331.1h0M175.0 333.3h0M168.6 331.5h0M181.4 324.2h0M182.5 328.4h0M184.9 320.7h0M188.9 319.4h0M193.1 321.8h0M196.3 312.5h0M194.7 331.0h0M196.8 331.0h0M173.2 336.2h0M199.2 335.9h0M196.5 334.9h0M193.9 334.8h0M180.6 336.4h0M197.4 334.4h0M176.7 336.2h0M174.4 335.4h0M162.5 335.7h0M180.0 335.9h0M165.3 336.4h0M191.0 334.3h0M185.2 334.4h0M195.3 334.9h0M161.1 334.6h0M170.4 335.4h0M170.7 335.3h0M197.0 335.6h0M169.8 335.4h0M177.2 335.7h0M171.3 334.4h0M185.8 336.1h0M183.6 336.3h0M180.4 334.4h0M178.5 336.2h0M165.7 335.6h0M165.0 336.3h0M176.1 336.1h0M169.5 336.1h0M181.7 336.4h0M184.3 334.8h0M185.9 335.6h0M188.3 336.3h0M181.8 335.8h0M178.6 335.4h0M169.5 336.1h0M180.4 336.2h0M183.3 336.0h0M173.9 336.4h0M169.3 334.7h0M179.5 335.6h0M199.5 336.1h0M190.8 336.1h0M162.4 336.3h0M177.4 334.7h0M175.3 336.4h0M189.3 335.9h0M168.8 336.3h0M189.5 334.4h0M173.3 336.3h0M195.1 335.5h0M197.7 335.3h0M192.8 335.2h0M196.1 335.2h0M192.1 335.2h0M195.6 335.2h0M186.9 335.1h0M185.1 335.1h0M193.8 335.2h0M199.4 335.4h0M191.3 335.4h0M198.1 335.2h0M190.7 335.3h0M191.9 335.4h0M189.4 335.3h0M193.3 335.5h0M189.8 335.5h0M197.7 335.2h0M210.5 278.7h0M211.1 280.5h0M209.3 283.7h0M219.5 292.1h0M220.7 293.0h0M223.7 293.6h0M225.5 294.8h0M245.8 291.2h0M247.0 294.0h0M210.9 299.6h0M210.9 299.9h0M211.2 301.3h0M210.8 300.3h0M216.9 305.0h0M214.6 304.9h0M220.0 304.7h0M215.9 304.9h0M216.1 304.8h0M224.9 303.8h0M230.2 304.4h0M240.5 303.0h0M241.6 303.8h0M242.9 302.9h0M241.4 302.8h0M247.6 302.0h0M250.6 304.0h0M253.5 306.8h0M255.9 307.3h0M258.3 308.0h0M260.1 299.2h0M259.8 311.5h0M264.0 311.2h0M260.0 311.4h0M263.3 311.1h0M259.5 318.1h0M234.4 313.1h0M238.0 313.1h0M240.4 312.1h0M247.6 313.9h0M227.9 316.3h0M206.3 321.7h0M212.3 326.5h0M206.9 328.9h0M209.9 329.4h0M202.8 329.4h0M196.2 331.2h0M232.6 328.9h0M224.9 331.2h0M227.9 331.8h0M230.8 332.4h0M243.4 330.6h0M246.4 329.4h0M235.6 332.4h0M236.2 335.9h0M235.9 336.1h0M204.8 335.7h0M200.6 335.8h0M206.2 335.3h0M220.3 334.9h0M205.6 335.9h0M204.1 335.5h0M200.3 334.9h0M218.3 335.7h0M228.2 336.0h0M223.3 335.9h0M208.4 335.6h0M198.7 335.9h0M231.6 336.1h0M223.5 336.0h0M219.2 336.2h0M216.5 335.9h0M197.8 336.0h0M204.7 336.0h0M225.8 336.2h0M212.3 336.0h0M228.3 334.8h0M232.0 334.9h0M206.9 336.1h0M224.2 336.2h0M210.1 335.4h0M223.3 335.8h0M205.7 335.3h0M210.1 335.0h0M202.8 335.5h0M234.2 336.2h0M225.6 335.3h0M196.7 336.2h0M203.5 336.1h0M211.4 336.0h0M208.4 336.2h0M202.7 335.5h0M219.5 335.0h0M206.0 335.3h0M224.4 335.8h0M195.0 335.9h0M228.4 335.0h0M196.8 336.0h0M221.1 335.0h0M205.5 336.2h0M229.0 336.2h0M234.3 336.1h0M198.7 335.2h0M211.9 335.3h0M230.6 335.2h0M198.9 336.0h0M213.2 334.7h0M224.7 334.8h0M230.7 335.2h0M214.5 335.5h0M225.0 336.2h0M217.0 335.8h0M250.0 334.8h0M256.5 335.4h0M260.6 299.6h0M262.4 310.7h0M260.8 311.0h0M275.1 311.1h0M270.2 311.5h0M271.9 310.7h0M264.7 311.2h0M266.7 311.6h0M263.8 311.4h0M262.6 311.5h0M272.5 311.0h0M264.5 311.5h0M268.3 311.3h0M266.6 310.7h0M276.5 311.5h0M270.5 311.6h0M275.2 311.4h0M274.2 311.2h0M272.5 311.6h0M284.5 311.3h0M265.9 318.4h0M270.6 318.6h0M263.7 317.8h0M262.6 318.1h0M263.6 317.8h0M269.0 317.9h0M280.3 318.3h0M281.5 318.2h0M280.5 318.2h0M288.6 322.4h0M289.2 323.5h0M290.4 325.4h0M293.0 326.5h0M292.9 325.4h0M292.4 326.5h0M268.8 329.4h0M272.8 329.1h0M277.5 330.0h0M279.3 331.1h0M276.4 331.7h0M284.0 332.3h0M284.5 334.6h0M297.1 332.8h0M291.5 331.5h0M288.2 330.8h0M300.1 327.8h0M305.5 330.2h0M292.7 330.0h0M290.6 332.4h0M302.5 332.9h0M293.5 328.5h0M299.9 332.6h0M305.3 328.5h0M302.7 332.6h0M301.9 328.6h0M291.5 332.0h0M294.0 328.6h0M298.3 331.8h0M303.5 331.8h0M288.8 332.4h0M299.7 330.7h0M301.2 328.7h0M305.7 327.9h0M297.3 331.1h0M293.6 332.6h0M289.5 330.6h0M291.1 329.8h0M306.1 331.4h0M288.7 332.8h0M291.6 331.4h0M288.1 329.5h0M317.7 329.4h0M315.7 329.3h0M316.8 327.5h0M315.7 328.3h0M315.8 327.7h0M327.7 329.1h0M335.9 330.5h0M337.7 329.4h0M326.9 334.0h0M292.1 332.4h0M306.7 335.8h0M301.7 334.6h0M287.9 336.1h0M307.6 335.7h0M331.2 331.9h0M334.7 332.7h0M316.0 332.0h0M286.6 333.1h0M315.4 334.0h0M313.4 335.8h0M308.7 332.1h0M299.1 334.2h0M330.0 335.6h0M293.3 336.4h0M306.9 334.0h0M318.1 336.3h0M313.9 335.5h0M311.3 335.3h0M304.2 334.6h0M292.9 336.3h0M312.2 332.5h0M328.8 336.3h0M288.4 335.9h0M296.6 334.8h0M312.5 335.0h0M313.5 336.0h0M310.4 336.3h0M287.6 334.5h0M287.3 335.4h0M328.8 335.2h0M321.0 334.7h0M289.4 333.5h0M321.4 331.8h0M327.1 336.3h0M292.4 335.4h0M313.0 332.0h0M290.6 333.4h0M286.4 333.3h0M303.0 336.0h0M314.7 336.4h0M299.2 336.1h0M305.8 333.8h0M316.1 332.6h0M313.0 332.7h0M329.2 332.3h0M322.6 336.2h0M323.6 335.6h0M326.8 334.0h0M303.0 336.3h0M333.3 333.6h0M285.7 333.7h0M288.6 334.4h0M325.6 334.7h0M332.1 336.3h0M296.8 334.0h0M306.9 336.1h0M314.0 332.9h0M284.5 336.3h0M325.5 336.3h0M312.6 336.1h0M319.5 335.8h0M291.0 335.5h0M311.7 332.7h0M325.9 333.9h0M284.1 332.1h0M291.3 335.6h0M329.3 334.9h0M285.3 333.2h0M326.4 336.1h0M304.0 334.0h0M291.7 335.1h0M304.1 332.9h0M315.5 332.7h0M300.7 336.3h0M330.4 336.1h0M285.7 334.5h0M302.4 336.2h0M313.8 335.1h0M302.0 335.5h0M313.9 336.4h0M284.5 335.7h0M335.3 335.1h0M291.1 336.4h0M297.7 334.0h0M309.7 335.9h0M313.3 335.9h0M333.7 334.8h0M285.2 331.8h0M323.1 335.1h0M323.2 334.0h0M319.0 334.9h0M308.4 335.6h0M326.2 334.3h0M320.4 333.8h0M322.9 335.7h0M315.3 334.5h0M310.5 334.8h0M312.2 335.1h0M310.1 336.0h0M329.7 335.6h0M311.0 335.3h0M307.0 335.8h0M304.1 335.6h0M326.1 336.0h0M313.4 335.3h0M309.1 335.0h0M302.0 335.9h0M309.3 335.7h0M316.5 334.5h0M310.2 333.8h0M317.5 333.8h0M305.4 336.0h0M329.6 335.0h0M323.2 335.6h0M326.0 335.4h0M130.0 532.0h0M91.5 531.7h0M148.1 531.7h0M88.9 533.2h0M145.0 532.9h0M66.1 534.1h0M120.8 533.1h0M96.0 531.7h0M84.6 530.4h0M72.9 531.8h0M76.7 534.2h0M107.8 534.2h0M80.7 532.8h0M96.3 530.7h0M80.3 534.0h0M143.3 531.9h0M67.8 534.0h0M85.8 531.7h0M107.6 530.4h0M94.5 532.4h0M104.3 531.5h0M141.8 533.6h0M127.4 534.1h0M120.0 534.2h0M138.5 533.4h0M113.1 534.2h0M143.2 533.3h0M118.4 530.7h0M86.6 533.9h0M102.0 533.8h0M82.5 533.9h0M119.7 531.8h0M149.5 533.7h0M113.5 533.9h0M138.4 534.0h0M87.9 531.1h0M135.0 531.8h0M93.4 533.7h0M140.8 533.1h0M123.1 534.0h0M103.7 532.6h0M140.1 532.7h0M140.1 533.9h0M131.4 533.5h0M80.7 531.2h0M149.6 531.2h0M67.4 533.7h0M147.8 534.1h0M142.5 534.2h0M127.6 534.0h0M79.6 534.1h0M72.9 532.2h0M143.1 533.6h0M140.0 532.0h0M68.1 530.4h0M132.4 533.9h0M68.5 532.1h0M84.9 533.0h0M74.2 533.3h0M149.2 534.2h0M139.7 533.6h0M106.6 534.1h0M101.6 534.1h0M123.4 534.0h0M127.8 534.0h0M74.8 533.0h0M107.3 533.5h0M94.9 530.8h0M147.2 533.9h0M127.2 531.0h0M80.3 533.8h0M71.1 533.8h0M108.4 534.2h0M112.4 533.4h0M66.2 533.5h0M120.6 532.1h0M111.8 532.8h0M148.5 532.1h0M126.1 531.1h0M92.3 533.4h0M147.7 533.3h0M97.9 533.4h0M77.4 533.3h0M65.7 530.3h0M143.8 532.5h0M117.0 533.8h0M85.7 533.5h0M75.1 534.0h0M131.7 531.3h0M69.5 530.9h0M92.8 532.1h0M111.8 532.3h0M147.6 533.7h0M128.5 534.2h0M108.5 531.2h0M149.6 532.6h0M118.6 533.9h0M97.4 531.8h0M98.6 532.0h0M117.2 532.9h0M92.6 532.2h0M111.3 532.4h0M117.2 533.9h0M142.3 533.8h0M126.4 533.1h0M105.7 532.9h0M77.3 533.9h0M110.1 530.8h0M110.0 532.9h0M85.5 531.5h0M134.9 534.0h0M119.6 533.2h0M141.0 528.3h0M69.0 528.1h0M135.8 529.8h0M75.7 528.3h0M86.6 530.2h0M95.5 530.2h0M109.5 528.4h0M72.8 529.6h0M149.7 529.7h0M103.4 528.8h0M132.9 529.5h0M78.0 528.5h0M96.4 528.8h0M85.4 529.4h0M94.1 529.8h0M66.8 529.8h0M202.6 479.1h0M203.1 480.2h0M201.5 483.0h0M203.7 498.6h0M203.8 498.4h0M203.6 498.6h0M203.4 499.0h0M206.2 503.4h0M208.3 503.4h0M188.6 510.4h0M163.6 515.1h0M162.3 514.4h0M162.8 514.8h0M162.4 514.9h0M177.7 518.4h0M181.9 517.4h0M185.5 519.2h0M198.9 520.0h0M204.1 524.6h0M163.3 523.6h0M162.7 523.6h0M161.9 524.7h0M164.3 524.0h0M163.9 523.9h0M160.7 523.1h0M174.2 522.1h0M174.2 522.3h0M175.2 526.7h0M194.8 526.7h0M198.9 527.2h0M200.0 526.7h0M187.6 528.8h0M189.6 528.5h0M142.2 529.9h0M147.0 528.2h0M146.2 528.9h0M148.4 529.5h0M142.6 530.9h0M141.8 528.7h0M142.6 528.2h0M141.2 531.3h0M151.8 529.0h0M148.2 530.6h0M151.2 531.0h0M141.9 529.5h0M148.6 531.4h0M150.4 531.4h0M142.9 530.9h0M144.0 529.9h0M141.9 530.0h0M144.0 528.2h0M141.9 528.6h0M152.2 528.9h0M140.4 530.6h0M147.9 530.7h0M165.4 531.9h0M164.4 532.3h0M163.9 528.8h0M160.0 529.2h0M160.1 527.9h0M171.0 527.0h0M165.1 526.8h0M162.9 531.6h0M164.8 528.6h0M159.8 526.9h0M169.3 530.6h0M165.3 529.8h0M160.3 532.3h0M169.7 531.7h0M161.4 527.7h0M159.0 527.0h0M170.6 529.8h0M170.3 531.4h0M159.2 529.4h0M164.2 531.4h0M167.8 531.8h0M168.4 532.1h0M159.5 531.6h0M159.8 530.1h0M168.4 530.1h0M164.3 529.8h0M165.0 532.4h0M167.7 534.0h0M165.6 533.9h0M159.5 533.6h0M153.2 533.0h0M176.5 533.9h0M173.6 533.7h0M162.7 532.3h0M151.1 533.9h0M151.8 532.3h0M164.4 533.4h0M162.3 533.9h0M164.4 533.9h0M159.3 533.3h0M160.4 533.9h0M152.1 533.9h0M174.4 533.8h0M175.0 533.3h0M176.6 534.0h0M172.0 533.4h0M169.0 533.2h0M170.8 533.8h0M156.2 533.9h0M160.1 534.0h0M157.1 533.3h0M150.8 532.3h0M155.3 533.2h0M171.8 533.1h0M150.2 532.8h0M166.3 533.8h0M179.4 533.0h0M196.1 533.6h0M187.1 533.3h0M190.2 533.3h0M178.6 533.1h0M188.9 533.1h0M180.6 533.8h0M197.2 533.9h0M182.2 533.5h0M181.9 533.8h0M183.9 533.9h0M203.4 533.8h0M198.6 533.0h0M191.1 533.7h0M201.6 533.3h0M194.7 533.4h0M194.4 533.9h0M198.5 533.2h0M196.7 534.0h0M182.5 533.8h0M195.6 533.1h0M181.8 533.4h0M202.4 533.3h0M197.4 533.2h0M198.9 533.3h0M189.5 533.6h0M198.5 533.3h0M186.0 533.2h0M192.0 533.1h0M181.3 533.1h0M198.5 533.1h0M199.8 533.9h0M183.4 533.9h0M184.4 533.7h0M201.6 533.7h0M196.6 533.5h0M198.4 533.8h0M195.8 533.3h0M199.5 533.1h0M180.5 533.8h0M208.4 533.1h0M207.2 532.7h0M208.2 533.2h0M206.6 532.4h0M177.2 530.3h0M236.2 488.4h0M237.5 491.5h0M250.0 496.8h0M217.1 492.9h0M213.0 491.4h0M212.3 492.9h0M213.8 491.6h0M206.9 503.2h0M207.8 503.4h0M206.9 503.9h0M211.5 503.3h0M216.2 502.9h0M221.4 502.9h0M231.1 501.2h0M234.6 500.1h0M237.7 500.7h0M240.3 501.2h0M247.0 504.4h0M246.6 504.7h0M242.7 504.2h0M244.7 504.9h0M246.0 504.6h0M243.5 504.9h0M272.9 508.6h0M256.5 508.4h0M255.8 508.3h0M250.1 508.0h0M263.7 507.9h0M273.4 508.6h0M255.3 508.7h0M263.3 508.8h0M266.6 508.1h0M270.0 508.5h0M257.0 508.8h0M274.1 508.2h0M267.0 508.2h0M259.3 508.0h0M268.3 507.7h0M259.2 508.6h0M258.1 508.0h0M271.7 508.7h0M262.6 508.4h0M272.4 508.2h0M257.8 508.8h0M259.7 508.8h0M271.2 508.4h0M264.0 508.2h0M263.9 508.5h0M230.6 510.8h0M230.6 511.1h0M229.6 510.7h0M228.5 511.1h0M238.2 511.9h0M218.8 514.0h0M270.0 515.7h0M268.2 515.9h0M269.6 516.0h0M265.5 516.4h0M263.3 516.0h0M250.6 516.3h0M268.3 516.1h0M254.0 516.3h0M251.2 516.3h0M271.8 516.0h0M257.4 515.9h0M250.7 516.0h0M256.6 515.8h0M263.7 516.4h0M255.1 515.5h0M257.6 511.4h0M216.2 528.8h0M221.3 528.5h0M222.5 528.3h0M225.1 529.4h0M225.3 528.3h0M220.9 528.4h0M221.7 529.5h0M223.9 526.2h0M233.6 527.2h0M236.7 526.7h0M240.3 531.3h0M246.4 532.8h0M218.4 532.6h0M223.6 532.7h0M224.7 532.7h0M217.6 532.1h0M223.3 532.8h0M216.9 532.8h0M206.5 532.6h0M222.0 532.3h0M214.4 532.4h0M218.8 532.5h0M225.4 532.7h0M223.9 531.8h0M212.7 531.9h0M206.7 531.8h0M208.1 532.5h0M221.0 532.5h0M215.7 532.2h0M209.5 532.6h0M211.6 532.6h0M222.3 532.7h0M215.3 532.5h0M221.5 532.7h0M211.2 532.7h0M221.5 532.4h0M222.6 531.8h0M258.1 526.7h0M262.2 526.2h0M265.3 528.2h0M268.4 528.8h0M273.0 529.3h0M274.8 532.2h0M274.2 532.0h0M272.6 531.4h0M274.1 508.3h0M271.7 516.0h0M271.3 516.4h0M277.2 519.5h0M277.7 521.6h0M280.7 523.8h0M281.8 523.5h0M280.5 525.7h0M279.9 523.2h0M282.6 526.9h0M279.4 528.5h0M276.9 526.1h0M281.7 526.2h0M283.2 527.3h0M281.8 528.9h0M292.7 527.5h0M285.4 528.6h0M289.5 527.2h0M286.9 528.4h0M293.6 528.7h0M293.9 526.4h0M288.8 524.7h0M288.2 526.3h0M292.9 525.8h0M284.4 528.6h0M290.3 528.4h0M284.4 527.9h0M292.3 525.7h0M284.7 527.6h0M302.7 524.6h0M303.7 527.7h0M305.8 528.7h0M272.6 530.3h0M272.6 532.3h0M278.9 533.1h0M277.4 532.5h0M281.5 532.9h0M279.7 532.8h0M288.5 533.1h0M289.8 530.8h0M291.7 533.2h0M288.1 533.2h0M291.7 532.5h0M292.8 531.9h0M286.9 532.6h0M286.8 531.6h0M290.0 532.5h0M292.9 531.8h0M292.3 533.0h0M290.6 531.7h0M294.7 533.2h0M286.9 532.0h0M295.4 533.0h0M289.9 533.1h0M293.9 531.3h0M293.1 531.9h0M295.9 528.3h0M298.8 529.7h0M295.7 528.3h0M299.3 528.6h0M323.3 533.5h0M322.2 530.2h0M309.6 530.2h0M301.3 533.6h0M304.2 531.2h0M324.6 529.9h0M327.9 533.6h0M318.0 533.6h0M327.2 533.7h0M331.6 530.4h0M329.4 533.8h0M328.4 532.3h0M321.6 532.5h0M327.6 532.1h0M302.5 533.7h0M310.5 532.3h0M301.0 532.9h0M301.5 531.3h0M328.0 530.8h0M304.8 532.7h0M307.7 531.8h0M304.4 532.8h0M319.1 529.9h0M303.9 533.1h0M329.3 531.4h0M304.1 530.7h0M310.9 533.1h0M305.7 531.2h0M333.7 532.0h0M300.9 531.2h0M304.5 533.7h0M320.9 531.6h0M316.1 532.5h0M321.3 532.9h0M331.6 531.8h0M327.5 531.4h0M328.9 530.3h0M301.7 531.5h0M329.3 531.7h0M330.3 532.8h0M332.5 533.6h0M324.5 532.8h0M310.8 533.4h0M311.6 533.1h0M315.6 533.7h0M322.7 529.8h0M326.4 530.2h0M334.2 530.8h0M309.9 531.3h0M314.6 533.4h0M308.5 533.8h0M331.7 530.5h0M326.7 533.2h0M330.7 531.1h0M318.6 531.0h0M328.5 533.7h0M321.8 533.2h0M318.8 533.1h0M306.1 529.9h0M322.6 532.4h0M332.3 532.4h0M331.5 532.9h0M333.3 531.6h0M307.9 533.7h0M331.3 533.3h0M309.5 533.8h0M334.1 531.5h0M315.5 533.6h0M324.0 531.6h0M326.1 531.3h0M309.4 533.4h0M324.0 533.8h0M314.5 526.2h0M323.7 525.5h0M326.0 528.6h0M326.1 527.0h0M326.3 527.1h0M322.5 525.8h0M322.2 524.9h0M91.3 724.6h0M135.0 724.4h0M95.2 725.4h0M88.5 727.2h0M86.1 724.2h0M118.7 725.4h0M87.8 725.4h0M81.5 727.1h0M103.2 723.7h0M117.3 725.5h0M79.0 726.9h0M138.8 727.2h0M147.2 727.1h0M128.9 726.6h0M133.9 727.1h0M101.9 726.9h0M82.6 726.0h0M134.5 726.9h0M103.0 726.8h0M91.1 724.9h0M90.7 727.0h0M101.8 726.5h0M109.9 725.5h0M77.9 724.4h0M137.6 725.4h0M76.3 726.9h0M82.9 726.3h0M128.1 726.2h0M83.0 727.1h0M87.3 726.2h0M107.5 726.9h0M79.3 727.1h0M109.7 726.6h0M116.2 724.0h0M91.0 727.2h0M116.8 725.0h0M147.2 724.4h0M82.5 724.4h0M113.9 723.9h0M87.1 726.9h0M90.2 724.4h0M94.2 727.1h0M109.1 724.1h0M79.7 725.1h0M98.2 726.3h0M124.4 727.0h0M83.2 726.6h0M110.7 723.7h0M74.9 727.0h0M113.2 725.5h0M109.8 727.2h0M114.9 725.0h0M112.0 726.9h0M123.5 725.7h0M135.1 727.1h0M130.3 723.9h0M102.0 724.4h0M87.9 724.2h0M119.5 726.9h0M80.3 724.2h0M76.8 726.9h0M84.8 726.3h0M130.9 727.0h0M145.4 725.8h0M125.6 726.4h0M146.1 727.2h0M110.3 726.9h0M146.1 726.0h0M149.4 726.1h0M90.5 725.6h0M89.4 724.6h0M108.8 723.6h0M147.1 726.9h0M105.0 726.7h0M124.9 726.6h0M102.5 727.2h0M136.9 727.0h0M120.2 727.2h0M108.6 726.8h0M128.1 725.8h0M92.3 727.1h0M147.0 727.1h0M84.5 727.1h0M118.2 726.0h0M78.4 724.3h0M86.8 726.9h0M108.4 725.8h0M141.5 726.4h0M139.4 725.4h0M94.5 723.9h0M105.0 723.9h0M143.5 727.2h0M75.4 727.1h0M96.0 726.8h0M140.2 723.8h0M114.3 726.4h0M135.4 724.5h0M113.0 725.5h0M92.6 727.1h0M118.6 725.4h0M142.3 724.7h0M88.7 723.8h0M142.2 727.2h0M87.9 725.8h0M93.5 725.3h0M101.9 726.9h0M125.5 726.0h0M130.4 727.2h0M109.9 725.6h0M134.8 725.4h0M110.2 727.2h0M127.9 725.3h0M87.8 725.5h0M133.7 723.9h0M106.8 726.9h0M89.8 723.9h0M147.1 726.4h0M91.7 724.2h0M101.4 725.1h0M132.3 725.4h0M91.0 727.1h0M94.3 726.9h0M84.4 727.2h0M106.0 726.4h0M118.3 727.2h0M117.9 723.9h0M127.6 723.2h0M87.4 723.0h0M75.4 722.9h0M86.3 722.4h0M147.2 723.2h0M137.5 722.1h0M122.3 722.5h0M147.4 722.3h0M132.3 723.4h0M93.5 723.3h0M119.7 721.9h0M140.5 721.8h0M89.2 722.6h0M114.7 723.6h0M94.8 722.2h0M74.5 723.6h0M95.1 720.6h0M147.7 716.3h0M147.6 716.1h0M158.8 720.2h0M155.0 726.1h0M148.3 727.0h0M148.5 726.9h0M172.0 725.7h0M175.7 726.7h0M158.3 725.2h0M152.3 726.1h0M166.7 724.4h0M151.0 727.0h0M159.9 725.4h0M153.9 725.3h0M176.1 725.0h0M167.7 726.9h0M172.5 726.8h0M175.7 724.9h0M148.6 726.8h0M166.9 725.5h0M152.5 726.9h0M149.2 725.8h0M154.3 725.6h0M161.4 726.7h0M173.1 726.0h0M173.1 727.0h0M156.3 726.8h0M171.8 725.6h0M180.0 725.7h0M157.1 726.8h0M155.1 725.5h0M153.8 726.9h0M177.1 725.1h0M182.2 725.3h0M157.0 725.0h0M173.0 726.6h0M168.6 727.0h0M146.9 727.0h0M150.9 726.0h0M179.0 724.3h0M152.7 726.2h0M164.7 726.9h0M159.1 726.0h0M165.5 725.3h0M149.1 725.1h0M160.0 727.0h0M154.8 726.1h0M153.6 725.5h0M163.5 726.6h0M174.9 725.3h0M162.3 726.4h0M181.2 724.4h0M149.1 725.7h0M169.7 726.2h0M146.5 726.7h0M180.3 724.1h0M163.1 726.9h0M156.6 725.7h0M174.1 727.0h0M162.0 725.1h0M160.3 727.0h0M182.4 726.9h0M156.2 727.0h0M150.2 725.1h0M147.7 726.9h0M165.6 726.9h0M151.6 724.8h0M174.7 726.8h0M158.1 726.3h0M154.4 726.9h0M149.5 724.1h0M188.9 706.7h0M191.4 709.8h0M192.4 710.4h0M192.7 710.0h0M188.7 710.1h0M193.5 709.5h0M183.5 712.5h0M182.9 712.7h0M191.5 712.0h0M192.0 713.5h0M200.2 712.0h0M195.6 719.1h0M194.0 719.2h0M187.7 718.9h0M190.2 719.0h0M186.6 717.1h0M188.5 717.6h0M193.2 719.1h0M187.0 718.9h0M194.1 718.7h0M191.3 717.6h0M193.5 719.2h0M195.0 718.3h0M188.6 717.3h0M194.1 717.6h0M198.9 715.6h0M198.9 715.8h0M198.0 715.9h0M200.9 715.6h0M198.1 719.7h0M202.2 720.2h0M204.3 720.7h0M207.3 720.7h0M210.9 715.1h0M214.5 721.2h0M179.7 721.7h0M184.9 723.2h0M193.1 723.7h0M194.1 724.2h0M195.4 723.5h0M196.0 724.1h0M194.1 724.0h0M190.0 724.1h0M203.9 725.1h0M199.5 724.4h0M203.1 725.4h0M203.3 724.5h0M212.3 724.4h0M199.6 724.3h0M210.4 724.1h0M208.8 725.0h0M212.7 726.3h0M205.3 725.4h0M211.1 725.9h0M212.7 724.7h0M203.2 726.1h0M198.9 726.1h0M197.6 725.9h0M201.2 724.6h0M198.3 726.3h0M200.7 724.8h0M204.3 725.6h0M214.2 724.6h0M208.4 726.0h0M205.5 724.2h0M210.2 724.2h0M212.7 726.0h0M199.0 725.3h0M211.9 725.3h0M205.8 725.5h0M212.9 725.7h0M200.8 725.0h0M226.7 704.8h0M227.0 704.6h0M226.6 705.5h0M236.5 711.2h0M239.2 711.2h0M235.9 711.6h0M238.7 711.2h0M238.0 710.8h0M227.3 713.2h0M233.5 713.2h0M227.6 713.3h0M228.0 713.2h0M232.6 713.6h0M250.5 716.2h0M250.3 715.9h0M250.3 715.5h0M244.3 715.8h0M249.7 716.1h0M252.9 715.1h0M255.5 712.0h0M257.1 708.3h0M258.1 708.8h0M258.5 708.5h0M259.2 714.0h0M259.1 714.1h0M261.6 714.8h0M265.8 719.1h0M273.4 719.0h0M279.5 717.4h0M279.6 718.6h0M269.7 718.3h0M267.0 718.9h0M279.9 715.8h0M266.1 717.2h0M265.7 719.0h0M275.6 718.6h0M272.1 719.2h0M263.7 717.3h0M276.5 718.3h0M270.7 717.8h0M273.3 716.3h0M269.8 718.6h0M277.6 715.9h0M272.6 716.1h0M266.1 719.1h0M274.8 718.5h0M276.7 719.2h0M271.8 716.8h0M276.6 719.2h0M274.4 718.4h0M275.4 717.8h0M279.3 718.4h0M278.8 715.9h0M210.0 715.1h0M214.1 718.1h0M214.6 721.2h0M223.3 719.2h0M225.8 720.7h0M227.9 719.7h0M241.7 720.7h0M250.4 719.7h0M252.9 719.2h0M257.5 721.2h0M259.0 717.6h0M269.3 721.2h0M274.4 721.2h0M217.8 725.8h0M216.6 726.2h0M229.4 725.3h0M230.1 725.5h0M226.9 725.1h0M228.6 726.2h0M225.0 726.3h0M231.0 726.3h0M216.7 726.0h0M212.0 725.3h0M228.5 725.3h0M228.6 726.3h0M232.2 725.9h0M220.5 725.9h0M212.1 725.2h0M212.5 725.6h0M212.8 726.3h0M220.8 725.4h0M216.3 725.6h0M225.9 725.6h0M222.1 726.4h0M215.3 725.7h0M216.8 725.8h0M232.5 726.2h0M234.4 725.2h0M224.0 726.1h0M228.6 725.5h0M231.2 726.1h0M233.3 726.1h0M220.2 723.2h0M224.3 723.8h0M239.1 725.6h0M239.4 724.8h0M238.3 725.0h0M244.3 723.8h0M239.2 724.8h0M242.2 725.1h0M247.6 726.1h0M243.5 726.3h0M248.1 726.3h0M238.0 724.2h0M243.4 725.6h0M246.6 724.9h0M249.1 725.9h0M239.3 726.2h0M239.1 724.5h0M243.8 726.2h0M239.6 725.9h0M243.4 724.1h0M255.5 723.8h0M260.6 724.3h0M266.7 725.8h0M278.1 723.6h0M278.1 723.8h0M292.1 718.2h0M284.8 717.8h0M287.1 717.3h0M285.9 718.2h0M292.4 718.3h0M292.5 718.4h0M275.2 718.5h0M278.7 718.0h0M277.1 718.0h0M287.0 717.4h0M291.7 717.7h0M287.2 717.0h0M275.0 717.7h0M282.7 718.5h0M280.6 717.1h0M275.2 717.9h0M291.2 718.2h0M289.8 717.9h0M277.0 719.4h0M279.9 719.9h0M280.4 719.7h0M280.1 720.2h0M286.3 722.3h0M286.8 723.1h0M284.9 722.6h0M290.1 722.9h0M288.8 721.5h0M294.8 725.4h0M297.8 725.0h0M299.7 720.8h0M297.6 720.5h0M294.9 723.3h0M297.1 722.8h0M299.1 725.0h0M294.8 725.5h0M294.9 725.8h0M298.6 723.7h0M296.9 725.8h0M297.2 723.8h0M297.1 724.8h0M294.3 726.0h0M305.0 724.9h0M305.0 723.1h0M305.0 722.6h0M307.5 725.9h0M306.0 725.1h0M304.8 723.0h0M311.3 723.6h0M307.8 724.8h0M308.8 721.9h0M303.2 725.7h0M306.0 725.9h0M309.3 725.9h0M305.7 724.9h0M312.3 724.5h0M304.1 725.6h0M305.9 725.4h0M309.9 722.0h0M304.2 724.9h0M303.8 726.0h0M309.3 722.5h0M309.1 725.8h0M307.8 726.0h0M312.0 717.5h0M317.8 718.1h0M312.6 717.8h0M315.1 718.0h0M311.9 718.0h0M314.9 721.4h0M323.4 726.0h0M316.7 726.1h0M336.4 723.3h0M320.6 725.5h0M319.6 723.4h0M329.7 725.2h0M318.2 725.0h0M326.6 726.4h0M334.8 720.5h0M325.7 726.4h0M319.0 724.7h0M325.6 723.4h0M321.1 722.2h0M332.5 721.1h0M317.9 724.8h0M317.6 724.7h0M329.9 723.3h0M336.0 724.1h0M330.3 726.5h0M317.2 722.3h0M316.0 725.6h0M330.5 724.1h0M329.9 725.5h0M330.3 725.4h0M336.0 725.8h0M314.9 725.0h0M330.6 726.4h0M328.6 721.7h0M333.7 726.2h0M317.3 723.0h0M329.4 725.3h0M315.7 726.5h0M333.8 725.5h0M321.7 720.4h0M331.9 721.3h0M327.6 721.7h0M328.8 720.7h0M327.1 720.9h0M326.1 726.1h0M322.1 724.7h0M325.9 725.4h0M319.6 724.0h0M325.7 725.8h0M323.9 724.6h0M318.8 723.5h0M320.8 724.4h0M330.1 722.6h0M326.0 722.5h0M334.9 725.9h0M322.9 724.6h0M323.5 725.8h0M332.6 723.1h0M330.7 724.7h0M324.6 726.1h0M321.4 725.4h0M331.2 725.4h0M319.3 722.9h0M331.2 718.2h0M330.7 719.4h0M330.8 719.3h0M328.3 718.3h0M290.3 725.9h0M292.2 726.5h0M293.9 726.2h0M291.1 726.3h0M415.7 129.8h0M416.2 134.0h0M416.8 136.1h0M434.1 134.6h0M420.3 147.9h0M455.3 144.6h0M434.8 147.0h0M441.4 148.2h0M464.2 145.3h0M462.6 144.1h0M437.7 147.3h0M468.6 148.0h0M423.0 148.5h0M465.7 148.2h0M432.7 144.0h0M463.9 144.0h0M424.9 147.4h0M435.1 144.8h0M464.6 148.7h0M436.4 147.3h0M428.4 146.3h0M436.0 148.9h0M414.8 147.7h0M456.7 147.7h0M452.1 147.9h0M424.7 146.0h0M451.8 148.9h0M430.6 146.1h0M461.9 148.5h0M427.2 143.5h0M446.3 146.3h0M416.2 148.0h0M450.2 148.0h0M442.7 146.2h0M426.1 148.7h0M437.4 148.0h0M464.5 147.8h0M469.2 148.7h0M462.0 148.3h0M447.0 148.3h0M416.3 147.7h0M459.4 144.6h0M457.5 148.2h0M469.3 147.1h0M435.4 148.9h0M449.1 148.4h0M461.2 144.7h0M435.8 146.6h0M420.0 144.5h0M456.2 148.3h0M469.6 147.3h0M440.0 148.8h0M414.3 148.4h0M419.3 148.8h0M438.3 147.7h0M430.3 146.9h0M443.0 145.4h0M423.6 142.7h0M441.7 146.9h0M462.3 147.7h0M463.2 148.5h0M432.9 147.8h0M445.6 146.1h0M418.9 148.1h0M434.8 143.0h0M450.8 148.7h0M432.5 146.7h0M461.4 147.9h0M437.5 147.9h0M434.3 143.0h0M423.2 147.5h0M451.3 145.7h0M436.8 147.3h0M458.3 148.4h0M460.6 147.2h0M455.1 147.7h0M426.5 148.9h0M452.3 142.9h0M441.9 145.6h0M425.2 147.1h0M450.2 148.6h0M428.6 145.5h0M421.8 145.9h0M423.8 146.1h0M431.7 146.9h0M421.7 146.6h0M448.6 147.0h0M431.4 148.7h0M444.7 145.6h0M457.7 146.1h0M426.6 146.4h0M460.5 147.3h0M456.2 146.5h0M439.2 147.8h0M460.1 142.8h0M420.1 145.8h0M416.1 146.1h0M468.4 143.2h0M429.1 145.2h0M424.1 144.1h0M443.3 144.3h0M463.9 148.9h0M460.5 147.3h0M443.9 145.5h0M425.5 143.9h0M433.1 143.6h0M433.0 148.9h0M418.2 148.8h0M420.9 146.0h0M430.5 148.6h0M465.5 148.2h0M462.7 143.5h0M438.8 142.6h0M429.9 144.6h0M459.4 143.3h0M426.9 145.1h0M465.8 148.8h0M448.4 146.6h0M422.2 143.9h0M440.1 145.4h0M439.6 144.6h0M467.6 148.5h0M455.8 148.2h0M428.0 144.2h0M436.3 145.5h0M426.3 148.4h0M434.7 143.0h0M442.2 146.9h0M456.2 148.9h0M463.1 145.0h0M425.9 147.8h0M455.1 147.8h0M436.9 145.8h0M422.8 146.8h0M440.5 143.4h0M458.1 146.9h0M454.5 148.5h0M459.5 147.8h0M429.6 148.8h0M441.1 145.9h0M446.5 147.7h0M438.6 148.4h0M458.8 148.9h0M460.6 148.3h0M447.8 146.6h0M421.2 146.0h0M430.5 144.7h0M458.1 143.9h0M459.7 145.6h0M451.8 147.3h0M424.8 143.0h0M437.2 148.8h0M422.5 146.9h0M462.6 148.4h0M422.5 147.6h0M446.4 148.5h0M440.7 148.5h0M438.7 146.7h0M460.9 146.9h0M466.1 148.9h0M416.3 148.5h0M446.0 144.8h0M426.3 146.7h0M431.3 144.7h0M426.9 145.2h0M450.4 146.4h0M441.0 147.7h0M450.1 148.8h0M422.8 145.5h0M455.1 146.6h0M461.0 148.8h0M417.0 143.8h0M418.9 148.3h0M419.0 148.3h0M428.2 147.0h0M440.0 148.1h0M458.2 147.7h0M420.6 145.2h0M414.7 148.4h0M420.2 147.9h0M457.7 145.4h0M425.9 142.5h0M456.4 148.9h0M466.2 147.5h0M431.6 147.6h0M467.1 148.8h0M438.8 146.8h0M457.1 147.3h0M440.8 144.2h0M436.9 148.6h0M437.0 143.6h0M445.4 145.7h0M446.3 147.2h0M445.3 148.3h0M418.7 143.9h0M463.3 147.7h0M414.9 142.7h0M449.5 146.0h0M440.4 144.1h0M431.0 148.7h0M454.8 145.3h0M450.1 148.5h0M424.5 141.3h0M421.1 143.0h0M423.6 142.5h0M416.1 142.4h0M418.6 141.2h0M418.9 140.7h0M426.9 141.7h0M425.7 142.9h0M429.0 143.0h0M425.6 143.0h0M416.9 142.4h0M422.0 142.3h0M416.0 142.2h0M418.8 141.8h0M420.1 139.7h0M417.6 142.1h0M419.1 139.7h0M427.3 141.3h0M455.1 142.3h0M442.2 142.6h0M449.0 143.0h0M444.1 140.2h0M455.3 142.1h0M443.1 142.6h0M448.5 141.9h0M457.9 139.9h0M451.2 142.7h0M440.7 142.2h0M458.3 142.1h0M451.7 142.5h0M441.3 141.0h0M442.2 139.9h0M463.2 130.0h0M465.3 131.0h0M464.3 132.0h0M462.2 136.1h0M466.0 138.0h0M468.0 139.0h0M471.4 133.0h0M472.4 135.0h0M472.4 138.1h0M471.4 140.2h0M476.4 93.4h0M477.6 95.5h0M475.8 98.3h0M476.2 98.3h0M478.4 106.3h0M479.8 109.9h0M479.3 111.7h0M478.9 112.6h0M484.7 108.6h0M485.6 111.2h0M486.0 115.7h0M480.2 115.7h0M481.1 116.1h0M480.7 117.0h0M481.6 117.9h0M478.4 120.6h0M478.9 121.4h0M479.8 121.0h0M475.8 125.9h0M478.9 127.7h0M489.6 120.1h0M493.6 117.4h0M493.6 121.9h0M494.0 121.4h0M497.6 124.6h0M481.6 129.4h0M482.9 128.5h0M484.2 128.5h0M482.4 131.2h0M483.8 132.1h0M485.1 133.0h0M486.0 134.3h0M487.3 135.2h0M488.2 136.6h0M489.1 135.7h0M491.8 131.7h0M492.7 133.4h0M491.3 134.8h0M494.4 129.0h0M496.7 131.2h0M498.4 129.4h0M499.3 130.3h0M495.8 136.1h0M497.1 136.1h0M498.4 135.7h0M499.3 136.6h0M483.3 138.3h0M484.2 139.2h0M482.4 140.1h0M471.8 133.4h0M472.2 136.6h0M471.3 138.3h0M470.9 140.1h0M496.7 148.1h0M484.0 149.0h0M487.7 148.8h0M475.6 149.0h0M473.0 148.5h0M477.3 148.9h0M475.1 146.7h0M485.5 144.0h0M479.0 148.3h0M471.7 143.8h0M473.6 144.8h0M485.2 142.6h0M502.2 146.1h0M472.4 148.9h0M491.9 145.2h0M480.4 145.0h0M477.0 146.9h0M480.5 147.3h0M481.2 146.2h0M494.0 148.2h0M499.9 148.9h0M478.5 146.9h0M489.0 148.8h0M496.8 146.8h0M485.4 147.7h0M480.2 143.2h0M503.3 142.2h0M505.2 142.1h0M500.4 148.3h0M477.6 146.0h0M494.2 142.0h0M490.8 144.1h0M502.2 148.9h0M479.7 148.6h0M477.2 145.9h0M496.6 147.1h0M494.6 148.9h0M487.7 148.8h0M495.6 145.6h0M477.1 149.0h0M484.6 142.5h0M484.0 147.4h0M497.6 145.2h0M485.0 145.6h0M489.2 146.3h0M505.4 148.6h0M499.0 142.4h0M487.4 142.1h0M479.0 143.8h0M496.7 144.8h0M501.1 142.7h0M480.0 143.4h0M487.7 144.3h0M483.7 148.0h0M501.4 144.2h0M495.0 143.7h0M475.8 148.7h0M477.9 146.3h0M473.8 147.9h0M496.7 148.7h0M501.6 148.5h0M501.7 147.9h0M480.0 148.1h0M470.5 147.6h0M484.2 147.3h0M502.1 149.0h0M470.0 147.7h0M478.5 142.5h0M470.9 148.3h0M496.5 148.9h0M488.8 146.2h0M480.7 148.4h0M483.9 142.4h0M503.1 142.1h0M501.6 148.8h0M496.5 149.0h0M495.9 144.1h0M500.3 146.5h0M490.1 148.7h0M484.9 148.3h0M496.4 148.6h0M499.1 146.3h0M492.3 145.8h0M500.3 142.9h0M482.2 146.3h0M483.8 142.8h0M482.4 148.9h0M504.7 145.1h0M494.7 145.7h0M499.0 142.7h0M487.2 147.2h0M481.9 144.6h0M493.1 148.8h0M479.3 144.1h0M503.3 145.3h0M475.1 148.8h0M482.5 146.9h0M507.2 142.6h0M499.6 147.2h0M476.5 145.8h0M476.5 142.3h0M486.9 148.9h0M487.9 149.0h0M505.6 147.4h0M501.7 147.4h0M491.9 144.4h0M481.4 148.4h0M484.7 146.9h0M488.9 145.7h0M492.6 148.0h0M477.6 142.0h0M470.4 147.9h0M472.1 148.9h0M501.2 147.4h0M506.0 145.2h0M491.9 143.8h0M470.5 146.2h0M479.8 147.6h0M472.4 145.9h0M484.0 146.5h0M485.1 146.9h0M497.3 148.9h0M492.3 144.2h0M492.3 148.8h0M506.8 143.5h0M471.7 144.6h0M494.8 143.4h0M504.3 148.2h0M503.4 143.9h0M491.5 148.3h0M481.0 147.7h0M493.0 144.6h0M490.3 147.9h0M491.1 142.8h0M491.1 143.0h0M471.1 142.1h0M490.6 147.1h0M506.1 144.9h0M487.8 145.9h0M489.9 145.8h0M505.3 145.1h0M482.0 149.0h0M472.2 143.4h0M471.2 144.3h0M499.9 145.7h0M484.2 148.4h0M496.3 148.4h0M492.6 146.6h0M491.9 148.0h0M499.1 142.5h0M479.2 142.6h0M484.4 146.7h0M500.0 147.8h0M490.8 148.6h0M504.9 144.5h0M480.1 149.0h0M504.9 146.9h0M501.4 148.7h0M490.4 147.5h0M472.4 142.8h0M475.8 147.9h0M481.3 148.8h0M491.6 145.2h0M499.9 148.8h0M475.3 146.8h0M500.6 144.0h0M505.0 148.5h0M478.5 144.1h0M502.4 149.0h0M473.6 143.9h0M498.8 144.5h0M501.1 145.8h0M482.2 142.2h0M504.4 143.9h0M495.5 148.0h0M501.7 145.3h0M480.3 146.3h0M490.2 148.3h0M502.1 148.8h0M479.0 143.3h0M495.1 145.2h0M499.0 148.8h0M481.4 144.5h0M480.5 148.9h0M487.4 144.5h0M476.0 144.1h0M483.0 148.8h0M476.0 143.4h0M498.1 148.9h0M494.9 148.9h0M479.2 148.9h0M502.6 145.5h0M486.8 147.5h0M482.7 149.0h0M499.4 148.4h0M499.3 145.0h0M496.1 146.6h0M484.4 148.8h0M480.5 148.1h0M478.0 144.8h0M480.5 148.0h0M493.8 143.5h0M484.2 147.0h0M505.0 142.9h0M491.1 147.2h0M479.6 143.6h0M473.8 148.3h0M512.8 147.9h0M510.4 148.8h0M510.7 145.5h0M513.3 148.3h0M510.0 146.0h0M511.8 148.9h0M513.9 146.8h0M509.5 147.2h0M509.3 147.8h0M510.6 148.1h0M513.7 145.9h0M510.7 145.8h0M508.3 145.6h0M511.8 145.9h0M510.2 146.1h0M507.5 145.5h0M513.1 146.3h0M513.2 148.3h0M526.1 148.3h0M520.8 146.5h0M526.9 148.4h0M515.8 143.7h0M517.9 140.3h0M520.9 147.3h0M528.3 145.5h0M524.3 140.8h0M516.1 147.4h0M522.5 148.9h0M521.4 145.4h0M520.9 140.3h0M520.9 147.5h0M529.1 148.5h0M522.9 145.3h0M518.3 146.9h0M522.1 147.7h0M529.7 146.7h0M517.6 145.6h0M516.9 148.9h0M526.6 147.5h0M518.1 141.6h0M521.3 143.1h0M522.7 145.9h0M515.4 149.0h0M525.2 144.5h0M528.7 147.3h0M519.1 142.6h0M523.0 148.9h0M517.9 144.6h0M522.0 149.0h0M525.9 149.0h0M518.8 144.9h0M518.0 146.7h0M517.2 148.5h0M521.5 142.6h0M519.8 143.9h0M523.7 142.8h0M520.5 144.6h0M517.4 145.6h0M524.9 140.4h0M524.4 145.9h0M519.6 148.8h0M527.6 148.3h0M521.3 149.0h0M526.6 141.9h0M519.1 143.9h0M525.4 148.2h0M525.7 147.8h0M526.3 147.5h0M527.1 145.5h0M520.3 140.2h0M514.6 140.2h0M514.9 141.8h0M520.5 145.8h0M519.3 143.2h0M526.6 148.4h0M526.2 145.7h0M515.0 146.3h0M517.8 143.2h0M514.4 146.5h0M524.8 148.1h0M524.3 143.3h0M525.8 146.7h0M517.6 144.5h0M523.7 145.9h0M517.5 143.7h0M519.8 147.8h0M519.8 148.8h0M523.4 143.7h0M525.8 148.5h0M526.1 148.8h0M515.9 148.7h0M522.4 148.1h0M528.2 148.0h0M518.8 140.9h0M525.3 143.5h0M518.4 145.6h0M529.3 140.8h0M519.5 149.0h0M517.5 147.7h0M528.4 146.9h0M527.4 149.0h0M514.6 147.8h0M518.6 141.5h0M516.2 148.4h0M516.3 147.4h0M518.3 148.5h0M521.4 145.5h0M522.6 147.8h0M525.7 143.2h0M528.7 147.5h0M523.2 143.0h0M519.5 146.5h0M528.2 148.7h0M515.9 145.1h0M528.2 141.1h0M525.3 149.0h0M522.8 148.2h0M523.3 126.8h0M523.3 131.2h0M523.8 134.8h0M526.9 133.9h0M527.8 138.3h0M525.1 138.3h0M568.9 118.4h0M567.9 121.0h0M570.5 121.5h0M559.7 124.0h0M567.9 123.5h0M575.1 123.3h0M565.9 127.6h0M566.9 127.1h0M567.9 130.7h0M580.8 127.4h0M582.3 127.1h0M582.1 126.8h0M583.7 127.0h0M582.2 130.7h0M583.8 132.7h0M584.3 134.7h0M582.2 135.8h0M583.3 138.8h0M527.0 133.7h0M543.4 132.2h0M561.1 137.0h0M557.1 137.3h0M556.0 137.2h0M556.2 135.7h0M555.5 134.2h0M562.5 135.2h0M556.6 137.2h0M558.9 134.4h0M557.7 133.2h0M563.4 136.3h0M563.5 136.6h0M556.4 133.5h0M563.3 135.7h0M562.4 137.2h0M561.5 134.3h0M555.5 135.4h0M565.9 137.3h0M569.7 139.1h0M574.1 140.2h0M573.8 142.3h0M574.3 142.0h0M575.5 142.9h0M574.6 142.1h0M574.7 141.8h0M572.8 142.4h0M572.4 142.9h0M575.0 142.8h0M572.0 140.8h0M575.6 139.0h0M569.6 139.1h0M574.1 140.6h0M590.4 139.3h0M526.1 145.6h0M555.7 142.0h0M582.0 145.7h0M527.0 148.1h0M543.9 142.0h0M534.6 149.0h0M576.8 141.1h0M535.3 148.4h0M571.5 142.3h0M534.2 145.8h0M591.3 147.2h0M554.3 149.0h0M594.8 148.9h0M591.8 148.8h0M576.2 143.0h0M573.7 149.0h0M559.4 146.6h0M560.9 148.7h0M534.2 143.5h0M554.4 142.6h0M541.7 148.2h0M570.3 146.9h0M587.3 145.9h0M560.9 146.4h0M540.1 141.2h0M548.0 149.0h0M533.7 147.9h0M527.4 147.2h0M558.9 142.0h0M573.8 142.6h0M578.1 144.3h0M576.0 148.0h0M563.8 148.5h0M579.3 145.7h0M549.1 148.6h0M581.3 143.2h0M533.3 141.3h0M532.5 148.4h0M577.2 144.4h0M579.6 145.2h0M564.4 146.4h0M570.4 142.0h0M566.2 145.1h0M578.0 146.6h0M534.0 145.9h0M554.5 147.1h0M564.3 147.1h0M552.4 147.6h0M551.0 147.1h0M531.3 141.4h0M575.5 149.0h0M556.4 147.3h0M550.7 145.7h0M526.1 148.3h0M590.7 142.6h0M557.6 148.0h0M529.1 147.8h0M583.6 142.4h0M542.8 148.3h0M580.8 144.7h0M552.1 146.8h0M580.9 148.3h0M585.1 142.8h0M566.6 148.8h0M575.1 141.2h0M535.2 146.9h0M576.2 148.9h0M581.6 148.9h0M558.1 145.0h0M590.3 142.4h0M532.0 145.5h0M554.5 145.8h0M590.0 148.2h0M533.5 144.3h0M549.0 148.3h0M547.7 145.9h0M581.9 147.0h0M575.4 148.6h0M591.1 147.8h0M547.9 141.6h0M532.8 145.6h0M568.6 147.2h0M549.0 145.3h0M533.7 149.0h0M537.0 146.0h0M568.3 147.9h0M561.1 142.3h0M566.0 148.2h0M579.8 148.1h0M543.3 148.7h0M588.6 147.0h0M538.5 148.6h0M540.0 148.7h0M552.7 147.8h0M553.3 144.0h0M552.8 146.7h0M588.2 143.8h0M589.5 147.1h0M593.4 148.2h0M572.7 146.3h0M544.0 147.4h0M587.0 148.7h0M573.9 147.6h0M561.9 146.9h0M537.4 148.5h0M572.7 147.7h0M525.2 146.2h0M555.3 144.5h0M543.2 148.9h0M582.6 148.4h0M547.9 146.1h0M545.4 148.2h0M549.2 148.1h0M580.2 143.6h0M586.9 144.7h0M532.9 145.1h0M536.5 149.0h0M562.0 148.2h0M566.0 143.3h0M541.9 147.1h0M577.7 141.2h0M528.2 147.7h0M542.9 141.2h0M533.2 143.0h0M549.9 145.1h0M545.8 142.5h0M538.9 148.8h0M593.5 143.5h0M572.7 145.2h0M544.1 148.1h0M593.9 148.9h0M567.9 149.0h0M538.1 147.7h0M590.2 147.0h0M536.5 148.3h0M571.0 145.4h0M537.6 146.4h0M532.8 142.6h0M541.9 148.6h0M558.3 146.4h0M575.9 146.1h0M557.8 142.4h0M583.2 149.0h0M547.3 149.0h0M567.2 148.7h0M534.0 143.7h0M584.6 148.0h0M532.6 144.8h0M580.6 144.8h0M535.9 147.3h0M547.3 145.1h0M536.5 148.7h0M533.9 147.3h0M563.6 147.4h0M553.3 146.1h0M531.1 143.5h0M590.3 147.8h0M589.5 142.8h0M562.5 143.9h0M565.1 143.7h0M542.9 148.8h0M586.3 148.8h0M553.5 147.8h0M532.1 146.2h0M580.7 144.6h0M586.7 143.6h0M535.2 147.9h0M573.5 144.0h0M549.0 147.5h0M583.2 148.7h0M581.8 146.9h0M547.5 147.7h0M577.2 146.4h0M549.7 142.5h0M553.3 144.7h0M578.2 142.8h0M550.4 146.1h0M586.9 148.1h0M546.4 143.5h0M538.7 148.9h0M527.7 141.5h0M562.0 143.4h0M562.8 146.1h0M564.0 147.2h0M589.4 148.9h0M534.7 148.8h0M569.9 144.9h0M573.5 143.4h0M528.6 141.9h0M541.6 149.0h0M535.7 143.8h0M578.9 146.3h0M561.9 148.7h0M577.3 142.3h0M558.5 147.3h0M592.2 148.1h0M572.6 143.7h0M576.2 147.9h0M580.9 146.6h0M586.7 147.6h0M556.5 144.8h0M581.3 146.0h0M592.2 146.3h0M587.8 149.0h0M559.3 144.5h0M535.4 142.9h0M575.0 147.7h0M551.1 143.3h0M570.4 141.1h0M533.6 149.0h0M564.9 148.9h0M543.3 147.8h0M530.5 147.0h0M583.7 142.2h0M556.1 146.0h0M567.2 147.9h0M593.3 147.7h0M575.9 141.6h0M530.3 143.2h0M549.2 148.8h0M554.6 148.8h0M583.4 141.2h0M540.5 141.6h0M526.6 148.4h0M529.0 148.1h0M546.0 146.3h0M564.3 144.9h0M546.0 145.7h0M573.2 144.3h0M558.0 144.5h0M545.0 146.8h0M557.6 149.0h0M538.0 145.5h0M586.5 142.8h0M582.1 142.9h0M537.3 146.6h0M576.6 148.1h0M532.8 141.2h0M549.7 149.0h0M566.8 147.7h0M584.1 148.8h0M588.6 147.7h0M546.4 147.8h0M592.6 148.6h0M582.8 145.7h0M563.0 148.9h0M593.9 144.3h0M532.3 141.8h0M594.9 147.5h0M592.0 146.2h0M526.8 148.2h0M543.5 141.7h0M550.2 146.0h0M590.4 145.9h0M586.4 141.7h0M582.5 148.2h0M554.1 149.0h0M542.8 141.7h0M565.7 147.5h0M574.6 148.3h0M531.7 145.1h0M530.0 142.1h0M549.4 144.7h0M530.5 148.7h0M581.0 141.0h0M580.6 146.9h0M589.8 141.4h0M544.2 146.3h0M593.7 146.4h0M571.9 144.3h0M536.7 139.1h0M549.3 141.1h0M549.6 142.7h0M540.4 143.0h0M529.2 141.0h0M537.6 138.5h0M536.8 142.7h0M537.3 140.9h0M527.6 143.0h0M528.8 140.1h0M548.1 142.5h0M550.2 139.0h0M525.1 142.7h0M542.1 139.8h0M525.5 142.1h0M531.8 141.8h0M553.0 140.9h0M527.1 142.6h0M528.1 140.2h0M537.6 142.6h0M534.3 137.9h0M538.6 142.3h0M536.5 142.8h0M534.3 140.2h0M530.3 139.5h0M542.9 142.9h0M551.3 141.6h0M546.3 142.9h0M535.6 140.4h0M542.5 142.8h0M538.5 139.8h0M544.6 141.5h0M537.1 140.8h0M538.3 142.7h0M550.6 141.1h0M540.9 137.8h0M676.6 148.4h0M591.9 147.1h0M622.8 148.1h0M681.9 148.9h0M666.6 144.4h0M629.2 149.0h0M658.2 148.9h0M664.2 145.2h0M601.4 145.3h0M598.7 149.0h0M667.9 144.9h0M612.1 147.2h0M601.3 144.8h0M590.2 148.2h0M629.0 143.7h0M665.3 145.5h0M682.8 146.8h0M677.1 145.4h0M597.7 143.8h0M611.3 145.6h0M622.1 148.2h0M595.7 143.6h0M602.0 147.7h0M636.6 143.5h0M638.9 146.0h0M621.6 145.5h0M660.0 147.8h0M673.4 146.0h0M669.7 148.3h0M643.9 145.7h0M643.3 147.8h0M599.1 148.9h0M601.6 148.2h0M657.4 149.0h0M647.9 145.8h0M657.9 148.6h0M648.2 145.0h0M643.1 148.6h0M615.3 147.9h0M671.3 148.8h0M677.7 146.5h0M614.8 148.7h0M595.6 147.3h0M640.8 148.3h0M675.5 147.4h0M649.9 146.8h0M663.8 146.8h0M590.1 148.0h0M664.5 143.7h0M600.5 148.8h0M651.9 148.6h0M591.9 148.8h0M590.6 147.3h0M625.9 148.4h0M590.2 148.6h0M612.9 148.4h0M629.0 148.2h0M620.5 148.0h0M668.7 149.0h0M636.3 145.7h0M611.9 149.0h0M633.0 144.4h0M667.1 148.6h0M601.5 144.5h0M642.8 147.3h0M620.0 148.9h0M653.3 146.6h0M648.3 146.5h0M596.5 147.9h0M668.7 149.0h0M675.1 144.7h0M662.3 148.9h0M622.5 148.7h0M670.8 148.6h0M668.3 145.1h0M678.0 147.9h0M644.0 148.4h0M612.0 146.2h0M599.4 147.9h0M607.3 145.3h0M616.1 148.8h0M649.9 146.4h0M670.2 147.2h0M609.7 145.6h0M605.9 147.1h0M603.8 148.5h0M622.9 148.9h0M651.7 144.5h0M610.6 148.9h0M639.8 146.7h0M598.8 149.0h0M646.5 146.9h0M662.6 148.9h0M645.4 148.5h0M622.0 147.1h0M627.2 144.0h0M640.8 147.7h0M682.8 144.9h0M640.6 145.5h0M650.0 145.9h0M681.2 143.9h0M610.3 145.6h0M631.3 146.9h0M663.5 148.5h0M656.7 148.6h0M630.1 147.4h0M658.1 146.0h0M683.9 143.6h0M614.8 145.2h0M636.6 146.2h0M632.0 144.0h0M592.4 148.0h0M640.1 147.5h0M599.9 148.3h0M596.6 147.4h0M631.7 148.7h0M637.0 148.1h0M626.5 147.1h0M591.7 148.8h0M681.2 147.0h0M623.1 148.4h0M659.8 148.2h0M664.8 147.3h0M602.5 149.0h0M624.7 148.6h0M626.2 147.8h0M631.3 143.8h0M680.6 146.8h0M645.9 146.4h0M621.4 145.0h0M680.0 149.0h0M644.7 147.1h0M660.0 148.9h0M650.4 148.0h0M676.3 148.4h0M615.9 148.0h0M610.9 144.5h0M635.8 148.4h0M600.9 143.7h0M664.8 148.6h0M628.9 148.9h0M657.0 145.4h0M601.0 145.3h0M623.6 144.5h0M634.3 145.1h0M634.9 144.5h0M604.2 148.5h0M594.7 147.3h0M672.2 148.7h0M671.1 146.9h0M635.1 148.8h0M600.1 147.5h0M676.7 148.4h0M637.8 145.8h0M670.9 146.6h0M645.9 143.9h0M672.0 149.0h0M612.6 148.7h0M638.1 148.8h0M633.3 146.8h0M603.2 147.5h0M640.5 145.9h0M668.4 148.3h0M676.7 144.1h0M596.5 143.6h0M632.3 147.9h0M659.9 148.5h0M603.0 144.4h0M680.9 147.3h0M632.4 144.5h0M632.9 148.9h0M663.9 147.2h0M616.3 148.7h0M591.1 143.6h0M598.9 146.6h0M629.8 145.6h0M611.0 144.2h0M611.4 144.6h0M598.1 149.0h0M626.5 148.9h0M623.4 143.8h0M593.2 145.9h0M640.7 147.2h0M644.5 148.9h0M620.8 147.6h0M655.0 145.0h0M600.0 148.8h0M614.8 149.0h0M681.0 146.4h0M671.3 143.8h0M664.4 148.8h0M634.4 145.5h0M646.3 143.5h0M610.3 148.9h0M647.4 148.8h0M670.6 146.5h0M590.9 149.0h0M614.6 143.8h0M671.5 148.4h0M664.5 148.9h0M642.9 144.4h0M590.6 146.6h0M647.7 146.6h0M638.6 145.5h0M610.9 148.9h0M597.5 146.3h0M613.6 148.9h0M641.4 145.3h0M680.6 148.0h0M612.4 146.8h0M670.4 146.9h0M630.8 148.0h0M682.8 146.8h0M607.0 146.4h0M620.2 146.8h0M657.0 147.5h0M637.7 149.0h0M646.3 148.2h0M633.9 145.1h0M617.1 146.5h0M637.9 148.5h0M611.0 147.1h0M637.0 145.5h0M613.8 148.1h0M674.8 144.9h0M613.3 144.1h0M649.4 148.9h0M670.5 149.0h0M621.7 146.2h0M654.2 147.6h0M624.3 148.8h0M654.0 145.3h0M599.7 146.8h0M614.1 148.6h0M650.2 149.0h0M676.9 146.9h0M676.3 147.0h0M638.6 147.5h0M633.6 148.4h0M635.8 144.1h0M623.2 149.0h0M648.6 148.7h0M634.7 147.3h0M661.7 144.2h0M592.9 148.9h0M646.1 146.0h0M637.0 146.3h0M632.5 149.0h0M646.6 144.9h0M601.7 149.0h0M641.2 144.4h0M656.4 148.7h0M671.3 144.2h0M665.9 146.4h0M633.6 148.9h0M622.1 145.2h0M671.4 148.8h0M590.7 146.0h0M642.4 148.9h0M648.1 143.9h0M599.9 144.6h0M607.1 146.8h0M604.0 148.2h0M594.3 147.5h0M650.8 146.3h0M662.2 144.4h0M671.7 148.9h0M678.0 147.1h0M597.6 147.4h0M606.3 146.0h0M640.7 143.6h0M636.3 144.4h0M652.3 148.2h0M633.2 145.9h0M629.5 148.4h0M611.5 145.9h0M635.5 148.8h0M596.3 146.3h0M681.3 148.4h0M662.6 148.4h0M598.1 148.3h0M671.7 147.4h0M594.5 145.4h0M648.4 146.0h0M652.5 147.4h0M607.2 147.2h0M602.1 146.0h0M670.0 148.2h0M638.0 146.9h0M636.3 145.9h0M641.9 147.9h0M623.0 149.0h0M683.6 149.0h0M651.5 144.3h0M670.4 148.8h0M665.6 148.4h0M646.9 146.3h0M615.1 145.7h0M641.0 145.0h0M668.9 145.6h0M628.6 148.5h0M597.2 148.0h0M654.4 144.6h0M641.3 147.4h0M596.6 144.6h0M654.5 148.0h0M604.5 139.6h0M602.6 138.5h0M603.4 140.2h0M607.3 141.3h0M602.9 141.5h0M601.7 139.6h0M610.8 140.2h0M616.4 139.5h0M626.0 141.0h0M634.4 139.5h0M642.7 139.5h0M640.5 144.4h0M629.8 142.3h0M637.8 141.8h0M634.7 143.8h0M636.1 143.2h0M641.2 142.2h0M628.9 144.0h0M637.8 142.6h0M629.8 143.0h0M641.3 144.4h0M635.4 143.9h0M631.5 141.7h0M629.7 143.1h0M639.1 143.4h0M672.5 144.3h0M674.2 141.2h0M677.4 142.1h0M666.9 142.5h0M673.7 142.0h0M670.1 142.9h0M661.3 144.2h0M675.1 143.9h0M660.1 142.2h0M654.0 141.0h0M661.1 144.4h0M677.5 144.4h0M662.6 143.8h0M666.5 141.8h0M664.0 142.8h0M677.7 143.5h0M666.3 144.0h0M656.1 143.4h0M412.4 333.4h0M413.8 333.3h0M415.2 333.4h0M416.6 333.3h0M417.7 333.5h0M419.2 333.6h0M420.2 333.2h0M421.3 333.2h0M414.3 336.0h0M415.2 336.4h0M414.6 336.6h0M414.3 336.1h0M417.3 336.0h0M423.9 337.6h0M424.3 338.4h0M424.3 337.1h0M446.0 342.1h0M441.4 345.5h0M441.9 339.1h0M424.6 342.3h0M471.7 341.0h0M441.8 344.3h0M434.5 343.3h0M427.0 345.1h0M450.2 341.8h0M477.7 339.0h0M476.6 340.0h0M420.7 340.3h0M478.5 345.4h0M456.6 340.0h0M445.7 342.5h0M428.1 343.9h0M435.9 343.0h0M472.1 345.4h0M472.5 342.8h0M454.3 344.7h0M469.7 344.8h0M458.6 345.1h0M439.0 343.0h0M448.8 345.5h0M468.9 343.2h0M430.5 345.1h0M468.0 344.7h0M457.7 345.0h0M424.2 345.6h0M449.4 341.6h0M448.0 345.4h0M443.0 339.2h0M444.8 343.0h0M421.8 343.4h0M454.4 339.9h0M436.5 344.4h0M476.0 345.2h0M442.2 340.3h0M452.8 342.6h0M421.2 345.1h0M429.1 341.4h0M420.2 342.9h0M429.2 345.6h0M456.5 342.2h0M459.3 338.6h0M420.0 343.2h0M448.9 339.0h0M421.8 340.1h0M448.1 340.4h0M443.9 345.1h0M454.5 345.5h0M461.9 345.1h0M461.1 345.2h0M462.5 342.5h0M437.2 339.1h0M443.4 341.9h0M469.4 339.7h0M455.7 341.1h0M474.4 344.9h0M477.0 338.9h0M469.2 344.5h0M470.3 341.9h0M446.8 340.7h0M467.6 344.1h0M452.0 342.1h0M421.1 340.0h0M447.5 345.6h0M470.4 345.5h0M472.8 345.5h0M427.3 345.0h0M460.4 341.2h0M455.4 344.0h0M476.9 343.0h0M452.0 343.4h0M444.2 343.7h0M426.0 341.8h0M475.7 341.8h0M452.2 341.1h0M425.1 344.4h0M452.0 345.5h0M471.9 339.9h0M464.8 345.2h0M448.4 340.7h0M430.6 340.1h0M450.5 344.5h0M446.5 341.5h0M471.9 344.7h0M444.7 344.2h0M448.6 345.0h0M441.2 341.7h0M449.2 343.6h0M477.7 345.3h0M452.4 344.9h0M431.8 342.0h0M431.7 345.3h0M471.0 345.2h0M421.8 344.2h0M450.3 344.9h0M437.8 345.1h0M446.2 342.3h0M455.5 345.0h0M450.8 345.2h0M424.6 343.6h0M438.0 344.0h0M456.6 343.2h0M456.1 342.3h0M430.5 345.1h0M468.5 343.4h0M444.5 345.3h0M447.6 344.9h0M453.2 342.5h0M465.7 343.2h0M456.8 344.9h0M448.0 344.6h0M459.8 344.1h0M470.2 345.1h0M438.2 345.1h0M479.1 342.6h0M477.1 344.7h0M477.3 345.3h0M421.3 345.1h0M429.0 343.1h0M419.6 343.1h0M440.9 345.2h0M447.8 345.2h0M464.1 344.7h0M477.9 344.2h0M429.6 342.7h0M473.6 342.3h0M451.2 344.0h0M438.7 345.1h0M431.1 345.0h0M438.9 343.8h0M454.1 343.1h0M424.5 342.8h0M450.1 342.7h0M433.7 343.7h0M443.9 343.4h0M454.7 343.3h0M437.5 345.2h0M420.2 343.1h0M452.4 343.7h0M439.2 343.3h0M448.2 344.3h0M423.6 343.2h0M435.0 344.2h0M435.0 343.9h0M433.3 345.1h0M441.3 342.4h0M463.9 342.5h0M452.9 344.9h0M475.9 345.3h0M426.0 343.7h0M449.3 344.2h0M436.8 343.5h0M457.1 342.3h0M469.0 345.3h0M437.7 342.5h0M471.5 343.3h0M423.5 342.5h0M434.3 342.7h0M460.9 342.9h0M440.6 333.0h0M460.8 333.0h0M464.1 333.0h0M461.4 336.3h0M461.9 338.5h0M461.9 339.6h0M436.7 338.7h0M437.7 339.3h0M433.1 339.5h0M434.2 339.1h0M432.3 338.6h0M504.6 330.4h0M504.6 328.6h0M504.6 331.6h0M499.0 338.0h0M503.9 337.7h0M503.7 337.3h0M504.1 338.5h0M504.6 337.7h0M501.4 337.9h0M516.0 341.5h0M517.1 339.3h0M522.6 341.4h0M522.3 341.6h0M514.1 341.5h0M517.7 341.5h0M518.2 339.8h0M522.9 341.8h0M515.4 340.4h0M509.3 339.9h0M519.7 340.8h0M518.0 340.2h0M515.0 341.9h0M517.0 341.6h0M514.7 341.4h0M516.7 341.0h0M512.0 339.8h0M510.5 341.6h0M496.5 340.9h0M491.1 345.4h0M477.4 341.9h0M492.1 344.8h0M493.5 342.3h0M480.7 341.5h0M479.7 345.5h0M475.3 344.2h0M483.9 345.1h0M477.9 343.4h0M481.2 345.4h0M477.3 345.4h0M490.1 345.4h0M475.8 342.2h0M490.9 342.7h0M480.7 343.5h0M476.5 342.6h0M493.0 345.5h0M492.3 345.2h0M475.9 343.0h0M487.2 345.4h0M487.6 345.3h0M479.4 343.4h0M479.0 344.3h0M486.9 342.3h0M486.7 343.3h0M491.7 345.5h0M484.7 342.8h0M484.3 343.8h0M485.1 343.0h0M484.8 345.0h0M475.1 345.2h0M491.5 344.1h0M499.5 344.8h0M519.5 344.3h0M517.6 343.3h0M519.4 343.6h0M514.7 344.9h0M515.8 344.7h0M515.1 344.4h0M520.0 342.9h0M519.6 344.6h0M513.6 343.2h0M522.5 344.0h0M521.6 344.6h0M515.4 343.6h0M520.8 344.9h0M515.7 344.5h0M526.7 332.6h0M527.7 334.3h0M523.9 333.8h0M523.0 332.2h0M524.7 331.5h0M540.1 337.3h0M540.4 338.8h0M535.4 337.9h0M534.4 338.7h0M538.6 339.2h0M533.6 338.4h0M534.7 345.0h0M529.7 341.1h0M528.5 343.6h0M540.5 341.1h0M540.5 342.3h0M531.4 345.3h0M537.0 345.5h0M530.5 345.4h0M543.6 345.3h0M532.2 342.4h0M530.0 341.1h0M533.9 345.3h0M528.9 342.3h0M536.8 342.4h0M533.1 342.4h0M528.9 345.5h0M536.2 342.8h0M530.7 342.6h0M530.9 345.0h0M539.7 342.0h0M540.1 345.3h0M535.4 345.5h0M540.8 345.0h0M539.3 342.9h0M527.9 345.2h0M539.5 343.3h0M542.1 345.5h0M533.6 341.7h0M538.8 344.0h0M538.7 341.5h0M540.9 344.0h0M527.7 344.1h0M534.5 343.8h0M534.2 344.8h0M532.7 345.1h0M543.0 342.7h0M542.2 344.3h0M536.3 345.4h0M541.1 342.7h0M530.1 344.6h0M570.1 314.3h0M571.2 321.5h0M572.2 323.5h0M571.7 324.6h0M571.2 326.1h0M558.4 324.6h0M583.4 330.7h0M581.2 336.6h0M575.8 336.6h0M579.8 335.9h0M581.6 336.4h0M580.3 336.0h0M576.9 336.8h0M547.9 338.1h0M543.6 337.9h0M543.8 337.7h0M567.6 341.4h0M583.8 340.3h0M585.0 339.9h0M587.4 337.0h0M589.8 337.1h0M593.9 337.0h0M588.4 338.1h0M589.8 340.0h0M593.1 339.8h0M590.7 340.4h0M588.1 339.7h0M595.0 339.0h0M587.3 336.3h0M594.7 336.6h0M589.8 339.0h0M596.2 336.3h0M564.2 345.5h0M563.4 345.2h0M559.1 344.5h0M556.8 344.9h0M554.1 345.6h0M545.5 345.6h0M551.7 344.3h0M553.4 345.6h0M558.6 345.6h0M546.7 345.5h0M568.4 345.0h0M562.0 345.6h0M554.9 345.1h0M540.3 345.3h0M556.1 345.4h0M570.5 345.4h0M566.0 345.4h0M564.4 344.7h0M555.3 345.2h0M543.6 344.6h0M540.4 345.5h0M553.9 345.2h0M568.6 344.4h0M555.2 345.3h0M563.1 345.6h0M545.2 345.2h0M541.3 344.6h0M554.7 345.5h0M544.3 344.3h0M564.3 345.5h0M568.5 345.4h0M547.3 345.6h0M566.0 345.4h0M560.7 345.6h0M569.9 344.5h0M541.6 344.7h0M546.7 345.2h0M547.5 345.6h0M557.7 344.8h0M548.8 345.6h0M568.4 345.6h0M554.5 344.8h0M570.0 344.4h0M547.8 345.5h0M559.3 345.5h0M555.9 345.1h0M556.3 344.8h0M582.9 344.9h0M571.6 341.7h0M573.3 344.3h0M578.6 343.0h0M583.0 342.5h0M581.3 341.7h0M588.5 343.8h0M576.9 342.7h0M587.6 345.4h0M587.6 345.5h0M582.8 341.9h0M581.8 341.8h0M581.6 343.0h0M572.1 345.2h0M579.0 343.0h0M580.9 345.4h0M575.5 345.1h0M582.0 342.2h0M585.6 343.0h0M579.0 344.5h0M577.2 344.5h0M586.9 342.8h0M583.7 345.0h0M570.8 345.2h0M584.9 343.3h0M588.9 344.9h0M576.6 343.2h0M586.1 342.9h0M587.4 345.4h0M594.8 344.3h0M600.1 344.5h0M595.2 343.8h0M602.2 345.5h0M603.6 342.6h0M607.0 344.4h0M591.7 345.5h0M600.6 345.5h0M593.8 343.8h0M589.1 343.8h0M609.2 345.5h0M590.5 341.4h0M599.7 343.0h0M606.7 343.7h0M608.8 343.1h0M608.2 342.8h0M606.3 345.4h0M608.3 344.8h0M609.3 342.1h0M597.2 342.3h0M605.4 343.8h0M600.3 345.5h0M604.1 343.5h0M601.7 344.7h0M597.0 342.5h0M608.0 342.8h0M600.0 344.6h0M606.6 344.0h0M595.0 344.9h0M608.4 336.1h0M609.9 335.6h0M608.8 336.3h0M612.0 331.5h0M608.3 337.6h0M627.4 337.7h0M641.7 338.4h0M623.4 336.9h0M616.0 338.5h0M630.1 337.9h0M624.3 338.3h0M627.1 338.1h0M625.5 336.4h0M629.2 336.0h0M630.3 338.4h0M633.9 337.3h0M619.6 334.9h0M615.4 335.5h0M607.5 336.6h0M623.0 335.6h0M624.8 337.5h0M615.4 337.8h0M629.3 336.4h0M616.8 338.5h0M617.2 335.0h0M627.6 338.0h0M640.6 337.8h0M611.8 334.6h0M613.3 338.2h0M617.3 337.5h0M638.4 336.5h0M608.2 338.5h0M618.2 338.4h0M622.5 338.4h0M632.8 337.8h0M641.6 334.7h0M629.9 337.6h0M628.7 338.4h0M638.4 335.3h0M613.1 338.4h0M609.7 342.3h0M609.4 344.9h0M609.8 343.6h0M610.5 344.6h0M607.2 342.8h0M628.8 344.0h0M621.4 344.3h0M625.7 344.8h0M621.6 344.7h0M632.4 344.3h0M630.8 344.5h0M640.7 343.8h0M671.1 341.3h0M662.1 343.8h0M659.0 341.5h0M658.5 343.9h0M670.0 342.1h0M671.8 344.6h0M667.2 344.4h0M677.4 344.4h0M671.9 340.3h0M652.5 344.4h0M664.0 344.1h0M661.3 345.5h0M639.4 340.4h0M662.5 340.7h0M669.4 339.7h0M670.8 342.2h0M641.9 344.2h0M676.4 341.1h0M646.4 342.2h0M659.9 343.7h0M658.8 344.5h0M681.1 344.0h0M680.9 342.9h0M644.6 340.6h0M653.8 341.8h0M662.1 343.1h0M650.2 342.0h0M653.3 342.5h0M659.0 341.7h0M681.8 342.8h0M636.7 344.8h0M660.4 340.7h0M674.3 342.7h0M654.1 340.7h0M654.3 339.8h0M674.3 342.1h0M655.6 344.5h0M652.1 344.4h0M675.1 344.2h0M681.5 345.5h0M662.0 341.6h0M650.1 342.8h0M676.3 341.8h0M659.2 344.4h0M647.9 345.1h0M665.7 341.1h0M665.6 344.0h0M636.7 345.2h0M662.7 344.5h0M661.2 345.2h0M648.4 344.6h0M652.9 342.0h0M670.6 342.0h0M637.9 344.4h0M661.6 341.2h0M667.7 343.2h0M677.8 343.4h0M680.6 345.5h0M655.0 343.0h0M677.2 340.6h0M636.9 343.1h0M655.3 342.9h0M674.3 343.2h0M674.9 345.3h0M647.9 344.7h0M641.4 345.5h0M660.6 344.9h0M644.3 340.3h0M653.5 344.8h0M652.6 342.8h0M643.3 342.6h0M662.9 345.5h0M642.6 342.2h0M666.9 345.5h0M678.6 345.4h0M643.8 342.4h0M639.0 344.2h0M652.5 345.4h0M677.9 340.9h0M665.5 341.9h0M668.6 335.0h0M668.0 338.5h0M676.2 340.9h0M412.7 528.7h0M435.0 537.3h0M466.5 534.4h0M436.5 537.1h0M423.9 536.7h0M456.6 537.0h0M439.0 537.9h0M444.7 537.4h0M418.6 533.4h0M422.7 536.1h0M450.3 534.7h0M425.1 537.7h0M430.6 537.3h0M461.4 532.0h0M434.3 533.2h0M423.4 536.3h0M465.7 536.3h0M434.3 538.2h0M459.8 537.8h0M439.6 537.3h0M451.0 538.3h0M457.3 535.8h0M454.1 533.9h0M426.3 537.5h0M414.9 535.1h0M452.7 531.5h0M432.5 536.0h0M443.4 538.2h0M418.7 533.4h0M450.8 538.2h0M456.7 536.2h0M467.5 536.6h0M430.2 532.3h0M445.2 535.7h0M458.2 536.3h0M458.3 534.1h0M440.6 537.6h0M445.0 535.6h0M457.9 538.3h0M421.1 536.4h0M443.5 532.5h0M453.8 533.7h0M463.7 534.9h0M430.9 538.2h0M448.0 537.9h0M413.7 537.7h0M421.9 538.0h0M437.8 535.6h0M412.8 536.2h0M426.4 535.7h0M415.3 538.2h0M434.7 538.0h0M438.2 537.9h0M453.6 537.9h0M430.4 532.2h0M466.5 538.2h0M448.8 538.2h0M439.3 533.6h0M420.4 532.1h0M463.3 533.9h0M460.0 532.0h0M441.0 536.4h0M433.5 532.5h0M413.9 537.6h0M420.0 537.8h0M429.5 531.6h0M467.1 537.0h0M436.6 534.2h0M432.7 538.1h0M465.6 537.4h0M467.0 536.6h0M414.8 537.5h0M416.3 532.0h0M445.7 533.2h0M459.1 537.4h0M467.6 536.5h0M465.3 535.5h0M433.3 531.6h0M453.2 534.2h0M413.4 534.6h0M455.1 534.3h0M417.5 537.8h0M442.8 538.2h0M459.9 538.1h0M468.2 536.6h0M436.3 533.8h0M436.2 537.9h0M460.7 535.0h0M430.4 532.0h0M449.6 538.3h0M448.6 534.3h0M457.9 535.3h0M458.4 536.4h0M465.5 538.2h0M417.4 536.1h0M448.3 538.1h0M465.0 537.7h0M439.5 537.8h0M465.1 537.0h0M462.4 537.7h0M444.2 535.8h0M461.9 534.4h0M442.9 535.7h0M424.5 538.3h0M418.7 536.2h0M431.7 536.3h0M458.5 537.4h0M454.3 535.1h0M442.3 537.2h0M464.3 534.1h0M416.6 536.5h0M414.7 534.7h0M449.3 538.2h0M454.6 538.0h0M421.4 536.0h0M468.4 534.6h0M467.5 536.2h0M438.8 535.4h0M465.0 535.2h0M416.8 536.0h0M451.8 537.5h0M421.5 537.5h0M420.1 537.2h0M417.7 537.1h0M424.1 535.8h0M418.1 534.5h0M448.4 536.3h0M447.5 538.0h0M446.8 536.7h0M439.0 538.1h0M447.0 535.1h0M430.9 537.9h0M415.1 534.8h0M441.0 537.1h0M412.2 537.3h0M459.6 538.2h0M428.6 537.2h0M415.1 537.2h0M458.8 538.2h0M423.2 535.6h0M416.4 537.7h0M441.5 537.7h0M440.6 535.6h0M468.4 535.1h0M414.5 536.7h0M450.0 538.2h0M462.8 538.2h0M415.2 538.3h0M435.0 534.0h0M445.7 536.7h0M431.0 538.2h0M453.7 537.5h0M451.3 535.5h0M438.1 538.1h0M431.3 528.7h0M448.8 529.0h0M454.3 530.1h0M467.7 529.2h0M469.8 528.9h0M470.9 529.2h0M473.0 529.1h0M474.7 529.4h0M475.9 529.2h0M478.4 534.5h0M478.5 536.4h0M479.1 537.4h0M479.7 537.8h0M478.6 534.0h0M475.8 529.5h0M477.5 529.8h0M478.6 529.1h0M481.3 529.3h0M483.0 529.4h0M484.1 529.1h0M486.1 529.6h0M487.5 529.1h0M478.3 526.3h0M480.2 533.7h0M478.9 535.3h0M479.2 534.1h0M505.7 534.7h0M519.3 537.2h0M514.7 537.7h0M519.3 534.3h0M509.7 538.3h0M502.4 535.8h0M522.7 537.0h0M499.4 537.1h0M492.2 533.1h0M494.0 532.8h0M521.8 535.9h0M526.8 536.9h0M507.8 533.0h0M500.5 538.2h0M525.2 533.1h0M512.2 534.3h0M530.8 537.3h0M544.6 535.8h0M509.3 538.0h0M544.2 534.8h0M536.9 536.5h0M527.7 538.1h0M531.0 537.3h0M499.7 537.5h0M532.9 537.6h0M544.6 534.6h0M492.1 536.8h0M504.0 533.8h0M518.4 534.6h0M490.0 536.7h0M534.4 537.8h0M542.7 536.6h0M521.1 533.8h0M488.3 532.0h0M521.1 536.9h0M542.0 538.3h0M524.0 538.0h0M511.7 537.6h0M506.0 536.5h0M529.4 538.0h0M493.1 535.4h0M494.7 532.1h0M505.5 537.8h0M518.5 537.1h0M494.4 532.8h0M526.7 535.8h0M510.1 537.7h0M543.0 536.7h0M517.8 534.1h0M510.2 538.2h0M515.0 533.7h0M527.6 537.0h0M528.2 538.3h0M495.1 534.9h0M541.1 536.8h0M520.9 537.6h0M522.3 537.2h0M509.4 537.0h0M531.0 532.6h0M508.8 531.8h0M510.7 536.5h0M510.8 533.2h0M499.0 534.9h0M504.8 536.0h0M510.8 532.7h0M523.2 532.3h0M522.2 537.3h0M531.0 532.5h0M523.2 533.6h0M496.8 535.4h0M527.7 533.5h0M506.9 535.2h0M520.7 534.2h0M549.5 537.4h0M530.1 534.1h0M531.2 533.5h0M547.2 537.0h0M529.7 532.8h0M519.1 536.7h0M543.1 538.3h0M524.9 533.6h0M537.8 537.4h0M512.9 538.3h0M525.7 538.0h0M525.7 537.7h0M513.5 535.6h0M488.9 538.2h0M517.1 535.9h0M490.0 537.5h0M488.1 538.2h0M491.0 535.6h0M517.4 537.8h0M501.9 537.0h0M527.7 536.7h0M493.9 535.1h0M494.5 537.9h0M501.3 537.9h0M538.1 538.3h0M534.2 537.9h0M537.4 536.0h0M524.4 538.3h0M527.2 535.8h0M514.4 536.9h0M521.1 535.9h0M518.8 537.7h0M499.7 537.4h0M539.7 536.6h0M488.7 536.7h0M535.5 537.6h0M519.4 538.2h0M521.2 536.6h0M489.2 537.8h0M498.4 536.5h0M520.6 536.9h0M495.0 536.4h0M534.4 535.1h0M499.5 535.7h0M511.5 536.4h0M531.3 536.5h0M546.8 537.6h0M517.0 537.5h0M497.5 536.4h0M508.7 535.6h0M497.1 535.6h0M524.7 538.2h0M515.3 538.0h0M532.9 538.1h0M530.6 536.3h0M491.0 538.2h0M493.1 537.0h0M522.0 536.4h0M538.7 535.4h0M539.3 536.7h0M506.1 537.3h0M531.6 538.3h0M515.5 523.5h0M517.7 523.5h0M507.8 526.8h0M516.1 529.0h0M529.7 526.3h0M531.9 527.4h0M534.1 528.5h0M536.3 527.9h0M541.8 528.5h0M545.1 528.5h0M530.8 532.2h0M528.0 532.8h0M528.4 530.5h0M527.7 531.4h0M568.0 488.5h0M569.0 491.8h0M581.3 506.4h0M589.1 499.7h0M589.5 505.7h0M590.0 508.7h0M590.5 511.5h0M591.0 513.5h0M590.0 520.2h0M591.0 519.7h0M553.2 528.4h0M561.3 534.1h0M566.3 535.5h0M560.2 532.2h0M561.1 536.4h0M563.9 533.2h0M569.2 532.0h0M566.9 535.2h0M567.2 536.2h0M561.2 533.1h0M559.6 532.9h0M566.2 529.7h0M568.2 530.3h0M569.2 536.0h0M563.5 533.4h0M569.7 532.7h0M560.9 532.8h0M572.1 529.8h0M572.4 534.8h0M562.9 529.5h0M561.3 536.1h0M559.7 534.4h0M569.2 535.9h0M567.3 536.5h0M568.9 535.0h0M565.1 535.8h0M557.6 536.0h0M563.3 531.0h0M587.0 531.8h0M581.3 531.5h0M579.5 532.2h0M585.4 528.3h0M586.7 528.8h0M574.4 532.0h0M582.9 532.2h0M578.9 530.6h0M576.7 529.5h0M579.6 530.2h0M584.7 532.2h0M585.0 532.1h0M579.8 529.2h0M576.5 531.1h0M583.6 532.2h0M581.6 531.5h0M577.4 531.5h0M584.5 532.2h0M575.8 531.2h0M575.8 528.3h0M575.8 532.0h0M584.7 530.5h0M591.6 532.6h0M591.1 536.8h0M589.1 535.0h0M588.2 533.0h0M588.4 537.8h0M591.2 538.0h0M593.2 529.2h0M598.8 527.6h0M594.0 527.3h0M596.4 526.4h0M593.7 528.0h0M597.2 527.1h0M598.1 524.3h0M612.3 536.0h0M607.6 529.2h0M609.5 536.2h0M603.5 535.3h0M609.4 531.4h0M605.4 535.5h0M613.9 531.2h0M609.7 534.9h0M608.2 535.8h0M606.1 532.9h0M609.1 532.6h0M603.7 536.5h0M604.1 534.4h0M609.8 533.2h0M613.5 532.4h0M612.1 532.5h0M613.4 536.3h0M609.8 528.4h0M609.2 529.8h0M604.3 534.3h0M611.3 533.9h0M613.6 530.3h0M614.3 533.5h0M602.4 534.8h0M609.1 534.3h0M605.2 530.6h0M611.4 536.5h0M614.5 524.7h0M611.9 526.4h0M614.2 526.2h0M614.8 524.8h0M555.4 538.1h0M592.4 536.6h0M609.6 536.6h0M548.2 537.9h0M569.6 536.8h0M572.7 537.4h0M565.0 535.2h0M584.7 536.2h0M608.8 537.7h0M566.0 537.7h0M594.1 537.9h0M570.6 536.2h0M586.7 538.0h0M583.5 537.5h0M545.1 536.3h0M602.3 538.1h0M551.1 535.3h0M574.8 537.8h0M566.6 535.5h0M551.4 534.8h0M549.0 535.1h0M613.0 536.6h0M609.0 536.0h0M611.9 537.5h0M564.2 535.1h0M609.2 535.8h0M572.4 537.8h0M585.2 535.8h0M575.3 535.0h0M556.7 537.2h0M606.2 537.7h0M607.7 537.7h0M584.9 535.6h0M545.1 537.6h0M603.0 538.0h0M612.4 534.7h0M610.6 537.7h0M570.7 537.2h0M602.4 535.0h0M565.0 536.2h0M557.8 538.0h0M558.4 537.7h0M567.0 536.7h0M606.4 537.8h0M545.2 537.4h0M583.6 538.1h0M584.0 538.1h0M577.9 538.1h0M582.8 536.5h0M603.7 537.8h0M602.0 534.7h0M613.0 534.9h0M583.0 537.4h0M600.1 537.3h0M560.9 537.9h0M583.1 537.2h0M568.5 534.6h0M572.2 538.1h0M551.7 535.2h0M587.0 536.9h0M567.9 535.4h0M611.7 536.6h0M584.5 534.7h0M590.5 537.5h0M592.6 536.0h0M571.9 536.3h0M569.6 536.1h0M552.0 537.8h0M556.9 536.8h0M565.8 537.7h0M574.2 537.4h0M581.8 534.7h0M573.0 536.8h0M602.0 536.8h0M580.9 536.9h0M558.0 537.5h0M551.3 537.8h0M547.8 537.7h0M585.1 537.3h0M597.9 538.0h0M588.7 537.2h0M610.0 530.5h0M612.2 527.2h0M614.4 525.0h0M616.6 522.8h0M618.8 521.8h0M622.0 521.2h0M626.4 522.0h0M629.7 522.4h0M633.0 522.8h0M636.3 523.4h0M637.4 525.0h0M636.8 527.2h0M619.2 518.5h0M617.0 518.6h0M617.9 524.5h0M619.3 524.7h0M614.8 524.1h0M616.0 525.0h0M626.6 524.2h0M619.8 524.0h0M620.4 528.3h0M638.5 532.6h0M640.0 535.0h0M642.3 534.2h0M639.7 533.8h0M638.9 532.7h0M640.2 534.0h0M642.8 533.2h0M639.0 535.1h0M641.4 529.7h0M637.5 533.6h0M638.4 535.6h0M638.5 534.5h0M638.9 535.3h0M636.0 533.4h0M640.6 532.8h0M637.1 535.6h0M638.8 536.0h0M638.3 532.6h0M655.4 528.3h0M655.4 531.6h0M665.8 525.6h0M666.4 529.4h0M665.8 531.6h0M656.2 535.2h0M641.4 537.6h0M671.2 535.6h0M639.2 537.1h0M668.5 537.6h0M654.1 534.7h0M653.6 533.7h0M644.8 538.2h0M668.4 533.7h0M648.7 538.1h0M657.9 537.1h0M678.6 538.2h0M647.6 536.3h0M662.1 538.2h0M669.0 533.3h0M676.3 534.0h0M637.9 535.5h0M662.6 537.4h0M645.4 537.0h0M676.0 538.1h0M649.3 535.4h0M676.3 536.7h0M664.8 538.0h0M677.8 537.7h0M679.9 534.4h0M659.1 537.1h0M651.7 537.4h0M680.9 533.1h0M678.0 532.8h0M666.3 536.6h0M655.5 533.5h0M672.8 533.4h0M652.1 537.6h0M642.9 535.3h0M644.3 537.7h0M678.0 538.1h0M673.8 532.7h0M670.3 536.5h0M656.0 535.3h0M641.2 536.4h0M651.4 537.7h0M666.2 537.2h0M646.4 537.7h0M672.0 533.8h0M671.9 533.3h0M658.2 537.9h0M673.2 534.2h0M657.9 537.8h0M635.7 536.0h0M670.1 537.7h0M656.3 535.4h0M660.1 536.1h0M639.2 537.3h0M671.6 534.9h0M671.4 536.9h0M667.8 534.2h0M680.7 534.4h0M679.6 538.2h0M671.8 536.8h0M639.8 534.9h0M639.4 536.0h0M651.2 535.0h0M648.1 537.2h0M665.4 534.4h0M670.1 537.5h0M673.0 537.9h0M671.3 535.9h0M681.6 535.8h0M657.0 535.2h0M661.9 536.0h0M649.6 537.5h0M673.7 534.4h0M667.5 533.0h0M653.8 536.5h0M665.8 535.2h0M670.4 533.2h0M648.3 537.1h0M672.0 538.2h0M653.8 536.9h0M658.5 538.2h0M648.3 533.6h0M670.9 534.9h0M663.3 535.5h0M667.0 537.7h0M680.7 536.0h0M651.9 536.4h0M664.6 533.5h0M665.8 537.3h0M644.1 538.0h0M657.0 533.7h0M645.3 534.4h0M646.4 536.7h0M663.3 534.4h0M653.3 537.1h0M645.1 537.8h0M649.9 535.3h0M653.4 538.1h0M681.7 536.8h0M654.2 537.1h0M669.2 533.0h0M653.9 536.7h0M642.4 537.8h0M665.4 536.7h0M657.6 538.1h0M663.5 537.9h0M666.6 537.3h0M654.3 534.6h0M638.9 537.1h0M618.1 534.7h0M611.8 537.4h0M622.0 538.1h0M617.1 535.4h0M614.3 536.8h0M619.5 535.4h0M628.8 536.0h0M628.8 537.4h0M630.4 536.8h0M633.8 536.6h0M623.1 536.1h0M414.8 716.1h0M415.9 716.5h0M417.6 715.9h0M418.9 716.0h0M420.1 716.0h0M421.3 715.9h0M422.7 715.9h0M424.6 716.0h0M420.0 719.1h0M416.1 719.2h0M420.8 719.5h0M417.1 719.4h0M426.6 720.2h0M426.1 717.7h0M426.4 719.8h0M467.7 721.2h0M478.8 722.2h0M474.6 725.4h0M468.2 726.3h0M450.6 726.2h0M425.4 724.9h0M467.5 723.7h0M435.6 725.9h0M452.3 722.7h0M439.2 726.3h0M437.4 721.2h0M447.7 725.6h0M468.8 721.7h0M460.4 725.2h0M425.0 726.3h0M458.5 725.3h0M423.7 726.1h0M432.1 722.0h0M426.2 726.3h0M438.0 726.2h0M459.8 724.1h0M451.5 725.6h0M455.3 725.4h0M457.9 726.2h0M475.5 726.3h0M453.8 725.9h0M447.3 726.0h0M458.9 725.7h0M470.9 722.6h0M448.0 720.9h0M441.9 724.3h0M451.1 725.6h0M424.5 721.0h0M440.2 722.9h0M436.8 724.0h0M450.4 723.1h0M447.5 725.5h0M427.0 726.3h0M426.0 721.5h0M460.6 725.1h0M475.9 726.3h0M477.8 725.9h0M455.7 724.9h0M426.4 723.9h0M465.3 724.5h0M464.4 722.6h0M428.7 723.4h0M451.1 725.1h0M466.2 726.3h0M454.4 726.2h0M430.8 725.7h0M457.7 721.1h0M456.9 723.0h0M472.5 724.2h0M443.5 726.2h0M456.3 725.9h0M475.3 725.1h0M437.0 725.8h0M463.6 721.5h0M443.2 725.0h0M429.9 723.0h0M434.5 723.1h0M425.5 722.4h0M471.9 721.5h0M430.6 726.3h0M469.4 721.5h0M468.3 725.6h0M435.7 724.1h0M445.6 723.3h0M471.2 726.1h0M435.5 723.1h0M461.3 725.0h0M436.3 725.3h0M477.1 724.4h0M436.0 726.2h0M479.1 724.7h0M421.7 720.8h0M429.3 723.7h0M429.2 725.9h0M479.6 724.6h0M442.8 721.0h0M461.7 721.6h0M474.2 726.2h0M478.7 725.7h0M474.1 726.1h0M451.5 724.5h0M449.9 726.0h0M453.9 722.8h0M452.6 720.9h0M429.1 721.6h0M456.5 724.3h0M441.0 723.6h0M469.0 725.4h0M443.1 726.0h0M459.3 723.8h0M422.1 725.3h0M445.6 724.2h0M443.9 726.0h0M470.6 726.2h0M478.0 724.1h0M430.7 724.6h0M479.7 725.5h0M441.3 726.3h0M431.2 726.2h0M457.6 725.9h0M472.2 726.3h0M431.4 725.5h0M452.1 726.2h0M450.7 725.7h0M442.1 726.2h0M426.2 725.3h0M470.6 725.3h0M428.8 725.0h0M426.1 724.8h0M421.8 726.2h0M431.6 725.2h0M428.3 725.9h0M429.7 723.6h0M468.6 724.6h0M455.5 725.5h0M469.3 725.8h0M425.8 724.6h0M429.5 724.5h0M432.0 725.3h0M459.7 725.3h0M440.3 724.4h0M447.7 726.3h0M453.7 723.5h0M466.2 724.8h0M477.0 724.8h0M464.6 723.3h0M429.5 724.0h0M463.0 726.0h0M471.9 725.0h0M440.7 724.2h0M442.7 716.1h0M463.8 715.0h0M463.6 714.8h0M463.5 715.4h0M466.2 714.2h0M507.7 713.5h0M507.7 714.5h0M506.4 720.4h0M513.4 719.9h0M511.9 720.5h0M512.8 719.7h0M509.7 720.4h0M512.4 719.0h0M511.8 719.6h0M508.3 719.7h0M507.9 720.6h0M513.1 718.7h0M505.3 720.7h0M511.9 720.5h0M510.9 720.6h0M505.7 720.6h0M515.5 721.8h0M517.5 723.5h0M514.7 722.8h0M517.2 723.2h0M518.2 721.9h0M514.2 723.2h0M522.2 722.0h0M523.7 722.1h0M523.7 724.7h0M516.5 724.1h0M522.6 722.2h0M514.8 724.2h0M514.6 723.3h0M514.4 724.4h0M523.7 724.5h0M526.9 724.4h0M524.4 724.4h0M522.4 722.9h0M478.1 724.1h0M495.3 722.8h0M479.1 724.4h0M480.6 725.7h0M482.0 721.9h0M486.6 725.3h0M492.4 725.8h0M481.8 723.1h0M494.8 725.8h0M491.8 722.9h0M496.0 725.5h0M475.7 723.9h0M490.4 721.8h0M494.6 725.6h0M489.0 724.1h0M479.7 725.8h0M475.3 723.0h0M476.5 725.5h0M478.0 724.2h0M484.9 723.1h0M495.1 723.1h0M479.2 721.9h0M492.5 725.1h0M495.6 725.2h0M488.8 725.2h0M490.9 725.4h0M484.3 725.3h0M493.2 723.4h0M478.8 725.7h0M500.5 721.7h0M502.6 725.8h0M528.1 718.3h0M530.6 718.0h0M531.4 717.8h0M529.9 717.6h0M535.0 715.0h0M537.3 715.1h0M533.6 717.1h0M542.7 715.1h0M543.2 715.0h0M542.2 715.0h0M539.8 714.1h0M534.3 715.7h0M533.3 716.7h0M537.2 717.0h0M539.4 716.6h0M535.6 714.1h0M542.9 713.7h0M539.7 716.9h0M533.0 716.8h0M534.8 716.8h0M532.5 717.1h0M543.3 714.3h0M536.0 720.7h0M543.6 724.7h0M538.6 723.7h0M540.4 721.9h0M536.8 723.9h0M542.2 724.6h0M535.7 720.4h0M540.4 724.3h0M540.0 724.2h0M537.9 723.1h0M539.4 724.6h0M536.6 721.1h0M543.2 722.9h0M538.7 722.7h0M542.9 720.2h0M538.2 719.6h0M539.7 723.2h0M541.3 720.9h0M533.8 725.3h0M533.0 725.6h0M532.1 724.8h0M574.7 708.0h0M574.7 708.9h0M574.7 708.9h0M563.0 709.6h0M564.0 713.6h0M575.8 713.1h0M576.8 715.7h0M579.9 717.7h0M590.1 717.8h0M590.2 719.0h0M586.3 718.1h0M584.6 719.2h0M584.3 717.5h0M586.3 717.8h0M602.1 719.2h0M601.4 718.8h0M599.6 719.3h0M551.1 717.5h0M551.6 716.3h0M546.1 714.5h0M540.7 719.3h0M550.4 716.9h0M541.6 718.4h0M546.6 715.4h0M541.6 717.6h0M547.1 717.0h0M551.1 715.8h0M550.2 719.2h0M545.1 718.4h0M549.9 718.3h0M540.9 717.8h0M541.8 717.6h0M540.6 719.3h0M545.5 718.1h0M541.7 719.3h0M542.2 723.1h0M542.2 723.3h0M542.8 723.3h0M540.2 721.5h0M596.7 726.2h0M565.1 723.9h0M587.0 726.2h0M562.0 721.9h0M580.2 721.3h0M557.8 726.0h0M605.4 723.5h0M561.3 726.1h0M559.4 726.2h0M572.8 726.0h0M588.5 726.0h0M563.1 725.9h0M556.9 725.2h0M551.9 726.4h0M589.2 726.4h0M576.7 726.4h0M585.4 722.2h0M571.8 725.7h0M566.6 725.2h0M556.1 726.4h0M559.4 726.2h0M552.7 725.6h0M558.9 724.2h0M590.4 724.8h0M593.5 724.8h0M574.7 723.1h0M548.8 726.0h0M569.6 723.7h0M551.4 725.8h0M603.1 726.1h0M600.2 725.0h0M562.0 722.6h0M602.8 726.0h0M584.3 726.0h0M575.9 721.8h0M607.3 725.2h0M605.3 722.4h0M560.4 723.6h0M547.5 726.4h0M580.8 721.9h0M607.3 722.3h0M608.1 726.0h0M557.5 725.8h0M609.7 725.8h0M568.6 721.8h0M598.7 724.9h0M603.5 722.9h0M560.9 725.5h0M605.8 724.8h0M601.8 724.2h0M578.5 726.1h0M582.6 722.0h0M597.7 723.0h0M590.1 725.1h0M574.2 723.7h0M597.9 724.7h0M609.1 722.3h0M589.3 725.5h0M600.5 724.5h0M575.9 725.9h0M597.4 725.9h0M546.5 723.5h0M555.2 726.3h0M595.6 724.3h0M551.2 725.6h0M585.4 724.3h0M563.4 725.2h0M560.9 725.6h0M570.5 722.8h0M581.2 723.5h0M564.0 726.0h0M601.3 723.8h0M555.9 722.0h0M552.4 725.9h0M570.8 726.1h0M604.6 723.5h0M555.4 724.3h0M555.3 725.4h0M582.8 725.8h0M557.1 724.8h0M603.4 725.8h0M573.1 722.6h0M571.9 722.0h0M570.8 722.9h0M641.8 719.8h0M606.9 719.9h0M635.2 721.5h0M621.2 721.3h0M631.0 719.8h0M631.3 721.1h0M623.0 718.5h0M631.4 720.8h0M631.4 718.7h0M635.1 718.4h0M614.6 718.3h0M613.1 719.7h0M618.1 721.4h0M616.3 718.3h0M640.7 721.0h0M634.2 718.1h0M636.7 720.9h0M605.4 721.5h0M617.9 721.5h0M638.1 721.2h0M637.8 720.6h0M619.3 720.5h0M606.8 720.9h0M641.6 720.6h0M640.9 718.2h0M622.0 721.4h0M610.9 718.9h0M612.9 721.5h0M633.5 721.4h0M643.1 719.5h0M632.1 721.5h0M611.9 719.1h0M642.7 721.5h0M607.7 719.2h0M630.4 721.3h0M621.8 721.3h0M608.5 721.4h0M625.9 720.5h0M605.1 718.9h0M607.8 720.9h0M606.9 723.4h0M616.3 722.7h0M612.8 723.8h0M607.4 723.6h0M616.4 723.9h0M614.8 721.8h0M616.7 716.9h0M626.0 724.3h0M637.4 724.6h0M625.9 724.1h0M626.1 724.5h0M639.8 724.5h0M660.0 725.0h0M649.9 724.6h0M680.0 722.6h0M665.0 723.4h0M676.6 721.8h0M656.3 719.5h0M678.8 724.7h0M677.5 722.5h0M673.9 724.8h0M648.6 724.8h0M657.4 724.8h0M668.8 723.7h0M660.0 719.8h0M659.3 722.7h0M653.7 723.9h0M653.3 725.0h0M674.3 721.7h0M660.5 721.9h0M650.8 723.7h0M681.9 724.5h0M659.1 722.7h0M662.5 723.0h0M659.6 724.3h0M678.1 723.6h0M654.6 720.2h0M652.1 723.5h0M648.7 719.7h0M644.0 723.3h0M661.2 723.4h0M649.3 725.0h0M661.7 723.2h0M645.6 724.2h0M656.9 724.1h0M666.6 724.9h0M664.0 724.6h0M644.1 721.8h0M668.0 723.2h0M670.1 720.2h0M669.0 720.7h0M674.8 724.5h0M662.2 721.4h0M645.4 719.9h0M657.3 720.1h0M674.2 722.9h0M662.6 724.7h0M644.9 725.0h0M652.0 719.6h0M648.1 723.6h0M663.0 719.9h0M654.0 720.6h0M653.0 723.4h0M670.7 722.6h0M666.0 722.7h0M680.2 724.2h0M649.9 725.0h0M681.0 722.1h0M653.0 720.6h0M661.1 719.7h0M668.4 722.8h0M677.4 722.4h0M655.7 720.2h0M655.7 720.2h0M649.6 722.0h0M655.1 722.3h0M669.1 719.3h0M680.5 723.8h0M672.3 724.9h0M644.2 722.2h0M648.0 723.5h0M647.3 719.2h0M664.4 722.3h0M679.5 724.8h0M674.5 714.5h0M675.1 718.0h0" stroke="#4a8ac6" stroke-width="1.8" stroke-linecap="round" fill="none"/>
</svg></body></html>
